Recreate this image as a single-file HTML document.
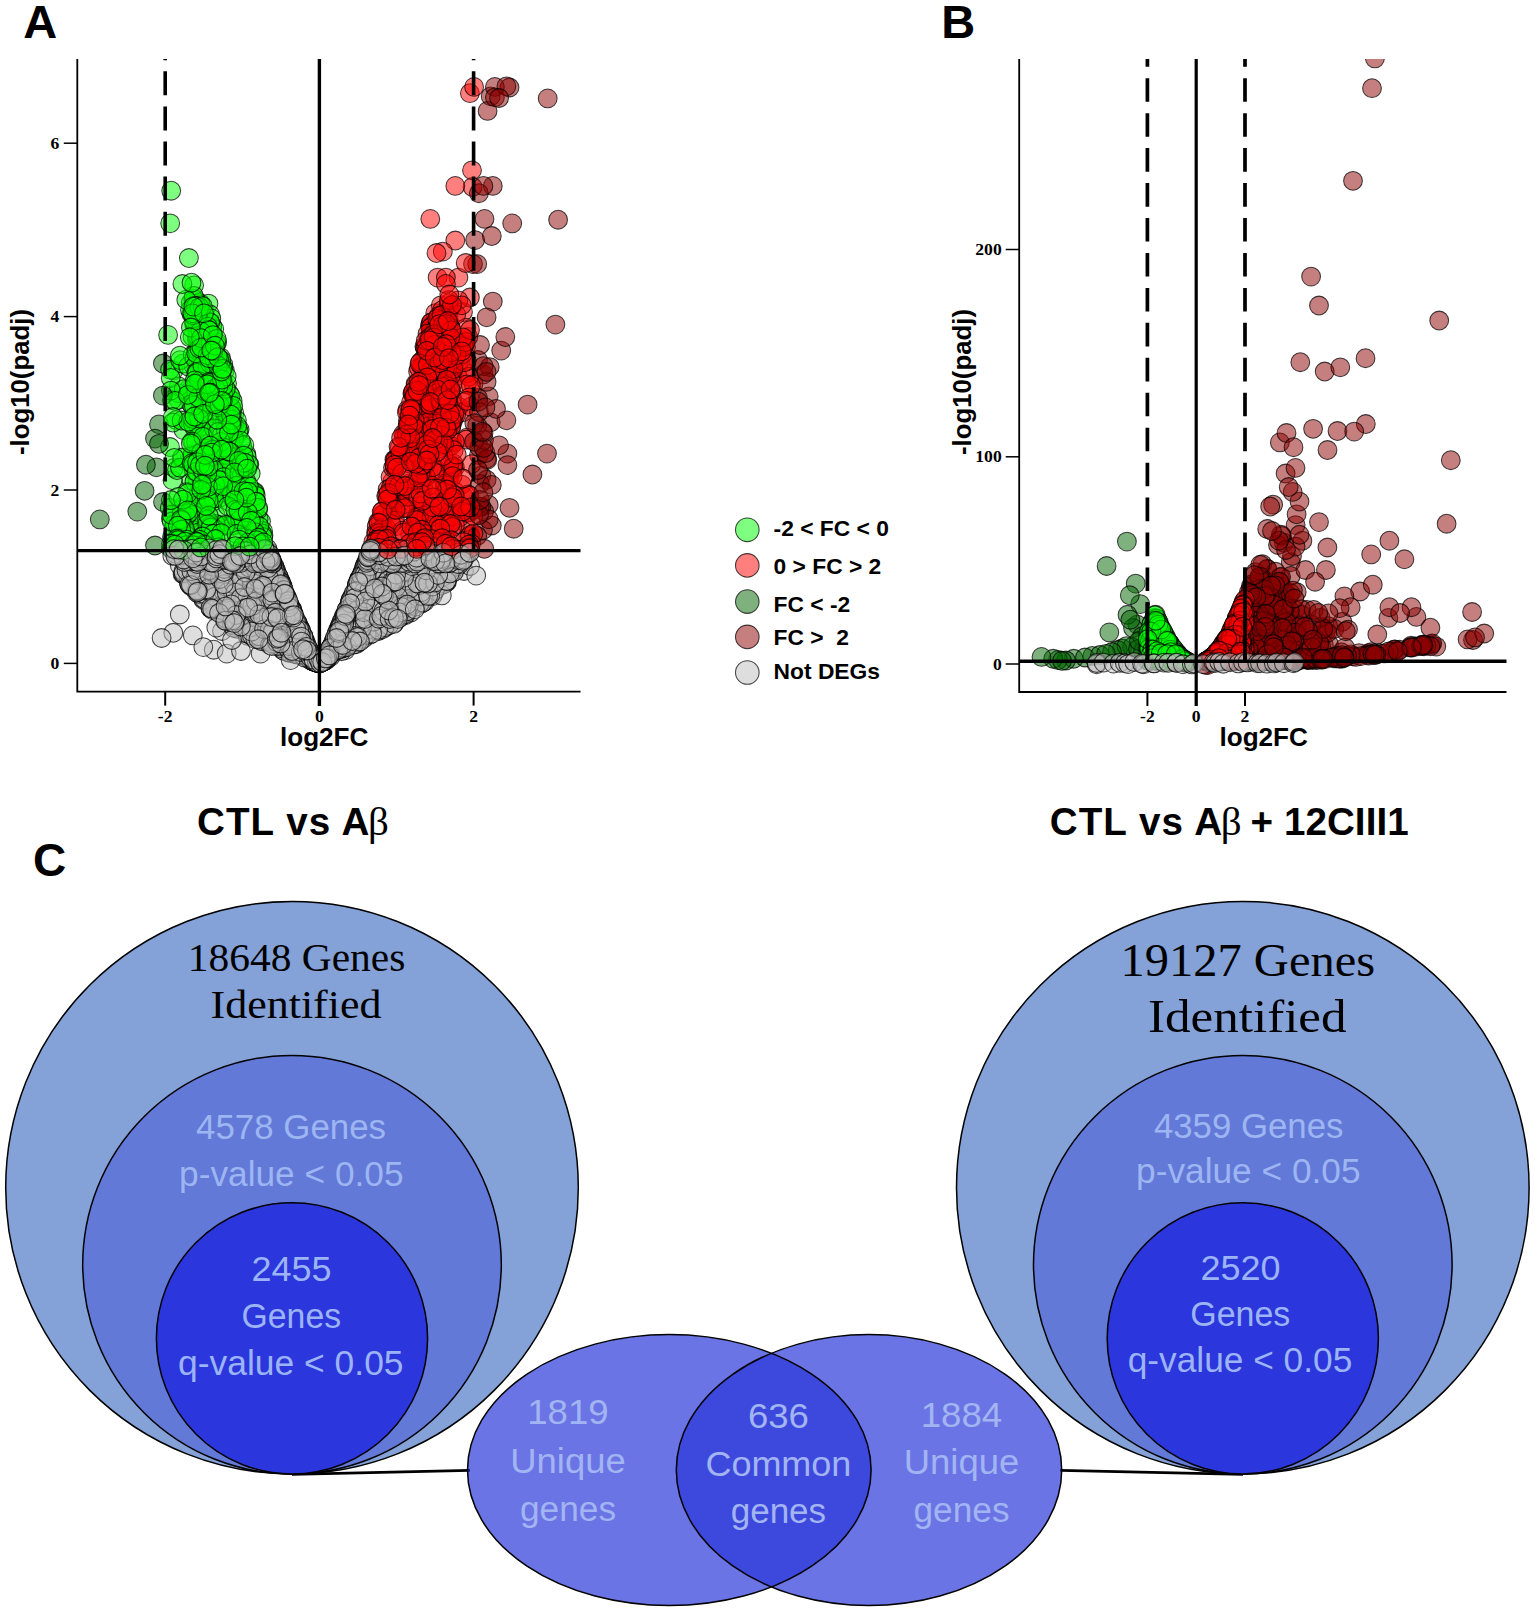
<!DOCTYPE html>
<html lang="en"><head><meta charset="utf-8">
<title>Volcano plots and Venn diagrams of differentially expressed genes</title>
<style>
html,body{margin:0;padding:0;background:#fff;}
body{width:1535px;height:1613px;overflow:hidden;}
svg{display:block;}
text{font-family:"Liberation Sans", Arial, Helvetica, sans-serif;}
.b{font-weight:700;fill:#000;}
.tk{font-family:"Liberation Serif", "Times New Roman", Times, serif;font-weight:700;font-size:17.6px;fill:#000;}
.pal{font-family:"Liberation Serif", "Times New Roman", Times, serif;fill:#000;}
.cal{fill:#9db6f2;font-size:34.4px;}
.cal2{fill:#9cb4f6;font-size:34.4px;}
.cal3{fill:#a3b4f3;font-size:34.4px;}
circle{stroke:#000;stroke-opacity:.72;stroke-width:1.05px;}
.g{fill:rgba(0,255,0,.5);}
.r{fill:rgba(255,0,0,.5);}
.G{fill:rgba(0,100,0,.5);}
.R{fill:rgba(139,0,0,.5);}
.n{fill:rgba(190,190,190,.5);}
.ax{stroke:#000;fill:none;}
</style></head><body>
<svg width="1535" height="1613" viewBox="0 0 1535 1613">
<rect x="0" y="0" width="1535" height="1613" fill="#fff"/>
<text class="b" x="23.3" y="38.0" font-size="47">A</text>
<text class="b" x="941.3" y="38.4" font-size="47">B</text>
<text class="b" x="33" y="876" font-size="46">C</text>
<clipPath id="ca"><rect x="77.3" y="59.0" width="515.2" height="632.6"/></clipPath>
<g clip-path="url(#ca)">
<circle class="n" cx="434.5" cy="565.6" r="9.4"/>
<circle class="n" cx="344.4" cy="646.1" r="9.4"/>
<circle class="n" cx="310.5" cy="652.4" r="9.4"/>
<circle class="n" cx="266.5" cy="636.0" r="9.4"/>
<circle class="n" cx="269.4" cy="571.9" r="9.4"/>
<circle class="n" cx="361.9" cy="573.7" r="9.4"/>
<circle class="n" cx="295.1" cy="650.8" r="9.4"/>
<circle class="n" cx="386.2" cy="626.7" r="9.4"/>
<circle class="n" cx="258.0" cy="638.9" r="9.4"/>
<circle class="n" cx="393.4" cy="615.1" r="9.4"/>
<circle class="n" cx="352.1" cy="628.6" r="9.4"/>
<circle class="n" cx="375.8" cy="622.9" r="9.4"/>
<circle class="n" cx="404.0" cy="585.1" r="9.4"/>
<circle class="n" cx="280.8" cy="584.7" r="9.4"/>
<circle class="n" cx="320.9" cy="662.6" r="9.4"/>
<circle class="n" cx="195.7" cy="573.6" r="9.4"/>
<circle class="n" cx="351.5" cy="624.4" r="9.4"/>
<circle class="n" cx="450.4" cy="566.2" r="9.4"/>
<circle class="n" cx="286.4" cy="596.4" r="9.4"/>
<circle class="n" cx="311.3" cy="656.0" r="9.4"/>
<circle class="n" cx="226.8" cy="616.0" r="9.4"/>
<circle class="n" cx="391.0" cy="580.6" r="9.4"/>
<circle class="n" cx="382.5" cy="585.2" r="9.4"/>
<circle class="n" cx="294.2" cy="648.4" r="9.4"/>
<circle class="n" cx="237.1" cy="628.8" r="9.4"/>
<circle class="n" cx="317.3" cy="662.7" r="9.4"/>
<circle class="n" cx="224.6" cy="584.8" r="9.4"/>
<circle class="n" cx="216.7" cy="584.8" r="9.4"/>
<circle class="n" cx="409.8" cy="571.9" r="9.4"/>
<circle class="n" cx="275.6" cy="571.8" r="9.4"/>
<circle class="n" cx="253.4" cy="586.7" r="9.4"/>
<circle class="n" cx="173.3" cy="632.8" r="9.4"/>
<circle class="n" cx="429.8" cy="579.9" r="9.4"/>
<circle class="n" cx="296.1" cy="623.1" r="9.4"/>
<circle class="n" cx="242.4" cy="591.2" r="9.4"/>
<circle class="n" cx="195.3" cy="565.4" r="9.4"/>
<circle class="n" cx="312.7" cy="661.1" r="9.4"/>
<circle class="n" cx="285.3" cy="605.8" r="9.4"/>
<circle class="n" cx="364.6" cy="567.0" r="9.4"/>
<circle class="n" cx="291.7" cy="608.6" r="9.4"/>
<circle class="n" cx="353.1" cy="619.9" r="9.4"/>
<circle class="n" cx="222.0" cy="631.0" r="9.4"/>
<circle class="n" cx="274.6" cy="567.2" r="9.4"/>
<circle class="n" cx="252.2" cy="615.3" r="9.4"/>
<circle class="n" cx="291.0" cy="610.1" r="9.4"/>
<circle class="n" cx="284.2" cy="617.9" r="9.4"/>
<circle class="n" cx="309.1" cy="652.3" r="9.4"/>
<circle class="n" cx="415.0" cy="596.6" r="9.4"/>
<circle class="n" cx="260.8" cy="628.7" r="9.4"/>
<circle class="n" cx="303.1" cy="635.5" r="9.4"/>
<circle class="n" cx="464.0" cy="571.0" r="9.4"/>
<circle class="n" cx="333.8" cy="649.0" r="9.4"/>
<circle class="n" cx="260.4" cy="620.0" r="9.4"/>
<circle class="n" cx="305.2" cy="640.8" r="9.4"/>
<circle class="n" cx="248.0" cy="569.7" r="9.4"/>
<circle class="n" cx="367.0" cy="580.8" r="9.4"/>
<circle class="n" cx="342.7" cy="626.5" r="9.4"/>
<circle class="n" cx="245.0" cy="567.9" r="9.4"/>
<circle class="n" cx="306.5" cy="655.5" r="9.4"/>
<circle class="n" cx="340.4" cy="626.0" r="9.4"/>
<circle class="n" cx="354.5" cy="595.9" r="9.4"/>
<circle class="n" cx="361.9" cy="636.9" r="9.4"/>
<circle class="n" cx="290.0" cy="608.1" r="9.4"/>
<circle class="n" cx="364.3" cy="620.2" r="9.4"/>
<circle class="n" cx="184.2" cy="574.4" r="9.4"/>
<circle class="n" cx="385.7" cy="586.5" r="9.4"/>
<circle class="n" cx="313.0" cy="661.3" r="9.4"/>
<circle class="n" cx="274.1" cy="612.6" r="9.4"/>
<circle class="n" cx="209.1" cy="570.6" r="9.4"/>
<circle class="n" cx="278.1" cy="576.0" r="9.4"/>
<circle class="n" cx="359.1" cy="579.3" r="9.4"/>
<circle class="n" cx="297.8" cy="623.1" r="9.4"/>
<circle class="n" cx="356.9" cy="584.5" r="9.4"/>
<circle class="n" cx="397.9" cy="591.7" r="9.4"/>
<circle class="n" cx="356.3" cy="593.1" r="9.4"/>
<circle class="n" cx="350.0" cy="602.0" r="9.4"/>
<circle class="n" cx="324.2" cy="661.0" r="9.4"/>
<circle class="n" cx="257.2" cy="605.0" r="9.4"/>
<circle class="n" cx="260.3" cy="607.1" r="9.4"/>
<circle class="n" cx="310.1" cy="653.6" r="9.4"/>
<circle class="n" cx="360.6" cy="577.8" r="9.4"/>
<circle class="n" cx="251.4" cy="603.9" r="9.4"/>
<circle class="n" cx="316.6" cy="662.4" r="9.4"/>
<circle class="n" cx="234.9" cy="625.8" r="9.4"/>
<circle class="n" cx="355.3" cy="592.2" r="9.4"/>
<circle class="n" cx="283.5" cy="591.3" r="9.4"/>
<circle class="n" cx="347.3" cy="609.1" r="9.4"/>
<circle class="n" cx="290.8" cy="609.2" r="9.4"/>
<circle class="n" cx="291.6" cy="609.1" r="9.4"/>
<circle class="n" cx="354.9" cy="595.5" r="9.4"/>
<circle class="n" cx="294.5" cy="622.3" r="9.4"/>
<circle class="n" cx="371.8" cy="622.1" r="9.4"/>
<circle class="n" cx="272.2" cy="597.7" r="9.4"/>
<circle class="n" cx="282.7" cy="599.0" r="9.4"/>
<circle class="n" cx="346.3" cy="613.3" r="9.4"/>
<circle class="n" cx="293.4" cy="615.5" r="9.4"/>
<circle class="n" cx="335.1" cy="639.8" r="9.4"/>
<circle class="n" cx="179.8" cy="614.5" r="9.4"/>
<circle class="n" cx="338.2" cy="629.6" r="9.4"/>
<circle class="n" cx="379.2" cy="624.3" r="9.4"/>
<circle class="n" cx="413.6" cy="590.1" r="9.4"/>
<circle class="n" cx="349.2" cy="630.0" r="9.4"/>
<circle class="n" cx="260.7" cy="639.8" r="9.4"/>
<circle class="n" cx="273.5" cy="590.3" r="9.4"/>
<circle class="n" cx="365.7" cy="626.0" r="9.4"/>
<circle class="n" cx="238.3" cy="564.5" r="9.4"/>
<circle class="n" cx="400.7" cy="570.4" r="9.4"/>
<circle class="n" cx="299.4" cy="630.3" r="9.4"/>
<circle class="n" cx="398.5" cy="611.7" r="9.4"/>
<circle class="n" cx="294.8" cy="617.6" r="9.4"/>
<circle class="n" cx="410.8" cy="612.4" r="9.4"/>
<circle class="n" cx="278.3" cy="579.5" r="9.4"/>
<circle class="n" cx="321.3" cy="662.4" r="9.4"/>
<circle class="n" cx="275.3" cy="619.1" r="9.4"/>
<circle class="n" cx="352.2" cy="598.0" r="9.4"/>
<circle class="n" cx="287.7" cy="615.7" r="9.4"/>
<circle class="n" cx="305.3" cy="642.2" r="9.4"/>
<circle class="n" cx="381.1" cy="606.5" r="9.4"/>
<circle class="n" cx="451.3" cy="573.6" r="9.4"/>
<circle class="n" cx="379.9" cy="573.4" r="9.4"/>
<circle class="n" cx="362.3" cy="605.1" r="9.4"/>
<circle class="n" cx="319.3" cy="663.4" r="9.4"/>
<circle class="n" cx="425.9" cy="578.5" r="9.4"/>
<circle class="n" cx="308.3" cy="653.1" r="9.4"/>
<circle class="n" cx="253.8" cy="575.2" r="9.4"/>
<circle class="n" cx="300.8" cy="654.2" r="9.4"/>
<circle class="n" cx="324.2" cy="661.0" r="9.4"/>
<circle class="n" cx="281.5" cy="626.2" r="9.4"/>
<circle class="n" cx="336.5" cy="637.2" r="9.4"/>
<circle class="n" cx="356.6" cy="587.2" r="9.4"/>
<circle class="n" cx="203.0" cy="584.0" r="9.4"/>
<circle class="n" cx="288.2" cy="652.5" r="9.4"/>
<circle class="n" cx="356.0" cy="594.1" r="9.4"/>
<circle class="n" cx="289.8" cy="643.3" r="9.4"/>
<circle class="n" cx="310.9" cy="654.2" r="9.4"/>
<circle class="n" cx="290.9" cy="610.9" r="9.4"/>
<circle class="n" cx="308.9" cy="656.9" r="9.4"/>
<circle class="n" cx="347.4" cy="640.6" r="9.4"/>
<circle class="n" cx="285.7" cy="597.9" r="9.4"/>
<circle class="n" cx="404.4" cy="576.9" r="9.4"/>
<circle class="n" cx="333.5" cy="641.2" r="9.4"/>
<circle class="n" cx="227.4" cy="621.3" r="9.4"/>
<circle class="n" cx="287.1" cy="601.8" r="9.4"/>
<circle class="n" cx="293.2" cy="613.4" r="9.4"/>
<circle class="n" cx="292.9" cy="612.0" r="9.4"/>
<circle class="n" cx="298.3" cy="627.4" r="9.4"/>
<circle class="n" cx="271.9" cy="567.2" r="9.4"/>
<circle class="n" cx="413.3" cy="587.3" r="9.4"/>
<circle class="n" cx="301.5" cy="645.1" r="9.4"/>
<circle class="n" cx="280.6" cy="643.6" r="9.4"/>
<circle class="n" cx="434.2" cy="586.7" r="9.4"/>
<circle class="n" cx="376.0" cy="582.5" r="9.4"/>
<circle class="n" cx="359.3" cy="578.6" r="9.4"/>
<circle class="n" cx="369.3" cy="593.0" r="9.4"/>
<circle class="n" cx="440.3" cy="572.8" r="9.4"/>
<circle class="n" cx="358.4" cy="587.7" r="9.4"/>
<circle class="n" cx="375.9" cy="605.1" r="9.4"/>
<circle class="n" cx="300.9" cy="638.7" r="9.4"/>
<circle class="n" cx="316.1" cy="662.3" r="9.4"/>
<circle class="n" cx="198.4" cy="568.9" r="9.4"/>
<circle class="n" cx="297.7" cy="653.6" r="9.4"/>
<circle class="n" cx="369.1" cy="592.5" r="9.4"/>
<circle class="n" cx="359.2" cy="582.6" r="9.4"/>
<circle class="n" cx="298.9" cy="629.6" r="9.4"/>
<circle class="n" cx="191.9" cy="570.6" r="9.4"/>
<circle class="n" cx="358.0" cy="586.3" r="9.4"/>
<circle class="n" cx="366.1" cy="568.7" r="9.4"/>
<circle class="n" cx="243.3" cy="629.6" r="9.4"/>
<circle class="n" cx="303.3" cy="643.1" r="9.4"/>
<circle class="n" cx="372.2" cy="568.2" r="9.4"/>
<circle class="n" cx="435.2" cy="575.5" r="9.4"/>
<circle class="n" cx="300.8" cy="636.3" r="9.4"/>
<circle class="n" cx="290.6" cy="631.7" r="9.4"/>
<circle class="n" cx="213.7" cy="568.7" r="9.4"/>
<circle class="n" cx="280.4" cy="617.6" r="9.4"/>
<circle class="n" cx="324.6" cy="660.8" r="9.4"/>
<circle class="n" cx="293.6" cy="618.5" r="9.4"/>
<circle class="n" cx="331.6" cy="652.2" r="9.4"/>
<circle class="n" cx="298.3" cy="626.0" r="9.4"/>
<circle class="n" cx="393.0" cy="606.5" r="9.4"/>
<circle class="n" cx="287.4" cy="600.3" r="9.4"/>
<circle class="n" cx="161.6" cy="638.0" r="9.4"/>
<circle class="n" cx="435.8" cy="570.5" r="9.4"/>
<circle class="n" cx="261.3" cy="637.7" r="9.4"/>
<circle class="n" cx="240.4" cy="575.5" r="9.4"/>
<circle class="n" cx="235.9" cy="573.9" r="9.4"/>
<circle class="n" cx="309.7" cy="651.3" r="9.4"/>
<circle class="n" cx="391.9" cy="579.1" r="9.4"/>
<circle class="n" cx="358.8" cy="639.4" r="9.4"/>
<circle class="n" cx="363.2" cy="575.0" r="9.4"/>
<circle class="n" cx="368.5" cy="617.6" r="9.4"/>
<circle class="n" cx="325.8" cy="658.7" r="9.4"/>
<circle class="n" cx="371.3" cy="569.6" r="9.4"/>
<circle class="n" cx="422.6" cy="599.6" r="9.4"/>
<circle class="n" cx="262.8" cy="637.4" r="9.4"/>
<circle class="n" cx="380.1" cy="604.8" r="9.4"/>
<circle class="n" cx="452.5" cy="563.7" r="9.4"/>
<circle class="n" cx="264.8" cy="590.6" r="9.4"/>
<circle class="n" cx="340.2" cy="627.4" r="9.4"/>
<circle class="n" cx="350.1" cy="604.4" r="9.4"/>
<circle class="n" cx="248.1" cy="588.3" r="9.4"/>
<circle class="n" cx="439.6" cy="564.4" r="9.4"/>
<circle class="n" cx="424.9" cy="601.4" r="9.4"/>
<circle class="n" cx="282.8" cy="649.9" r="9.4"/>
<circle class="n" cx="332.8" cy="643.7" r="9.4"/>
<circle class="n" cx="364.9" cy="569.5" r="9.4"/>
<circle class="n" cx="264.9" cy="600.2" r="9.4"/>
<circle class="n" cx="357.5" cy="586.8" r="9.4"/>
<circle class="n" cx="348.7" cy="619.5" r="9.4"/>
<circle class="n" cx="356.0" cy="623.4" r="9.4"/>
<circle class="n" cx="289.2" cy="604.6" r="9.4"/>
<circle class="n" cx="405.4" cy="615.2" r="9.4"/>
<circle class="n" cx="199.6" cy="579.3" r="9.4"/>
<circle class="n" cx="353.2" cy="621.8" r="9.4"/>
<circle class="n" cx="226.1" cy="587.1" r="9.4"/>
<circle class="n" cx="299.2" cy="630.0" r="9.4"/>
<circle class="n" cx="331.4" cy="646.8" r="9.4"/>
<circle class="n" cx="263.4" cy="620.7" r="9.4"/>
<circle class="n" cx="301.5" cy="633.0" r="9.4"/>
<circle class="n" cx="397.5" cy="605.4" r="9.4"/>
<circle class="n" cx="434.3" cy="568.1" r="9.4"/>
<circle class="n" cx="214.9" cy="566.6" r="9.4"/>
<circle class="n" cx="258.6" cy="566.5" r="9.4"/>
<circle class="n" cx="382.9" cy="619.0" r="9.4"/>
<circle class="n" cx="300.8" cy="641.0" r="9.4"/>
<circle class="n" cx="375.8" cy="565.8" r="9.4"/>
<circle class="n" cx="282.6" cy="587.1" r="9.4"/>
<circle class="n" cx="386.9" cy="585.6" r="9.4"/>
<circle class="n" cx="311.5" cy="660.3" r="9.4"/>
<circle class="n" cx="352.3" cy="625.4" r="9.4"/>
<circle class="n" cx="312.8" cy="657.9" r="9.4"/>
<circle class="n" cx="346.2" cy="613.1" r="9.4"/>
<circle class="n" cx="280.1" cy="623.9" r="9.4"/>
<circle class="n" cx="236.2" cy="572.3" r="9.4"/>
<circle class="n" cx="356.6" cy="636.8" r="9.4"/>
<circle class="n" cx="224.3" cy="612.3" r="9.4"/>
<circle class="n" cx="182.6" cy="574.1" r="9.4"/>
<circle class="n" cx="331.7" cy="646.0" r="9.4"/>
<circle class="n" cx="428.7" cy="590.3" r="9.4"/>
<circle class="n" cx="256.3" cy="637.0" r="9.4"/>
<circle class="n" cx="236.1" cy="615.6" r="9.4"/>
<circle class="n" cx="371.9" cy="582.0" r="9.4"/>
<circle class="n" cx="314.2" cy="660.2" r="9.4"/>
<circle class="n" cx="391.2" cy="593.6" r="9.4"/>
<circle class="n" cx="337.1" cy="638.2" r="9.4"/>
<circle class="n" cx="209.2" cy="601.8" r="9.4"/>
<circle class="n" cx="399.8" cy="587.6" r="9.4"/>
<circle class="n" cx="406.2" cy="575.0" r="9.4"/>
<circle class="n" cx="361.9" cy="624.3" r="9.4"/>
<circle class="n" cx="353.7" cy="642.0" r="9.4"/>
<circle class="n" cx="343.1" cy="627.7" r="9.4"/>
<circle class="n" cx="276.2" cy="574.8" r="9.4"/>
<circle class="n" cx="388.3" cy="567.5" r="9.4"/>
<circle class="n" cx="288.4" cy="636.2" r="9.4"/>
<circle class="n" cx="378.1" cy="567.3" r="9.4"/>
<circle class="n" cx="387.0" cy="588.0" r="9.4"/>
<circle class="n" cx="404.8" cy="575.7" r="9.4"/>
<circle class="n" cx="228.2" cy="586.7" r="9.4"/>
<circle class="n" cx="335.5" cy="637.1" r="9.4"/>
<circle class="n" cx="340.3" cy="624.7" r="9.4"/>
<circle class="n" cx="284.9" cy="596.0" r="9.4"/>
<circle class="n" cx="327.6" cy="658.0" r="9.4"/>
<circle class="n" cx="227.3" cy="583.1" r="9.4"/>
<circle class="n" cx="278.2" cy="577.7" r="9.4"/>
<circle class="n" cx="363.8" cy="633.2" r="9.4"/>
<circle class="n" cx="255.9" cy="597.5" r="9.4"/>
<circle class="n" cx="234.9" cy="576.8" r="9.4"/>
<circle class="n" cx="355.2" cy="612.3" r="9.4"/>
<circle class="n" cx="339.0" cy="634.5" r="9.4"/>
<circle class="n" cx="360.4" cy="600.7" r="9.4"/>
<circle class="n" cx="448.8" cy="571.0" r="9.4"/>
<circle class="n" cx="277.1" cy="638.4" r="9.4"/>
<circle class="n" cx="357.7" cy="586.8" r="9.4"/>
<circle class="n" cx="273.5" cy="567.0" r="9.4"/>
<circle class="n" cx="179.8" cy="565.5" r="9.4"/>
<circle class="n" cx="403.9" cy="614.4" r="9.4"/>
<circle class="n" cx="300.1" cy="628.5" r="9.4"/>
<circle class="n" cx="255.7" cy="569.6" r="9.4"/>
<circle class="n" cx="225.6" cy="610.9" r="9.4"/>
<circle class="n" cx="413.9" cy="586.7" r="9.4"/>
<circle class="n" cx="359.0" cy="612.3" r="9.4"/>
<circle class="n" cx="364.1" cy="570.5" r="9.4"/>
<circle class="n" cx="259.4" cy="573.1" r="9.4"/>
<circle class="n" cx="309.8" cy="650.8" r="9.4"/>
<circle class="n" cx="276.9" cy="582.1" r="9.4"/>
<circle class="n" cx="251.3" cy="631.9" r="9.4"/>
<circle class="n" cx="401.0" cy="575.0" r="9.4"/>
<circle class="n" cx="355.3" cy="600.4" r="9.4"/>
<circle class="n" cx="243.2" cy="591.0" r="9.4"/>
<circle class="n" cx="214.2" cy="608.1" r="9.4"/>
<circle class="n" cx="309.9" cy="655.6" r="9.4"/>
<circle class="n" cx="221.2" cy="572.1" r="9.4"/>
<circle class="n" cx="242.6" cy="609.7" r="9.4"/>
<circle class="n" cx="212.1" cy="601.5" r="9.4"/>
<circle class="n" cx="261.0" cy="617.4" r="9.4"/>
<circle class="n" cx="206.9" cy="566.4" r="9.4"/>
<circle class="n" cx="419.4" cy="570.7" r="9.4"/>
<circle class="n" cx="393.5" cy="590.3" r="9.4"/>
<circle class="n" cx="229.8" cy="593.6" r="9.4"/>
<circle class="n" cx="361.7" cy="637.9" r="9.4"/>
<circle class="n" cx="339.4" cy="644.6" r="9.4"/>
<circle class="n" cx="233.1" cy="578.1" r="9.4"/>
<circle class="n" cx="383.1" cy="607.7" r="9.4"/>
<circle class="n" cx="231.3" cy="588.3" r="9.4"/>
<circle class="n" cx="215.3" cy="591.9" r="9.4"/>
<circle class="n" cx="264.3" cy="611.0" r="9.4"/>
<circle class="n" cx="282.0" cy="634.6" r="9.4"/>
<circle class="n" cx="328.0" cy="652.9" r="9.4"/>
<circle class="n" cx="346.4" cy="646.2" r="9.4"/>
<circle class="n" cx="377.4" cy="605.3" r="9.4"/>
<circle class="n" cx="300.0" cy="638.1" r="9.4"/>
<circle class="n" cx="347.9" cy="608.0" r="9.4"/>
<circle class="n" cx="391.9" cy="600.9" r="9.4"/>
<circle class="n" cx="203.1" cy="598.4" r="9.4"/>
<circle class="n" cx="183.2" cy="573.9" r="9.4"/>
<circle class="n" cx="243.7" cy="592.4" r="9.4"/>
<circle class="n" cx="356.4" cy="594.0" r="9.4"/>
<circle class="n" cx="353.3" cy="628.1" r="9.4"/>
<circle class="n" cx="278.2" cy="619.9" r="9.4"/>
<circle class="n" cx="421.6" cy="603.6" r="9.4"/>
<circle class="n" cx="296.2" cy="649.1" r="9.4"/>
<circle class="n" cx="335.6" cy="639.3" r="9.4"/>
<circle class="n" cx="249.3" cy="609.8" r="9.4"/>
<circle class="n" cx="281.1" cy="596.0" r="9.4"/>
<circle class="n" cx="351.3" cy="618.8" r="9.4"/>
<circle class="n" cx="361.2" cy="583.8" r="9.4"/>
<circle class="n" cx="420.1" cy="602.7" r="9.4"/>
<circle class="n" cx="280.9" cy="582.1" r="9.4"/>
<circle class="n" cx="298.2" cy="626.6" r="9.4"/>
<circle class="n" cx="329.8" cy="654.4" r="9.4"/>
<circle class="n" cx="314.8" cy="661.8" r="9.4"/>
<circle class="n" cx="369.3" cy="635.0" r="9.4"/>
<circle class="n" cx="359.0" cy="580.4" r="9.4"/>
<circle class="n" cx="262.5" cy="641.3" r="9.4"/>
<circle class="n" cx="354.6" cy="592.8" r="9.4"/>
<circle class="n" cx="424.7" cy="596.2" r="9.4"/>
<circle class="n" cx="373.1" cy="578.0" r="9.4"/>
<circle class="n" cx="267.3" cy="583.4" r="9.4"/>
<circle class="n" cx="441.6" cy="573.4" r="9.4"/>
<circle class="n" cx="346.1" cy="615.3" r="9.4"/>
<circle class="n" cx="210.4" cy="608.3" r="9.4"/>
<circle class="n" cx="340.5" cy="645.2" r="9.4"/>
<circle class="n" cx="342.4" cy="622.8" r="9.4"/>
<circle class="n" cx="243.6" cy="622.5" r="9.4"/>
<circle class="n" cx="408.0" cy="610.9" r="9.4"/>
<circle class="n" cx="292.9" cy="640.0" r="9.4"/>
<circle class="n" cx="330.3" cy="654.8" r="9.4"/>
<circle class="n" cx="247.4" cy="585.9" r="9.4"/>
<circle class="n" cx="437.1" cy="586.3" r="9.4"/>
<circle class="n" cx="278.1" cy="577.9" r="9.4"/>
<circle class="n" cx="218.4" cy="584.9" r="9.4"/>
<circle class="n" cx="278.9" cy="577.2" r="9.4"/>
<circle class="n" cx="334.8" cy="642.7" r="9.4"/>
<circle class="n" cx="288.2" cy="602.5" r="9.4"/>
<circle class="n" cx="375.3" cy="582.0" r="9.4"/>
<circle class="n" cx="311.6" cy="658.5" r="9.4"/>
<circle class="n" cx="370.4" cy="579.1" r="9.4"/>
<circle class="n" cx="222.3" cy="614.6" r="9.4"/>
<circle class="n" cx="367.9" cy="604.0" r="9.4"/>
<circle class="n" cx="366.4" cy="564.0" r="9.4"/>
<circle class="n" cx="409.7" cy="591.6" r="9.4"/>
<circle class="n" cx="362.8" cy="572.6" r="9.4"/>
<circle class="n" cx="262.1" cy="577.8" r="9.4"/>
<circle class="n" cx="257.8" cy="633.8" r="9.4"/>
<circle class="n" cx="423.1" cy="578.5" r="9.4"/>
<circle class="n" cx="273.7" cy="571.3" r="9.4"/>
<circle class="n" cx="255.0" cy="591.5" r="9.4"/>
<circle class="n" cx="314.2" cy="661.6" r="9.4"/>
<circle class="n" cx="403.7" cy="607.9" r="9.4"/>
<circle class="n" cx="335.9" cy="649.3" r="9.4"/>
<circle class="n" cx="349.9" cy="612.9" r="9.4"/>
<circle class="n" cx="201.8" cy="582.4" r="9.4"/>
<circle class="n" cx="241.9" cy="627.2" r="9.4"/>
<circle class="n" cx="396.8" cy="601.3" r="9.4"/>
<circle class="n" cx="351.1" cy="602.1" r="9.4"/>
<circle class="n" cx="347.9" cy="608.3" r="9.4"/>
<circle class="n" cx="377.9" cy="631.0" r="9.4"/>
<circle class="n" cx="315.8" cy="661.2" r="9.4"/>
<circle class="n" cx="341.8" cy="623.7" r="9.4"/>
<circle class="n" cx="230.5" cy="577.1" r="9.4"/>
<circle class="n" cx="249.0" cy="600.4" r="9.4"/>
<circle class="n" cx="232.0" cy="624.7" r="9.4"/>
<circle class="n" cx="411.1" cy="567.7" r="9.4"/>
<circle class="n" cx="351.3" cy="616.4" r="9.4"/>
<circle class="n" cx="352.7" cy="595.8" r="9.4"/>
<circle class="n" cx="303.8" cy="640.5" r="9.4"/>
<circle class="n" cx="424.6" cy="578.6" r="9.4"/>
<circle class="n" cx="342.5" cy="621.3" r="9.4"/>
<circle class="n" cx="363.9" cy="592.3" r="9.4"/>
<circle class="n" cx="345.3" cy="650.2" r="9.4"/>
<circle class="n" cx="398.5" cy="597.3" r="9.4"/>
<circle class="n" cx="275.2" cy="573.3" r="9.4"/>
<circle class="n" cx="437.1" cy="579.3" r="9.4"/>
<circle class="n" cx="299.0" cy="626.7" r="9.4"/>
<circle class="n" cx="242.4" cy="584.9" r="9.4"/>
<circle class="n" cx="288.6" cy="610.0" r="9.4"/>
<circle class="n" cx="349.5" cy="606.6" r="9.4"/>
<circle class="n" cx="416.5" cy="578.8" r="9.4"/>
<circle class="n" cx="203.4" cy="599.8" r="9.4"/>
<circle class="n" cx="384.7" cy="603.3" r="9.4"/>
<circle class="n" cx="342.3" cy="627.6" r="9.4"/>
<circle class="n" cx="382.2" cy="626.7" r="9.4"/>
<circle class="n" cx="358.9" cy="581.5" r="9.4"/>
<circle class="n" cx="295.7" cy="623.2" r="9.4"/>
<circle class="n" cx="378.1" cy="576.2" r="9.4"/>
<circle class="n" cx="381.1" cy="587.2" r="9.4"/>
<circle class="n" cx="222.1" cy="613.2" r="9.4"/>
<circle class="n" cx="346.0" cy="617.0" r="9.4"/>
<circle class="n" cx="284.2" cy="651.1" r="9.4"/>
<circle class="n" cx="222.1" cy="576.2" r="9.4"/>
<circle class="n" cx="434.6" cy="591.0" r="9.4"/>
<circle class="n" cx="337.9" cy="645.5" r="9.4"/>
<circle class="n" cx="407.6" cy="571.0" r="9.4"/>
<circle class="n" cx="389.4" cy="600.5" r="9.4"/>
<circle class="n" cx="312.5" cy="661.1" r="9.4"/>
<circle class="n" cx="423.0" cy="577.5" r="9.4"/>
<circle class="n" cx="325.2" cy="659.0" r="9.4"/>
<circle class="n" cx="253.7" cy="581.0" r="9.4"/>
<circle class="n" cx="272.6" cy="580.5" r="9.4"/>
<circle class="n" cx="290.0" cy="629.6" r="9.4"/>
<circle class="n" cx="368.2" cy="622.7" r="9.4"/>
<circle class="n" cx="251.2" cy="627.2" r="9.4"/>
<circle class="n" cx="359.5" cy="578.9" r="9.4"/>
<circle class="n" cx="312.5" cy="656.6" r="9.4"/>
<circle class="n" cx="440.3" cy="582.7" r="9.4"/>
<circle class="n" cx="254.3" cy="607.3" r="9.4"/>
<circle class="n" cx="324.1" cy="661.0" r="9.4"/>
<circle class="n" cx="300.9" cy="638.2" r="9.4"/>
<circle class="n" cx="302.7" cy="636.9" r="9.4"/>
<circle class="n" cx="318.7" cy="663.2" r="9.4"/>
<circle class="n" cx="365.9" cy="628.4" r="9.4"/>
<circle class="n" cx="241.5" cy="621.8" r="9.4"/>
<circle class="n" cx="286.3" cy="640.6" r="9.4"/>
<circle class="n" cx="324.3" cy="660.9" r="9.4"/>
<circle class="n" cx="283.5" cy="650.6" r="9.4"/>
<circle class="n" cx="402.8" cy="579.2" r="9.4"/>
<circle class="n" cx="210.4" cy="601.2" r="9.4"/>
<circle class="n" cx="355.6" cy="626.0" r="9.4"/>
<circle class="n" cx="396.3" cy="591.6" r="9.4"/>
<circle class="n" cx="327.8" cy="657.5" r="9.4"/>
<circle class="n" cx="214.7" cy="596.4" r="9.4"/>
<circle class="n" cx="322.6" cy="661.8" r="9.4"/>
<circle class="n" cx="261.1" cy="638.1" r="9.4"/>
<circle class="n" cx="396.3" cy="595.4" r="9.4"/>
<circle class="n" cx="238.1" cy="581.9" r="9.4"/>
<circle class="n" cx="213.1" cy="591.6" r="9.4"/>
<circle class="n" cx="232.2" cy="613.2" r="9.4"/>
<circle class="n" cx="206.2" cy="590.6" r="9.4"/>
<circle class="n" cx="275.2" cy="573.2" r="9.4"/>
<circle class="n" cx="280.7" cy="581.5" r="9.4"/>
<circle class="n" cx="280.7" cy="592.1" r="9.4"/>
<circle class="n" cx="374.9" cy="584.1" r="9.4"/>
<circle class="n" cx="400.0" cy="617.4" r="9.4"/>
<circle class="n" cx="426.1" cy="575.1" r="9.4"/>
<circle class="n" cx="317.1" cy="662.6" r="9.4"/>
<circle class="n" cx="386.5" cy="569.0" r="9.4"/>
<circle class="n" cx="361.3" cy="575.9" r="9.4"/>
<circle class="n" cx="284.3" cy="609.7" r="9.4"/>
<circle class="n" cx="260.6" cy="653.6" r="9.4"/>
<circle class="n" cx="248.4" cy="626.6" r="9.4"/>
<circle class="n" cx="345.7" cy="630.4" r="9.4"/>
<circle class="n" cx="361.4" cy="635.0" r="9.4"/>
<circle class="n" cx="290.4" cy="624.2" r="9.4"/>
<circle class="n" cx="395.6" cy="596.2" r="9.4"/>
<circle class="n" cx="401.2" cy="586.3" r="9.4"/>
<circle class="n" cx="349.7" cy="603.3" r="9.4"/>
<circle class="n" cx="299.5" cy="631.2" r="9.4"/>
<circle class="n" cx="345.5" cy="647.0" r="9.4"/>
<circle class="n" cx="276.1" cy="570.7" r="9.4"/>
<circle class="n" cx="306.0" cy="645.1" r="9.4"/>
<circle class="n" cx="263.6" cy="607.4" r="9.4"/>
<circle class="n" cx="296.4" cy="621.9" r="9.4"/>
<circle class="n" cx="281.0" cy="648.2" r="9.4"/>
<circle class="n" cx="374.4" cy="571.6" r="9.4"/>
<circle class="n" cx="260.0" cy="601.9" r="9.4"/>
<circle class="n" cx="282.7" cy="586.5" r="9.4"/>
<circle class="n" cx="339.7" cy="630.6" r="9.4"/>
<circle class="n" cx="292.3" cy="616.1" r="9.4"/>
<circle class="n" cx="302.4" cy="638.9" r="9.4"/>
<circle class="n" cx="389.3" cy="598.4" r="9.4"/>
<circle class="n" cx="351.1" cy="598.8" r="9.4"/>
<circle class="n" cx="316.5" cy="662.4" r="9.4"/>
<circle class="n" cx="422.8" cy="577.7" r="9.4"/>
<circle class="n" cx="281.9" cy="635.9" r="9.4"/>
<circle class="n" cx="346.2" cy="614.1" r="9.4"/>
<circle class="n" cx="331.1" cy="652.4" r="9.4"/>
<circle class="n" cx="256.2" cy="598.0" r="9.4"/>
<circle class="n" cx="307.5" cy="657.3" r="9.4"/>
<circle class="n" cx="373.7" cy="585.1" r="9.4"/>
<circle class="n" cx="389.2" cy="618.8" r="9.4"/>
<circle class="n" cx="365.1" cy="565.7" r="9.4"/>
<circle class="n" cx="284.8" cy="595.2" r="9.4"/>
<circle class="n" cx="375.8" cy="571.8" r="9.4"/>
<circle class="n" cx="244.0" cy="604.1" r="9.4"/>
<circle class="n" cx="366.7" cy="590.6" r="9.4"/>
<circle class="n" cx="265.8" cy="569.4" r="9.4"/>
<circle class="n" cx="289.8" cy="613.4" r="9.4"/>
<circle class="n" cx="344.8" cy="618.5" r="9.4"/>
<circle class="n" cx="373.8" cy="622.5" r="9.4"/>
<circle class="n" cx="215.1" cy="607.9" r="9.4"/>
<circle class="n" cx="224.7" cy="620.6" r="9.4"/>
<circle class="n" cx="326.8" cy="659.7" r="9.4"/>
<circle class="n" cx="440.1" cy="574.1" r="9.4"/>
<circle class="n" cx="378.8" cy="602.2" r="9.4"/>
<circle class="n" cx="187.9" cy="572.3" r="9.4"/>
<circle class="n" cx="296.6" cy="621.7" r="9.4"/>
<circle class="n" cx="314.9" cy="661.9" r="9.4"/>
<circle class="n" cx="379.3" cy="630.6" r="9.4"/>
<circle class="n" cx="411.4" cy="602.7" r="9.4"/>
<circle class="n" cx="188.4" cy="574.2" r="9.4"/>
<circle class="n" cx="386.3" cy="625.0" r="9.4"/>
<circle class="n" cx="441.5" cy="580.5" r="9.4"/>
<circle class="n" cx="332.3" cy="648.3" r="9.4"/>
<circle class="n" cx="357.0" cy="589.0" r="9.4"/>
<circle class="n" cx="276.6" cy="573.1" r="9.4"/>
<circle class="n" cx="304.2" cy="648.5" r="9.4"/>
<circle class="n" cx="275.7" cy="569.3" r="9.4"/>
<circle class="n" cx="382.8" cy="629.0" r="9.4"/>
<circle class="n" cx="277.2" cy="574.8" r="9.4"/>
<circle class="n" cx="304.0" cy="639.3" r="9.4"/>
<circle class="n" cx="293.3" cy="615.4" r="9.4"/>
<circle class="n" cx="211.4" cy="592.9" r="9.4"/>
<circle class="n" cx="445.9" cy="573.3" r="9.4"/>
<circle class="n" cx="433.7" cy="593.0" r="9.4"/>
<circle class="n" cx="329.1" cy="653.4" r="9.4"/>
<circle class="n" cx="363.0" cy="571.6" r="9.4"/>
<circle class="n" cx="363.8" cy="568.5" r="9.4"/>
<circle class="n" cx="356.5" cy="644.0" r="9.4"/>
<circle class="n" cx="286.4" cy="598.5" r="9.4"/>
<circle class="n" cx="227.9" cy="574.3" r="9.4"/>
<circle class="n" cx="376.9" cy="579.5" r="9.4"/>
<circle class="n" cx="280.7" cy="600.2" r="9.4"/>
<circle class="n" cx="365.3" cy="564.5" r="9.4"/>
<circle class="n" cx="222.9" cy="613.4" r="9.4"/>
<circle class="n" cx="410.1" cy="601.3" r="9.4"/>
<circle class="n" cx="213.7" cy="649.7" r="9.4"/>
<circle class="n" cx="196.9" cy="566.3" r="9.4"/>
<circle class="n" cx="267.9" cy="636.1" r="9.4"/>
<circle class="n" cx="388.0" cy="580.6" r="9.4"/>
<circle class="n" cx="245.1" cy="622.0" r="9.4"/>
<circle class="n" cx="266.2" cy="612.9" r="9.4"/>
<circle class="n" cx="354.5" cy="596.0" r="9.4"/>
<circle class="n" cx="426.0" cy="594.2" r="9.4"/>
<circle class="n" cx="408.3" cy="609.9" r="9.4"/>
<circle class="n" cx="355.5" cy="596.5" r="9.4"/>
<circle class="n" cx="276.1" cy="638.6" r="9.4"/>
<circle class="n" cx="204.5" cy="599.2" r="9.4"/>
<circle class="n" cx="221.0" cy="573.0" r="9.4"/>
<circle class="n" cx="276.6" cy="646.0" r="9.4"/>
<circle class="n" cx="370.7" cy="621.4" r="9.4"/>
<circle class="n" cx="271.4" cy="624.4" r="9.4"/>
<circle class="n" cx="311.2" cy="654.3" r="9.4"/>
<circle class="n" cx="301.0" cy="630.5" r="9.4"/>
<circle class="n" cx="264.1" cy="598.9" r="9.4"/>
<circle class="n" cx="432.3" cy="596.2" r="9.4"/>
<circle class="n" cx="401.9" cy="580.9" r="9.4"/>
<circle class="n" cx="429.6" cy="577.2" r="9.4"/>
<circle class="n" cx="280.1" cy="585.6" r="9.4"/>
<circle class="n" cx="371.8" cy="628.1" r="9.4"/>
<circle class="n" cx="249.0" cy="632.5" r="9.4"/>
<circle class="n" cx="310.0" cy="659.7" r="9.4"/>
<circle class="n" cx="405.4" cy="614.2" r="9.4"/>
<circle class="n" cx="282.2" cy="628.7" r="9.4"/>
<circle class="n" cx="377.8" cy="582.5" r="9.4"/>
<circle class="n" cx="239.5" cy="577.5" r="9.4"/>
<circle class="n" cx="470.0" cy="566.0" r="9.4"/>
<circle class="n" cx="341.9" cy="621.5" r="9.4"/>
<circle class="n" cx="428.5" cy="571.5" r="9.4"/>
<circle class="n" cx="358.4" cy="589.3" r="9.4"/>
<circle class="n" cx="394.3" cy="622.9" r="9.4"/>
<circle class="n" cx="229.3" cy="601.9" r="9.4"/>
<circle class="n" cx="280.3" cy="639.5" r="9.4"/>
<circle class="n" cx="341.6" cy="651.2" r="9.4"/>
<circle class="n" cx="330.2" cy="648.3" r="9.4"/>
<circle class="n" cx="338.6" cy="629.3" r="9.4"/>
<circle class="n" cx="349.8" cy="629.3" r="9.4"/>
<circle class="n" cx="362.0" cy="617.5" r="9.4"/>
<circle class="n" cx="280.0" cy="582.0" r="9.4"/>
<circle class="n" cx="191.2" cy="586.4" r="9.4"/>
<circle class="n" cx="377.0" cy="612.2" r="9.4"/>
<circle class="n" cx="356.7" cy="591.4" r="9.4"/>
<circle class="n" cx="283.2" cy="597.6" r="9.4"/>
<circle class="n" cx="346.4" cy="621.9" r="9.4"/>
<circle class="n" cx="258.9" cy="605.9" r="9.4"/>
<circle class="n" cx="291.5" cy="613.6" r="9.4"/>
<circle class="n" cx="201.7" cy="582.1" r="9.4"/>
<circle class="n" cx="330.5" cy="656.7" r="9.4"/>
<circle class="n" cx="265.2" cy="576.2" r="9.4"/>
<circle class="n" cx="292.6" cy="613.2" r="9.4"/>
<circle class="n" cx="367.4" cy="588.5" r="9.4"/>
<circle class="n" cx="415.8" cy="566.5" r="9.4"/>
<circle class="n" cx="441.5" cy="585.2" r="9.4"/>
<circle class="n" cx="343.6" cy="616.8" r="9.4"/>
<circle class="n" cx="337.4" cy="636.7" r="9.4"/>
<circle class="n" cx="240.9" cy="586.1" r="9.4"/>
<circle class="n" cx="259.1" cy="620.5" r="9.4"/>
<circle class="n" cx="446.1" cy="564.5" r="9.4"/>
<circle class="n" cx="355.0" cy="595.1" r="9.4"/>
<circle class="n" cx="268.5" cy="564.6" r="9.4"/>
<circle class="n" cx="400.9" cy="605.0" r="9.4"/>
<circle class="n" cx="291.2" cy="612.2" r="9.4"/>
<circle class="n" cx="214.6" cy="579.6" r="9.4"/>
<circle class="n" cx="303.3" cy="643.0" r="9.4"/>
<circle class="n" cx="353.3" cy="641.9" r="9.4"/>
<circle class="n" cx="306.6" cy="644.2" r="9.4"/>
<circle class="n" cx="279.3" cy="618.5" r="9.4"/>
<circle class="n" cx="345.0" cy="615.8" r="9.4"/>
<circle class="n" cx="322.3" cy="662.0" r="9.4"/>
<circle class="n" cx="401.4" cy="568.1" r="9.4"/>
<circle class="n" cx="437.0" cy="567.6" r="9.4"/>
<circle class="n" cx="358.8" cy="605.9" r="9.4"/>
<circle class="n" cx="322.8" cy="661.7" r="9.4"/>
<circle class="n" cx="341.8" cy="621.1" r="9.4"/>
<circle class="n" cx="295.7" cy="624.6" r="9.4"/>
<circle class="n" cx="419.6" cy="603.3" r="9.4"/>
<circle class="n" cx="242.2" cy="604.3" r="9.4"/>
<circle class="n" cx="287.3" cy="598.0" r="9.4"/>
<circle class="n" cx="335.9" cy="644.0" r="9.4"/>
<circle class="n" cx="379.9" cy="610.8" r="9.4"/>
<circle class="n" cx="437.1" cy="574.9" r="9.4"/>
<circle class="n" cx="239.3" cy="574.5" r="9.4"/>
<circle class="n" cx="279.0" cy="611.9" r="9.4"/>
<circle class="n" cx="273.7" cy="639.9" r="9.4"/>
<circle class="n" cx="357.0" cy="587.3" r="9.4"/>
<circle class="n" cx="271.1" cy="643.3" r="9.4"/>
<circle class="n" cx="380.0" cy="605.7" r="9.4"/>
<circle class="n" cx="318.0" cy="661.8" r="9.4"/>
<circle class="n" cx="319.9" cy="663.2" r="9.4"/>
<circle class="n" cx="381.4" cy="571.7" r="9.4"/>
<circle class="n" cx="294.0" cy="614.7" r="9.4"/>
<circle class="n" cx="335.4" cy="640.3" r="9.4"/>
<circle class="n" cx="278.8" cy="576.9" r="9.4"/>
<circle class="n" cx="247.5" cy="635.7" r="9.4"/>
<circle class="n" cx="261.4" cy="573.7" r="9.4"/>
<circle class="n" cx="183.4" cy="571.2" r="9.4"/>
<circle class="n" cx="341.1" cy="644.8" r="9.4"/>
<circle class="n" cx="279.0" cy="580.1" r="9.4"/>
<circle class="n" cx="446.9" cy="582.0" r="9.4"/>
<circle class="n" cx="418.6" cy="597.0" r="9.4"/>
<circle class="n" cx="280.2" cy="581.8" r="9.4"/>
<circle class="n" cx="299.6" cy="630.1" r="9.4"/>
<circle class="n" cx="199.5" cy="578.2" r="9.4"/>
<circle class="n" cx="392.1" cy="587.3" r="9.4"/>
<circle class="n" cx="369.2" cy="610.4" r="9.4"/>
<circle class="n" cx="367.2" cy="630.0" r="9.4"/>
<circle class="n" cx="378.1" cy="582.8" r="9.4"/>
<circle class="n" cx="372.5" cy="572.0" r="9.4"/>
<circle class="n" cx="353.2" cy="599.5" r="9.4"/>
<circle class="n" cx="354.5" cy="597.8" r="9.4"/>
<circle class="n" cx="447.7" cy="569.9" r="9.4"/>
<circle class="n" cx="330.6" cy="651.0" r="9.4"/>
<circle class="n" cx="245.2" cy="607.8" r="9.4"/>
<circle class="n" cx="198.7" cy="579.4" r="9.4"/>
<circle class="n" cx="288.1" cy="636.3" r="9.4"/>
<circle class="n" cx="372.1" cy="608.9" r="9.4"/>
<circle class="n" cx="273.7" cy="567.4" r="9.4"/>
<circle class="n" cx="243.8" cy="603.7" r="9.4"/>
<circle class="n" cx="279.5" cy="590.9" r="9.4"/>
<circle class="n" cx="274.6" cy="579.3" r="9.4"/>
<circle class="n" cx="345.8" cy="615.0" r="9.4"/>
<circle class="n" cx="266.3" cy="591.3" r="9.4"/>
<circle class="n" cx="328.9" cy="652.5" r="9.4"/>
<circle class="n" cx="363.4" cy="638.7" r="9.4"/>
<circle class="n" cx="262.7" cy="627.3" r="9.4"/>
<circle class="n" cx="378.8" cy="581.9" r="9.4"/>
<circle class="n" cx="344.7" cy="647.4" r="9.4"/>
<circle class="n" cx="429.0" cy="571.7" r="9.4"/>
<circle class="n" cx="243.6" cy="567.8" r="9.4"/>
<circle class="n" cx="232.7" cy="605.2" r="9.4"/>
<circle class="n" cx="302.9" cy="648.4" r="9.4"/>
<circle class="n" cx="415.0" cy="570.7" r="9.4"/>
<circle class="n" cx="224.9" cy="582.9" r="9.4"/>
<circle class="n" cx="314.2" cy="661.6" r="9.4"/>
<circle class="n" cx="375.1" cy="611.8" r="9.4"/>
<circle class="n" cx="268.4" cy="635.2" r="9.4"/>
<circle class="n" cx="248.9" cy="600.5" r="9.4"/>
<circle class="n" cx="288.0" cy="648.3" r="9.4"/>
<circle class="n" cx="411.7" cy="605.5" r="9.4"/>
<circle class="n" cx="341.9" cy="648.4" r="9.4"/>
<circle class="n" cx="359.6" cy="623.4" r="9.4"/>
<circle class="n" cx="401.0" cy="566.2" r="9.4"/>
<circle class="n" cx="324.8" cy="660.0" r="9.4"/>
<circle class="n" cx="332.1" cy="651.8" r="9.4"/>
<circle class="n" cx="307.5" cy="647.0" r="9.4"/>
<circle class="n" cx="284.1" cy="638.2" r="9.4"/>
<circle class="n" cx="257.6" cy="570.6" r="9.4"/>
<circle class="n" cx="401.1" cy="600.2" r="9.4"/>
<circle class="n" cx="283.4" cy="636.8" r="9.4"/>
<circle class="n" cx="415.5" cy="606.6" r="9.4"/>
<circle class="n" cx="303.4" cy="636.5" r="9.4"/>
<circle class="n" cx="277.4" cy="642.9" r="9.4"/>
<circle class="n" cx="289.5" cy="604.7" r="9.4"/>
<circle class="n" cx="324.7" cy="660.7" r="9.4"/>
<circle class="n" cx="282.2" cy="587.3" r="9.4"/>
<circle class="n" cx="370.5" cy="609.6" r="9.4"/>
<circle class="n" cx="201.2" cy="582.8" r="9.4"/>
<circle class="n" cx="226.7" cy="653.6" r="9.4"/>
<circle class="n" cx="263.2" cy="628.0" r="9.4"/>
<circle class="n" cx="200.0" cy="584.1" r="9.4"/>
<circle class="n" cx="446.7" cy="572.8" r="9.4"/>
<circle class="n" cx="212.5" cy="610.1" r="9.4"/>
<circle class="n" cx="299.3" cy="627.1" r="9.4"/>
<circle class="n" cx="372.6" cy="566.8" r="9.4"/>
<circle class="n" cx="198.9" cy="593.9" r="9.4"/>
<circle class="n" cx="284.2" cy="610.9" r="9.4"/>
<circle class="n" cx="241.0" cy="651.0" r="9.4"/>
<circle class="n" cx="304.5" cy="642.1" r="9.4"/>
<circle class="n" cx="302.5" cy="635.5" r="9.4"/>
<circle class="n" cx="260.4" cy="576.5" r="9.4"/>
<circle class="n" cx="340.6" cy="633.9" r="9.4"/>
<circle class="n" cx="227.3" cy="607.2" r="9.4"/>
<circle class="n" cx="384.7" cy="603.9" r="9.4"/>
<circle class="n" cx="443.1" cy="565.2" r="9.4"/>
<circle class="n" cx="272.9" cy="625.1" r="9.4"/>
<circle class="n" cx="293.9" cy="621.2" r="9.4"/>
<circle class="n" cx="282.4" cy="586.1" r="9.4"/>
<circle class="n" cx="189.4" cy="584.4" r="9.4"/>
<circle class="n" cx="338.4" cy="634.9" r="9.4"/>
<circle class="n" cx="350.3" cy="601.4" r="9.4"/>
<circle class="n" cx="399.8" cy="613.6" r="9.4"/>
<circle class="n" cx="389.1" cy="625.2" r="9.4"/>
<circle class="n" cx="362.6" cy="573.4" r="9.4"/>
<circle class="n" cx="392.7" cy="586.6" r="9.4"/>
<circle class="n" cx="444.6" cy="583.8" r="9.4"/>
<circle class="n" cx="264.8" cy="569.9" r="9.4"/>
<circle class="n" cx="304.4" cy="656.0" r="9.4"/>
<circle class="n" cx="301.2" cy="654.6" r="9.4"/>
<circle class="n" cx="241.9" cy="593.8" r="9.4"/>
<circle class="n" cx="322.5" cy="661.9" r="9.4"/>
<circle class="n" cx="265.7" cy="617.9" r="9.4"/>
<circle class="n" cx="342.1" cy="648.6" r="9.4"/>
<circle class="n" cx="267.2" cy="568.2" r="9.4"/>
<circle class="n" cx="386.7" cy="580.1" r="9.4"/>
<circle class="n" cx="419.4" cy="571.4" r="9.4"/>
<circle class="n" cx="360.2" cy="579.1" r="9.4"/>
<circle class="n" cx="334.3" cy="640.7" r="9.4"/>
<circle class="n" cx="342.4" cy="621.6" r="9.4"/>
<circle class="n" cx="359.5" cy="582.1" r="9.4"/>
<circle class="n" cx="434.9" cy="590.1" r="9.4"/>
<circle class="n" cx="289.7" cy="652.6" r="9.4"/>
<circle class="n" cx="289.3" cy="610.6" r="9.4"/>
<circle class="n" cx="304.5" cy="641.5" r="9.4"/>
<circle class="n" cx="300.3" cy="649.7" r="9.4"/>
<circle class="n" cx="388.1" cy="601.3" r="9.4"/>
<circle class="n" cx="365.6" cy="626.6" r="9.4"/>
<circle class="n" cx="297.5" cy="623.5" r="9.4"/>
<circle class="n" cx="191.2" cy="571.3" r="9.4"/>
<circle class="n" cx="320.5" cy="662.9" r="9.4"/>
<circle class="n" cx="284.0" cy="592.9" r="9.4"/>
<circle class="n" cx="238.8" cy="624.0" r="9.4"/>
<circle class="n" cx="258.6" cy="626.2" r="9.4"/>
<circle class="n" cx="263.9" cy="600.0" r="9.4"/>
<circle class="n" cx="214.6" cy="573.6" r="9.4"/>
<circle class="n" cx="342.9" cy="625.7" r="9.4"/>
<circle class="n" cx="357.3" cy="642.4" r="9.4"/>
<circle class="n" cx="339.2" cy="634.7" r="9.4"/>
<circle class="n" cx="283.3" cy="627.6" r="9.4"/>
<circle class="n" cx="256.5" cy="577.1" r="9.4"/>
<circle class="n" cx="204.1" cy="593.9" r="9.4"/>
<circle class="n" cx="210.5" cy="590.8" r="9.4"/>
<circle class="n" cx="255.6" cy="568.8" r="9.4"/>
<circle class="n" cx="280.9" cy="625.6" r="9.4"/>
<circle class="n" cx="360.1" cy="580.0" r="9.4"/>
<circle class="n" cx="359.5" cy="620.6" r="9.4"/>
<circle class="n" cx="350.2" cy="601.3" r="9.4"/>
<circle class="n" cx="441.8" cy="595.4" r="9.4"/>
<circle class="n" cx="223.6" cy="591.6" r="9.4"/>
<circle class="n" cx="317.3" cy="662.7" r="9.4"/>
<circle class="n" cx="332.0" cy="645.8" r="9.4"/>
<circle class="n" cx="263.6" cy="596.6" r="9.4"/>
<circle class="n" cx="299.6" cy="640.5" r="9.4"/>
<circle class="n" cx="413.3" cy="573.7" r="9.4"/>
<circle class="n" cx="311.1" cy="660.6" r="9.4"/>
<circle class="n" cx="294.1" cy="653.7" r="9.4"/>
<circle class="n" cx="420.6" cy="596.2" r="9.4"/>
<circle class="n" cx="384.6" cy="572.9" r="9.4"/>
<circle class="n" cx="247.6" cy="633.5" r="9.4"/>
<circle class="n" cx="292.5" cy="613.4" r="9.4"/>
<circle class="n" cx="314.7" cy="661.8" r="9.4"/>
<circle class="n" cx="409.7" cy="581.5" r="9.4"/>
<circle class="n" cx="239.6" cy="579.0" r="9.4"/>
<circle class="n" cx="386.3" cy="591.2" r="9.4"/>
<circle class="n" cx="298.1" cy="643.3" r="9.4"/>
<circle class="n" cx="422.9" cy="602.5" r="9.4"/>
<circle class="n" cx="430.2" cy="595.4" r="9.4"/>
<circle class="n" cx="206.2" cy="590.4" r="9.4"/>
<circle class="n" cx="288.9" cy="609.8" r="9.4"/>
<circle class="n" cx="313.7" cy="661.5" r="9.4"/>
<circle class="n" cx="271.1" cy="582.6" r="9.4"/>
<circle class="n" cx="360.6" cy="583.7" r="9.4"/>
<circle class="n" cx="346.6" cy="610.7" r="9.4"/>
<circle class="n" cx="229.5" cy="620.2" r="9.4"/>
<circle class="n" cx="214.9" cy="596.6" r="9.4"/>
<circle class="n" cx="256.2" cy="584.2" r="9.4"/>
<circle class="n" cx="224.7" cy="617.7" r="9.4"/>
<circle class="n" cx="350.0" cy="612.5" r="9.4"/>
<circle class="n" cx="387.7" cy="600.3" r="9.4"/>
<circle class="n" cx="346.7" cy="636.1" r="9.4"/>
<circle class="n" cx="340.9" cy="635.3" r="9.4"/>
<circle class="n" cx="225.2" cy="586.3" r="9.4"/>
<circle class="n" cx="197.9" cy="590.6" r="9.4"/>
<circle class="n" cx="325.7" cy="660.2" r="9.4"/>
<circle class="n" cx="355.1" cy="616.2" r="9.4"/>
<circle class="n" cx="297.0" cy="621.7" r="9.4"/>
<circle class="n" cx="226.7" cy="592.7" r="9.4"/>
<circle class="n" cx="226.0" cy="618.8" r="9.4"/>
<circle class="n" cx="365.6" cy="583.1" r="9.4"/>
<circle class="n" cx="304.2" cy="639.1" r="9.4"/>
<circle class="n" cx="204.6" cy="574.4" r="9.4"/>
<circle class="n" cx="348.3" cy="617.7" r="9.4"/>
<circle class="n" cx="196.6" cy="564.2" r="9.4"/>
<circle class="n" cx="329.6" cy="649.4" r="9.4"/>
<circle class="n" cx="269.8" cy="641.0" r="9.4"/>
<circle class="n" cx="421.6" cy="579.8" r="9.4"/>
<circle class="n" cx="278.7" cy="645.8" r="9.4"/>
<circle class="n" cx="317.1" cy="662.6" r="9.4"/>
<circle class="n" cx="293.0" cy="651.7" r="9.4"/>
<circle class="n" cx="338.4" cy="630.7" r="9.4"/>
<circle class="n" cx="233.6" cy="583.9" r="9.4"/>
<circle class="n" cx="251.8" cy="635.6" r="9.4"/>
<circle class="n" cx="337.0" cy="650.5" r="9.4"/>
<circle class="n" cx="378.5" cy="589.7" r="9.4"/>
<circle class="n" cx="394.8" cy="597.9" r="9.4"/>
<circle class="n" cx="323.2" cy="659.8" r="9.4"/>
<circle class="n" cx="333.4" cy="651.8" r="9.4"/>
<circle class="n" cx="405.1" cy="606.6" r="9.4"/>
<circle class="n" cx="192.8" cy="635.4" r="9.4"/>
<circle class="n" cx="360.3" cy="579.0" r="9.4"/>
<circle class="n" cx="197.9" cy="589.6" r="9.4"/>
<circle class="n" cx="323.1" cy="661.5" r="9.4"/>
<circle class="n" cx="212.1" cy="565.4" r="9.4"/>
<circle class="n" cx="300.6" cy="634.0" r="9.4"/>
<circle class="n" cx="261.1" cy="641.0" r="9.4"/>
<circle class="n" cx="292.3" cy="609.8" r="9.4"/>
<circle class="n" cx="224.0" cy="573.9" r="9.4"/>
<circle class="n" cx="408.8" cy="605.6" r="9.4"/>
<circle class="n" cx="248.8" cy="567.3" r="9.4"/>
<circle class="n" cx="346.9" cy="611.0" r="9.4"/>
<circle class="n" cx="278.2" cy="643.1" r="9.4"/>
<circle class="n" cx="277.3" cy="625.7" r="9.4"/>
<circle class="n" cx="210.5" cy="607.9" r="9.4"/>
<circle class="n" cx="297.3" cy="654.5" r="9.4"/>
<circle class="n" cx="233.9" cy="628.0" r="9.4"/>
<circle class="n" cx="220.5" cy="573.3" r="9.4"/>
<circle class="n" cx="371.4" cy="629.1" r="9.4"/>
<circle class="n" cx="313.6" cy="661.4" r="9.4"/>
<circle class="n" cx="308.7" cy="657.4" r="9.4"/>
<circle class="n" cx="341.7" cy="647.5" r="9.4"/>
<circle class="n" cx="274.0" cy="610.4" r="9.4"/>
<circle class="n" cx="255.3" cy="639.1" r="9.4"/>
<circle class="n" cx="366.7" cy="634.8" r="9.4"/>
<circle class="n" cx="274.2" cy="565.5" r="9.4"/>
<circle class="n" cx="212.0" cy="608.7" r="9.4"/>
<circle class="n" cx="383.8" cy="610.4" r="9.4"/>
<circle class="n" cx="359.9" cy="630.3" r="9.4"/>
<circle class="n" cx="384.4" cy="627.2" r="9.4"/>
<circle class="n" cx="344.6" cy="614.7" r="9.4"/>
<circle class="n" cx="259.5" cy="609.4" r="9.4"/>
<circle class="n" cx="196.7" cy="592.5" r="9.4"/>
<circle class="n" cx="368.5" cy="600.7" r="9.4"/>
<circle class="n" cx="296.0" cy="635.3" r="9.4"/>
<circle class="n" cx="286.6" cy="619.9" r="9.4"/>
<circle class="n" cx="259.0" cy="636.1" r="9.4"/>
<circle class="n" cx="379.1" cy="609.9" r="9.4"/>
<circle class="n" cx="355.9" cy="608.8" r="9.4"/>
<circle class="n" cx="310.3" cy="654.8" r="9.4"/>
<circle class="n" cx="188.7" cy="581.9" r="9.4"/>
<circle class="n" cx="402.4" cy="585.2" r="9.4"/>
<circle class="n" cx="251.4" cy="627.1" r="9.4"/>
<circle class="n" cx="265.2" cy="616.5" r="9.4"/>
<circle class="n" cx="303.3" cy="636.0" r="9.4"/>
<circle class="n" cx="405.9" cy="572.6" r="9.4"/>
<circle class="n" cx="282.2" cy="638.4" r="9.4"/>
<circle class="n" cx="420.8" cy="595.8" r="9.4"/>
<circle class="n" cx="251.6" cy="631.6" r="9.4"/>
<circle class="n" cx="392.5" cy="573.7" r="9.4"/>
<circle class="n" cx="290.0" cy="607.2" r="9.4"/>
<circle class="n" cx="271.8" cy="634.8" r="9.4"/>
<circle class="n" cx="286.7" cy="623.6" r="9.4"/>
<circle class="n" cx="327.2" cy="656.5" r="9.4"/>
<circle class="n" cx="390.5" cy="580.2" r="9.4"/>
<circle class="n" cx="443.1" cy="573.7" r="9.4"/>
<circle class="n" cx="273.0" cy="570.1" r="9.4"/>
<circle class="n" cx="281.7" cy="584.5" r="9.4"/>
<circle class="n" cx="320.1" cy="663.1" r="9.4"/>
<circle class="n" cx="350.6" cy="599.8" r="9.4"/>
<circle class="n" cx="339.0" cy="639.0" r="9.4"/>
<circle class="n" cx="393.7" cy="623.9" r="9.4"/>
<circle class="n" cx="300.2" cy="637.6" r="9.4"/>
<circle class="n" cx="183.5" cy="573.0" r="9.4"/>
<circle class="n" cx="421.4" cy="592.1" r="9.4"/>
<circle class="n" cx="275.6" cy="571.9" r="9.4"/>
<circle class="n" cx="341.2" cy="627.2" r="9.4"/>
<circle class="n" cx="353.6" cy="629.7" r="9.4"/>
<circle class="n" cx="313.8" cy="661.5" r="9.4"/>
<circle class="n" cx="272.5" cy="643.4" r="9.4"/>
<circle class="n" cx="267.0" cy="628.7" r="9.4"/>
<circle class="n" cx="270.1" cy="645.1" r="9.4"/>
<circle class="n" cx="232.0" cy="640.0" r="9.4"/>
<circle class="n" cx="404.6" cy="564.6" r="9.4"/>
<circle class="n" cx="361.7" cy="629.0" r="9.4"/>
<circle class="n" cx="339.8" cy="626.5" r="9.4"/>
<circle class="n" cx="346.4" cy="610.1" r="9.4"/>
<circle class="n" cx="275.4" cy="574.3" r="9.4"/>
<circle class="n" cx="397.2" cy="617.0" r="9.4"/>
<circle class="n" cx="377.9" cy="604.8" r="9.4"/>
<circle class="n" cx="196.4" cy="579.2" r="9.4"/>
<circle class="n" cx="241.2" cy="615.8" r="9.4"/>
<circle class="n" cx="266.7" cy="602.1" r="9.4"/>
<circle class="n" cx="362.7" cy="576.5" r="9.4"/>
<circle class="n" cx="410.0" cy="598.7" r="9.4"/>
<circle class="n" cx="346.2" cy="640.1" r="9.4"/>
<circle class="n" cx="376.1" cy="601.4" r="9.4"/>
<circle class="n" cx="219.4" cy="567.2" r="9.4"/>
<circle class="n" cx="374.0" cy="616.9" r="9.4"/>
<circle class="n" cx="241.7" cy="612.1" r="9.4"/>
<circle class="n" cx="382.5" cy="600.1" r="9.4"/>
<circle class="n" cx="432.5" cy="586.5" r="9.4"/>
<circle class="n" cx="352.1" cy="633.4" r="9.4"/>
<circle class="n" cx="376.0" cy="605.4" r="9.4"/>
<circle class="n" cx="336.9" cy="635.3" r="9.4"/>
<circle class="n" cx="285.5" cy="594.3" r="9.4"/>
<circle class="n" cx="457.1" cy="566.6" r="9.4"/>
<circle class="n" cx="274.0" cy="617.3" r="9.4"/>
<circle class="n" cx="433.6" cy="565.2" r="9.4"/>
<circle class="n" cx="289.6" cy="604.9" r="9.4"/>
<circle class="n" cx="186.5" cy="570.6" r="9.4"/>
<circle class="n" cx="304.4" cy="657.5" r="9.4"/>
<circle class="n" cx="297.5" cy="633.8" r="9.4"/>
<circle class="n" cx="379.9" cy="571.3" r="9.4"/>
<circle class="n" cx="352.2" cy="598.1" r="9.4"/>
<circle class="n" cx="378.6" cy="570.6" r="9.4"/>
<circle class="n" cx="288.0" cy="648.4" r="9.4"/>
<circle class="n" cx="442.5" cy="576.9" r="9.4"/>
<circle class="n" cx="290.6" cy="660.1" r="9.4"/>
<circle class="n" cx="313.7" cy="660.7" r="9.4"/>
<circle class="n" cx="231.5" cy="622.3" r="9.4"/>
<circle class="n" cx="329.9" cy="654.4" r="9.4"/>
<circle class="n" cx="291.0" cy="644.7" r="9.4"/>
<circle class="n" cx="298.8" cy="628.6" r="9.4"/>
<circle class="n" cx="235.4" cy="592.6" r="9.4"/>
<circle class="n" cx="292.6" cy="614.7" r="9.4"/>
<circle class="n" cx="289.2" cy="646.1" r="9.4"/>
<circle class="n" cx="341.8" cy="627.7" r="9.4"/>
<circle class="n" cx="390.3" cy="591.3" r="9.4"/>
<circle class="n" cx="331.8" cy="645.9" r="9.4"/>
<circle class="n" cx="254.8" cy="608.7" r="9.4"/>
<circle class="n" cx="300.9" cy="630.6" r="9.4"/>
<circle class="n" cx="337.0" cy="633.1" r="9.4"/>
<circle class="n" cx="258.6" cy="579.1" r="9.4"/>
<circle class="n" cx="362.3" cy="623.4" r="9.4"/>
<circle class="n" cx="373.4" cy="601.8" r="9.4"/>
<circle class="n" cx="270.4" cy="605.7" r="9.4"/>
<circle class="n" cx="419.6" cy="584.9" r="9.4"/>
<circle class="n" cx="378.2" cy="629.6" r="9.4"/>
<circle class="n" cx="295.2" cy="622.5" r="9.4"/>
<circle class="n" cx="336.8" cy="633.6" r="9.4"/>
<circle class="n" cx="357.5" cy="582.9" r="9.4"/>
<circle class="n" cx="206.6" cy="589.1" r="9.4"/>
<circle class="n" cx="274.4" cy="597.6" r="9.4"/>
<circle class="n" cx="272.8" cy="563.9" r="9.4"/>
<circle class="n" cx="296.3" cy="623.0" r="9.4"/>
<circle class="n" cx="476.2" cy="575.6" r="9.4"/>
<circle class="n" cx="387.6" cy="588.6" r="9.4"/>
<circle class="n" cx="299.2" cy="629.7" r="9.4"/>
<circle class="n" cx="319.6" cy="663.3" r="9.4"/>
<circle class="n" cx="355.3" cy="598.1" r="9.4"/>
<circle class="n" cx="200.9" cy="567.4" r="9.4"/>
<circle class="n" cx="373.7" cy="621.6" r="9.4"/>
<circle class="n" cx="350.2" cy="613.1" r="9.4"/>
<circle class="n" cx="291.9" cy="610.8" r="9.4"/>
<circle class="n" cx="227.9" cy="608.5" r="9.4"/>
<circle class="n" cx="406.5" cy="611.4" r="9.4"/>
<circle class="n" cx="446.8" cy="581.1" r="9.4"/>
<circle class="n" cx="340.5" cy="626.7" r="9.4"/>
<circle class="n" cx="192.8" cy="564.3" r="9.4"/>
<circle class="n" cx="341.0" cy="644.0" r="9.4"/>
<circle class="n" cx="300.8" cy="652.0" r="9.4"/>
<circle class="n" cx="196.2" cy="564.4" r="9.4"/>
<circle class="n" cx="281.9" cy="617.2" r="9.4"/>
<circle class="n" cx="250.6" cy="601.8" r="9.4"/>
<circle class="n" cx="297.2" cy="637.4" r="9.4"/>
<circle class="n" cx="245.5" cy="572.4" r="9.4"/>
<circle class="n" cx="269.5" cy="595.3" r="9.4"/>
<circle class="n" cx="274.2" cy="574.0" r="9.4"/>
<circle class="n" cx="196.8" cy="590.5" r="9.4"/>
<circle class="n" cx="352.4" cy="605.1" r="9.4"/>
<circle class="n" cx="355.9" cy="590.8" r="9.4"/>
<circle class="n" cx="431.8" cy="578.0" r="9.4"/>
<circle class="n" cx="364.3" cy="602.6" r="9.4"/>
<circle class="n" cx="390.7" cy="567.3" r="9.4"/>
<circle class="n" cx="358.2" cy="636.3" r="9.4"/>
<circle class="n" cx="395.2" cy="606.5" r="9.4"/>
<circle class="n" cx="261.4" cy="587.7" r="9.4"/>
<circle class="n" cx="316.9" cy="662.6" r="9.4"/>
<circle class="n" cx="330.5" cy="649.1" r="9.4"/>
<circle class="n" cx="310.0" cy="656.7" r="9.4"/>
<circle class="n" cx="434.3" cy="571.8" r="9.4"/>
<circle class="n" cx="338.3" cy="640.1" r="9.4"/>
<circle class="n" cx="240.9" cy="626.5" r="9.4"/>
<circle class="n" cx="317.1" cy="662.6" r="9.4"/>
<circle class="n" cx="420.5" cy="575.1" r="9.4"/>
<circle class="n" cx="353.9" cy="644.5" r="9.4"/>
<circle class="n" cx="358.2" cy="609.2" r="9.4"/>
<circle class="n" cx="428.2" cy="596.1" r="9.4"/>
<circle class="n" cx="247.7" cy="597.2" r="9.4"/>
<circle class="n" cx="240.6" cy="598.0" r="9.4"/>
<circle class="n" cx="409.9" cy="588.6" r="9.4"/>
<circle class="n" cx="365.6" cy="598.2" r="9.4"/>
<circle class="n" cx="367.1" cy="575.3" r="9.4"/>
<circle class="n" cx="284.3" cy="612.6" r="9.4"/>
<circle class="n" cx="214.5" cy="565.1" r="9.4"/>
<circle class="n" cx="454.0" cy="572.0" r="9.4"/>
<circle class="n" cx="361.9" cy="628.0" r="9.4"/>
<circle class="n" cx="255.7" cy="613.3" r="9.4"/>
<circle class="n" cx="189.6" cy="584.4" r="9.4"/>
<circle class="n" cx="328.2" cy="657.4" r="9.4"/>
<circle class="n" cx="372.1" cy="633.6" r="9.4"/>
<circle class="n" cx="268.6" cy="617.4" r="9.4"/>
<circle class="n" cx="203.3" cy="647.1" r="9.4"/>
<circle class="n" cx="418.2" cy="568.7" r="9.4"/>
<circle class="n" cx="375.9" cy="605.2" r="9.4"/>
<circle class="n" cx="401.6" cy="565.5" r="9.4"/>
<circle class="n" cx="272.5" cy="631.2" r="9.4"/>
<circle class="n" cx="344.7" cy="616.2" r="9.4"/>
<circle class="n" cx="281.5" cy="586.8" r="9.4"/>
<circle class="n" cx="263.0" cy="617.6" r="9.4"/>
<circle class="n" cx="304.1" cy="650.7" r="9.4"/>
<circle class="n" cx="364.7" cy="566.4" r="9.4"/>
<circle class="n" cx="363.8" cy="575.9" r="9.4"/>
<circle class="n" cx="329.0" cy="652.5" r="9.4"/>
<circle class="n" cx="252.4" cy="606.0" r="9.4"/>
<circle class="n" cx="269.7" cy="629.8" r="9.4"/>
<circle class="n" cx="269.0" cy="578.0" r="9.4"/>
<circle class="n" cx="396.2" cy="587.1" r="9.4"/>
<circle class="n" cx="272.5" cy="563.7" r="9.4"/>
<circle class="n" cx="346.4" cy="614.9" r="9.4"/>
<circle class="n" cx="292.3" cy="651.0" r="9.4"/>
<circle class="n" cx="354.0" cy="592.4" r="9.4"/>
<circle class="n" cx="296.3" cy="629.6" r="9.4"/>
<circle class="n" cx="285.8" cy="617.8" r="9.4"/>
<circle class="n" cx="356.8" cy="585.9" r="9.4"/>
<circle class="n" cx="313.6" cy="659.6" r="9.4"/>
<circle class="n" cx="286.0" cy="598.8" r="9.4"/>
<circle class="n" cx="219.9" cy="579.0" r="9.4"/>
<circle class="n" cx="293.3" cy="617.6" r="9.4"/>
<circle class="n" cx="267.9" cy="568.2" r="9.4"/>
<circle class="n" cx="327.5" cy="655.1" r="9.4"/>
<circle class="n" cx="446.5" cy="580.9" r="9.4"/>
<circle class="n" cx="387.5" cy="580.8" r="9.4"/>
<circle class="n" cx="213.7" cy="566.8" r="9.4"/>
<circle class="n" cx="405.9" cy="571.9" r="9.4"/>
<circle class="n" cx="346.4" cy="625.2" r="9.4"/>
<circle class="n" cx="377.2" cy="588.4" r="9.4"/>
<circle class="n" cx="283.1" cy="592.0" r="9.4"/>
<circle class="n" cx="372.1" cy="570.8" r="9.4"/>
<circle class="n" cx="337.0" cy="633.0" r="9.4"/>
<circle class="n" cx="195.7" cy="575.3" r="9.4"/>
<circle class="n" cx="336.4" cy="640.6" r="9.4"/>
<circle class="n" cx="365.6" cy="564.1" r="9.4"/>
<circle class="n" cx="280.4" cy="584.9" r="9.4"/>
<circle class="n" cx="334.7" cy="637.9" r="9.4"/>
<circle class="n" cx="459.5" cy="564.2" r="9.4"/>
<circle class="n" cx="276.7" cy="642.0" r="9.4"/>
<circle class="n" cx="245.5" cy="608.1" r="9.4"/>
<circle class="n" cx="301.0" cy="636.6" r="9.4"/>
<circle class="n" cx="424.7" cy="583.0" r="9.4"/>
<circle class="n" cx="255.9" cy="601.4" r="9.4"/>
<circle class="n" cx="271.8" cy="646.1" r="9.4"/>
<circle class="n" cx="280.6" cy="643.5" r="9.4"/>
<circle class="n" cx="369.4" cy="567.1" r="9.4"/>
<circle class="n" cx="360.7" cy="583.5" r="9.4"/>
<circle class="n" cx="235.6" cy="620.6" r="9.4"/>
<circle class="n" cx="318.3" cy="659.0" r="9.4"/>
<circle class="n" cx="209.3" cy="570.2" r="9.4"/>
<circle class="n" cx="283.8" cy="590.0" r="9.4"/>
<circle class="n" cx="320.2" cy="663.0" r="9.4"/>
<circle class="n" cx="354.9" cy="636.0" r="9.4"/>
<circle class="n" cx="271.5" cy="616.2" r="9.4"/>
<circle class="n" cx="383.4" cy="611.1" r="9.4"/>
<circle class="n" cx="288.9" cy="604.2" r="9.4"/>
<circle class="n" cx="231.4" cy="604.4" r="9.4"/>
<circle class="n" cx="289.2" cy="607.3" r="9.4"/>
<circle class="n" cx="398.1" cy="596.9" r="9.4"/>
<circle class="n" cx="272.9" cy="631.8" r="9.4"/>
<circle class="n" cx="375.7" cy="591.0" r="9.4"/>
<circle class="n" cx="338.5" cy="634.5" r="9.4"/>
<circle class="n" cx="236.1" cy="615.0" r="9.4"/>
<circle class="n" cx="391.7" cy="581.7" r="9.4"/>
<circle class="n" cx="262.8" cy="585.8" r="9.4"/>
<circle class="n" cx="417.3" cy="583.4" r="9.4"/>
<circle class="n" cx="363.9" cy="612.1" r="9.4"/>
<circle class="n" cx="330.3" cy="648.1" r="9.4"/>
<circle class="n" cx="344.8" cy="632.4" r="9.4"/>
<circle class="n" cx="301.4" cy="641.6" r="9.4"/>
<circle class="n" cx="346.9" cy="647.1" r="9.4"/>
<circle class="n" cx="264.1" cy="629.3" r="9.4"/>
<circle class="n" cx="280.7" cy="584.2" r="9.4"/>
<circle class="n" cx="191.4" cy="571.2" r="9.4"/>
<circle class="n" cx="306.3" cy="646.9" r="9.4"/>
<circle class="n" cx="338.4" cy="649.3" r="9.4"/>
<circle class="n" cx="223.7" cy="584.2" r="9.4"/>
<circle class="n" cx="402.0" cy="607.1" r="9.4"/>
<circle class="n" cx="277.0" cy="638.8" r="9.4"/>
<circle class="n" cx="404.0" cy="577.6" r="9.4"/>
<circle class="n" cx="364.9" cy="618.9" r="9.4"/>
<circle class="n" cx="449.7" cy="573.4" r="9.4"/>
<circle class="n" cx="361.4" cy="576.0" r="9.4"/>
<circle class="n" cx="272.4" cy="600.0" r="9.4"/>
<circle class="n" cx="232.6" cy="620.3" r="9.4"/>
<circle class="n" cx="396.1" cy="574.5" r="9.4"/>
<circle class="n" cx="364.2" cy="591.2" r="9.4"/>
<circle class="n" cx="357.6" cy="637.2" r="9.4"/>
<circle class="n" cx="216.3" cy="627.6" r="9.4"/>
<circle class="n" cx="327.2" cy="658.1" r="9.4"/>
<circle class="n" cx="275.3" cy="612.8" r="9.4"/>
<circle class="n" cx="378.8" cy="618.7" r="9.4"/>
<circle class="n" cx="190.9" cy="585.1" r="9.4"/>
<circle class="n" cx="288.7" cy="601.2" r="9.4"/>
<circle class="n" cx="356.0" cy="591.3" r="9.4"/>
<circle class="n" cx="457.3" cy="563.9" r="9.4"/>
<circle class="n" cx="322.2" cy="662.0" r="9.4"/>
<circle class="n" cx="219.1" cy="613.0" r="9.4"/>
<circle class="n" cx="354.5" cy="598.1" r="9.4"/>
<circle class="n" cx="369.4" cy="590.4" r="9.4"/>
<circle class="n" cx="381.3" cy="616.0" r="9.4"/>
<circle class="n" cx="392.9" cy="582.5" r="9.4"/>
<circle class="n" cx="364.8" cy="574.4" r="9.4"/>
<circle class="n" cx="399.6" cy="612.4" r="9.4"/>
<circle class="n" cx="369.8" cy="566.2" r="9.4"/>
<circle class="n" cx="345.8" cy="617.0" r="9.4"/>
<circle class="n" cx="384.0" cy="595.4" r="9.4"/>
<circle class="n" cx="291.5" cy="615.7" r="9.4"/>
<circle class="n" cx="225.4" cy="620.7" r="9.4"/>
<circle class="n" cx="234.2" cy="623.1" r="9.4"/>
<circle class="n" cx="434.9" cy="582.5" r="9.4"/>
<circle class="n" cx="389.7" cy="619.0" r="9.4"/>
<circle class="n" cx="365.4" cy="601.4" r="9.4"/>
<circle class="n" cx="271.4" cy="617.0" r="9.4"/>
<circle class="n" cx="428.0" cy="583.5" r="9.4"/>
<circle class="n" cx="325.8" cy="658.4" r="9.4"/>
<circle class="n" cx="196.3" cy="570.1" r="9.4"/>
<circle class="n" cx="278.7" cy="638.0" r="9.4"/>
<circle class="n" cx="388.1" cy="599.7" r="9.4"/>
<circle class="n" cx="258.4" cy="639.3" r="9.4"/>
<circle class="n" cx="381.9" cy="586.5" r="9.4"/>
<circle class="n" cx="412.1" cy="566.1" r="9.4"/>
<circle class="n" cx="244.5" cy="587.0" r="9.4"/>
<circle class="n" cx="329.3" cy="655.4" r="9.4"/>
<circle class="n" cx="342.6" cy="645.0" r="9.4"/>
<circle class="n" cx="359.9" cy="641.5" r="9.4"/>
<circle class="n" cx="366.1" cy="576.5" r="9.4"/>
<circle class="n" cx="307.0" cy="650.5" r="9.4"/>
<circle class="n" cx="341.2" cy="626.0" r="9.4"/>
<circle class="n" cx="338.7" cy="632.9" r="9.4"/>
<circle class="n" cx="224.1" cy="569.0" r="9.4"/>
<circle class="n" cx="197.7" cy="591.8" r="9.4"/>
<circle class="n" cx="352.3" cy="641.0" r="9.4"/>
<circle class="n" cx="197.4" cy="564.0" r="9.4"/>
<circle class="n" cx="407.1" cy="604.5" r="9.4"/>
<circle class="n" cx="350.2" cy="603.3" r="9.4"/>
<circle class="n" cx="414.8" cy="609.3" r="9.4"/>
<circle class="n" cx="224.0" cy="571.8" r="9.4"/>
<circle class="n" cx="395.6" cy="581.4" r="9.4"/>
<circle class="n" cx="303.0" cy="649.3" r="9.4"/>
<circle class="n" cx="358.3" cy="581.8" r="9.4"/>
<circle class="n" cx="255.4" cy="588.9" r="9.4"/>
<circle class="n" cx="394.0" cy="617.9" r="9.4"/>
<circle class="n" cx="344.2" cy="623.5" r="9.4"/>
<circle class="n" cx="259.3" cy="614.4" r="9.4"/>
<circle class="n" cx="388.7" cy="610.5" r="9.4"/>
<circle class="n" cx="277.5" cy="618.0" r="9.4"/>
<circle class="n" cx="397.8" cy="618.9" r="9.4"/>
<circle class="n" cx="272.3" cy="592.6" r="9.4"/>
<circle class="n" cx="344.9" cy="616.0" r="9.4"/>
<circle class="n" cx="293.9" cy="615.2" r="9.4"/>
<circle class="n" cx="209.1" cy="574.7" r="9.4"/>
<circle class="n" cx="426.1" cy="570.3" r="9.4"/>
<circle class="n" cx="339.3" cy="631.1" r="9.4"/>
<circle class="n" cx="281.5" cy="632.7" r="9.4"/>
<circle class="n" cx="230.4" cy="564.7" r="9.4"/>
<circle class="n" cx="225.6" cy="606.4" r="9.4"/>
<circle class="n" cx="382.6" cy="593.8" r="9.4"/>
<circle class="n" cx="284.7" cy="594.2" r="9.4"/>
<circle class="n" cx="438.2" cy="575.0" r="9.4"/>
<circle class="n" cx="284.6" cy="593.6" r="9.4"/>
<circle class="n" cx="248.0" cy="607.6" r="9.4"/>
<circle class="n" cx="374.9" cy="588.4" r="9.4"/>
<circle class="n" cx="345.8" cy="614.0" r="9.4"/>
<circle class="n" cx="336.6" cy="638.0" r="9.4"/>
<circle class="n" cx="424.4" cy="582.7" r="9.4"/>
<circle class="r" cx="449.7" cy="477.0" r="9.4"/>
<circle class="R" cx="481.4" cy="475.5" r="9.4"/>
<circle class="g" cx="223.0" cy="380.7" r="9.4"/>
<circle class="g" cx="219.8" cy="365.7" r="9.4"/>
<circle class="g" cx="225.1" cy="486.7" r="9.4"/>
<circle class="r" cx="452.8" cy="421.2" r="9.4"/>
<circle class="R" cx="491.8" cy="525.5" r="9.4"/>
<circle class="g" cx="225.5" cy="526.0" r="9.4"/>
<circle class="r" cx="394.4" cy="459.6" r="9.4"/>
<circle class="r" cx="469.9" cy="93.2" r="9.4"/>
<circle class="r" cx="449.2" cy="324.6" r="9.4"/>
<circle class="R" cx="558.1" cy="219.7" r="9.4"/>
<circle class="g" cx="212.0" cy="325.7" r="9.4"/>
<circle class="g" cx="234.4" cy="413.2" r="9.4"/>
<circle class="R" cx="473.0" cy="264.1" r="9.4"/>
<circle class="r" cx="435.3" cy="313.1" r="9.4"/>
<circle class="g" cx="201.1" cy="358.1" r="9.4"/>
<circle class="r" cx="454.8" cy="491.3" r="9.4"/>
<circle class="g" cx="231.4" cy="444.1" r="9.4"/>
<circle class="r" cx="396.9" cy="510.2" r="9.4"/>
<circle class="g" cx="221.6" cy="382.6" r="9.4"/>
<circle class="g" cx="206.2" cy="375.7" r="9.4"/>
<circle class="g" cx="170.2" cy="223.3" r="9.4"/>
<circle class="r" cx="444.7" cy="374.5" r="9.4"/>
<circle class="g" cx="200.4" cy="303.3" r="9.4"/>
<circle class="r" cx="443.8" cy="398.4" r="9.4"/>
<circle class="g" cx="199.3" cy="492.1" r="9.4"/>
<circle class="r" cx="440.8" cy="305.3" r="9.4"/>
<circle class="g" cx="214.5" cy="446.4" r="9.4"/>
<circle class="g" cx="198.4" cy="516.1" r="9.4"/>
<circle class="r" cx="468.3" cy="336.9" r="9.4"/>
<circle class="g" cx="174.3" cy="523.7" r="9.4"/>
<circle class="r" cx="444.0" cy="385.6" r="9.4"/>
<circle class="r" cx="404.2" cy="435.3" r="9.4"/>
<circle class="g" cx="226.8" cy="490.2" r="9.4"/>
<circle class="r" cx="385.9" cy="527.5" r="9.4"/>
<circle class="R" cx="478.0" cy="360.0" r="9.4"/>
<circle class="g" cx="204.5" cy="433.0" r="9.4"/>
<circle class="r" cx="463.0" cy="412.2" r="9.4"/>
<circle class="g" cx="206.6" cy="353.4" r="9.4"/>
<circle class="r" cx="443.7" cy="367.2" r="9.4"/>
<circle class="r" cx="415.3" cy="394.1" r="9.4"/>
<circle class="r" cx="449.0" cy="446.2" r="9.4"/>
<circle class="g" cx="224.0" cy="470.0" r="9.4"/>
<circle class="r" cx="464.9" cy="341.2" r="9.4"/>
<circle class="g" cx="249.3" cy="464.5" r="9.4"/>
<circle class="g" cx="198.6" cy="365.7" r="9.4"/>
<circle class="g" cx="204.8" cy="311.4" r="9.4"/>
<circle class="g" cx="172.5" cy="480.2" r="9.4"/>
<circle class="g" cx="234.8" cy="492.4" r="9.4"/>
<circle class="g" cx="174.0" cy="467.8" r="9.4"/>
<circle class="g" cx="213.2" cy="403.0" r="9.4"/>
<circle class="r" cx="441.8" cy="434.8" r="9.4"/>
<circle class="r" cx="446.6" cy="532.1" r="9.4"/>
<circle class="g" cx="261.0" cy="521.5" r="9.4"/>
<circle class="g" cx="232.1" cy="525.2" r="9.4"/>
<circle class="r" cx="446.1" cy="373.7" r="9.4"/>
<circle class="g" cx="194.6" cy="499.5" r="9.4"/>
<circle class="g" cx="190.8" cy="302.6" r="9.4"/>
<circle class="r" cx="449.1" cy="421.9" r="9.4"/>
<circle class="g" cx="216.2" cy="343.6" r="9.4"/>
<circle class="g" cx="193.5" cy="442.0" r="9.4"/>
<circle class="g" cx="191.4" cy="313.8" r="9.4"/>
<circle class="g" cx="203.5" cy="426.1" r="9.4"/>
<circle class="g" cx="206.8" cy="404.1" r="9.4"/>
<circle class="g" cx="208.5" cy="303.6" r="9.4"/>
<circle class="r" cx="415.0" cy="417.4" r="9.4"/>
<circle class="g" cx="214.2" cy="461.8" r="9.4"/>
<circle class="r" cx="441.8" cy="355.0" r="9.4"/>
<circle class="g" cx="213.3" cy="413.2" r="9.4"/>
<circle class="r" cx="441.4" cy="445.9" r="9.4"/>
<circle class="r" cx="424.4" cy="346.2" r="9.4"/>
<circle class="g" cx="230.2" cy="467.6" r="9.4"/>
<circle class="G" cx="162.9" cy="363.5" r="9.4"/>
<circle class="r" cx="443.0" cy="336.9" r="9.4"/>
<circle class="r" cx="455.3" cy="240.5" r="9.4"/>
<circle class="g" cx="229.5" cy="393.9" r="9.4"/>
<circle class="r" cx="439.7" cy="472.8" r="9.4"/>
<circle class="r" cx="428.2" cy="435.7" r="9.4"/>
<circle class="r" cx="414.1" cy="396.3" r="9.4"/>
<circle class="g" cx="188.4" cy="461.7" r="9.4"/>
<circle class="g" cx="214.1" cy="530.4" r="9.4"/>
<circle class="r" cx="423.1" cy="449.8" r="9.4"/>
<circle class="r" cx="424.7" cy="432.5" r="9.4"/>
<circle class="r" cx="416.9" cy="410.5" r="9.4"/>
<circle class="g" cx="240.1" cy="509.8" r="9.4"/>
<circle class="g" cx="224.8" cy="370.4" r="9.4"/>
<circle class="g" cx="227.0" cy="383.3" r="9.4"/>
<circle class="g" cx="201.2" cy="326.3" r="9.4"/>
<circle class="r" cx="412.4" cy="393.8" r="9.4"/>
<circle class="r" cx="426.9" cy="447.8" r="9.4"/>
<circle class="r" cx="448.3" cy="425.1" r="9.4"/>
<circle class="r" cx="408.9" cy="423.7" r="9.4"/>
<circle class="R" cx="486.6" cy="479.7" r="9.4"/>
<circle class="g" cx="226.1" cy="486.7" r="9.4"/>
<circle class="g" cx="195.8" cy="515.7" r="9.4"/>
<circle class="r" cx="425.3" cy="348.4" r="9.4"/>
<circle class="R" cx="490.7" cy="96.3" r="9.4"/>
<circle class="r" cx="435.0" cy="331.8" r="9.4"/>
<circle class="R" cx="477.2" cy="264.1" r="9.4"/>
<circle class="R" cx="488.7" cy="504.7" r="9.4"/>
<circle class="R" cx="487.6" cy="110.9" r="9.4"/>
<circle class="r" cx="392.4" cy="481.4" r="9.4"/>
<circle class="g" cx="193.5" cy="466.1" r="9.4"/>
<circle class="g" cx="208.2" cy="346.0" r="9.4"/>
<circle class="g" cx="238.4" cy="433.2" r="9.4"/>
<circle class="r" cx="406.3" cy="507.0" r="9.4"/>
<circle class="r" cx="470.2" cy="534.8" r="9.4"/>
<circle class="r" cx="429.2" cy="391.0" r="9.4"/>
<circle class="r" cx="397.7" cy="457.5" r="9.4"/>
<circle class="g" cx="197.4" cy="480.7" r="9.4"/>
<circle class="r" cx="438.0" cy="390.1" r="9.4"/>
<circle class="r" cx="439.3" cy="366.4" r="9.4"/>
<circle class="r" cx="415.6" cy="520.1" r="9.4"/>
<circle class="r" cx="454.8" cy="362.5" r="9.4"/>
<circle class="r" cx="429.8" cy="325.9" r="9.4"/>
<circle class="r" cx="450.9" cy="371.7" r="9.4"/>
<circle class="r" cx="416.7" cy="452.1" r="9.4"/>
<circle class="r" cx="466.9" cy="437.7" r="9.4"/>
<circle class="r" cx="419.2" cy="484.6" r="9.4"/>
<circle class="r" cx="445.8" cy="331.3" r="9.4"/>
<circle class="r" cx="441.8" cy="423.7" r="9.4"/>
<circle class="r" cx="413.9" cy="439.0" r="9.4"/>
<circle class="r" cx="457.4" cy="375.6" r="9.4"/>
<circle class="g" cx="220.3" cy="454.7" r="9.4"/>
<circle class="r" cx="454.9" cy="467.6" r="9.4"/>
<circle class="r" cx="422.4" cy="360.3" r="9.4"/>
<circle class="g" cx="236.0" cy="451.5" r="9.4"/>
<circle class="g" cx="215.7" cy="515.2" r="9.4"/>
<circle class="r" cx="451.9" cy="441.3" r="9.4"/>
<circle class="r" cx="418.8" cy="506.2" r="9.4"/>
<circle class="r" cx="441.1" cy="419.9" r="9.4"/>
<circle class="g" cx="213.5" cy="492.3" r="9.4"/>
<circle class="G" cx="156.4" cy="467.3" r="9.4"/>
<circle class="r" cx="392.7" cy="495.1" r="9.4"/>
<circle class="g" cx="218.0" cy="372.9" r="9.4"/>
<circle class="g" cx="258.6" cy="519.0" r="9.4"/>
<circle class="r" cx="421.3" cy="473.1" r="9.4"/>
<circle class="r" cx="460.1" cy="342.9" r="9.4"/>
<circle class="g" cx="195.4" cy="299.4" r="9.4"/>
<circle class="r" cx="404.1" cy="437.0" r="9.4"/>
<circle class="g" cx="220.4" cy="497.4" r="9.4"/>
<circle class="g" cx="193.3" cy="298.8" r="9.4"/>
<circle class="G" cx="163.0" cy="502.0" r="9.4"/>
<circle class="g" cx="213.7" cy="411.3" r="9.4"/>
<circle class="r" cx="420.1" cy="446.9" r="9.4"/>
<circle class="r" cx="466.0" cy="347.0" r="9.4"/>
<circle class="G" cx="144.6" cy="490.8" r="9.4"/>
<circle class="g" cx="224.8" cy="421.8" r="9.4"/>
<circle class="r" cx="430.9" cy="322.5" r="9.4"/>
<circle class="R" cx="483.4" cy="374.4" r="9.4"/>
<circle class="R" cx="479.0" cy="455.0" r="9.4"/>
<circle class="r" cx="442.7" cy="358.4" r="9.4"/>
<circle class="g" cx="177.0" cy="470.0" r="9.4"/>
<circle class="g" cx="176.0" cy="420.0" r="9.4"/>
<circle class="g" cx="223.4" cy="445.4" r="9.4"/>
<circle class="R" cx="483.0" cy="530.0" r="9.4"/>
<circle class="g" cx="244.1" cy="464.8" r="9.4"/>
<circle class="g" cx="224.3" cy="410.0" r="9.4"/>
<circle class="r" cx="444.6" cy="412.8" r="9.4"/>
<circle class="g" cx="197.3" cy="336.1" r="9.4"/>
<circle class="R" cx="484.1" cy="511.3" r="9.4"/>
<circle class="r" cx="464.4" cy="344.6" r="9.4"/>
<circle class="r" cx="436.8" cy="346.7" r="9.4"/>
<circle class="g" cx="211.1" cy="377.2" r="9.4"/>
<circle class="r" cx="383.7" cy="530.0" r="9.4"/>
<circle class="r" cx="452.3" cy="374.6" r="9.4"/>
<circle class="r" cx="435.4" cy="328.3" r="9.4"/>
<circle class="r" cx="438.3" cy="404.6" r="9.4"/>
<circle class="r" cx="436.0" cy="403.9" r="9.4"/>
<circle class="g" cx="199.5" cy="491.0" r="9.4"/>
<circle class="g" cx="238.6" cy="500.4" r="9.4"/>
<circle class="r" cx="424.8" cy="360.8" r="9.4"/>
<circle class="R" cx="480.0" cy="345.0" r="9.4"/>
<circle class="g" cx="192.9" cy="454.7" r="9.4"/>
<circle class="r" cx="445.1" cy="326.9" r="9.4"/>
<circle class="R" cx="527.6" cy="404.6" r="9.4"/>
<circle class="r" cx="451.1" cy="517.6" r="9.4"/>
<circle class="g" cx="204.0" cy="420.6" r="9.4"/>
<circle class="g" cx="194.1" cy="323.9" r="9.4"/>
<circle class="r" cx="444.2" cy="489.8" r="9.4"/>
<circle class="r" cx="430.7" cy="507.1" r="9.4"/>
<circle class="g" cx="173.6" cy="370.4" r="9.4"/>
<circle class="r" cx="473.5" cy="384.0" r="9.4"/>
<circle class="r" cx="433.2" cy="412.2" r="9.4"/>
<circle class="g" cx="254.7" cy="493.6" r="9.4"/>
<circle class="r" cx="391.0" cy="507.1" r="9.4"/>
<circle class="g" cx="170.1" cy="369.6" r="9.4"/>
<circle class="r" cx="442.8" cy="251.6" r="9.4"/>
<circle class="R" cx="480.0" cy="483.9" r="9.4"/>
<circle class="r" cx="430.5" cy="458.0" r="9.4"/>
<circle class="g" cx="188.7" cy="389.3" r="9.4"/>
<circle class="g" cx="191.6" cy="481.0" r="9.4"/>
<circle class="r" cx="389.8" cy="497.6" r="9.4"/>
<circle class="g" cx="217.0" cy="376.3" r="9.4"/>
<circle class="r" cx="446.4" cy="357.8" r="9.4"/>
<circle class="g" cx="213.2" cy="478.5" r="9.4"/>
<circle class="r" cx="436.8" cy="344.0" r="9.4"/>
<circle class="r" cx="467.1" cy="373.3" r="9.4"/>
<circle class="g" cx="199.1" cy="372.3" r="9.4"/>
<circle class="R" cx="555.4" cy="324.6" r="9.4"/>
<circle class="g" cx="227.8" cy="419.6" r="9.4"/>
<circle class="r" cx="404.8" cy="507.5" r="9.4"/>
<circle class="r" cx="426.9" cy="370.2" r="9.4"/>
<circle class="r" cx="395.6" cy="463.2" r="9.4"/>
<circle class="g" cx="208.4" cy="473.2" r="9.4"/>
<circle class="g" cx="218.5" cy="357.5" r="9.4"/>
<circle class="r" cx="469.8" cy="536.1" r="9.4"/>
<circle class="r" cx="415.6" cy="458.0" r="9.4"/>
<circle class="g" cx="209.1" cy="333.6" r="9.4"/>
<circle class="r" cx="470.0" cy="511.9" r="9.4"/>
<circle class="r" cx="427.9" cy="387.9" r="9.4"/>
<circle class="r" cx="474.1" cy="86.9" r="9.4"/>
<circle class="r" cx="448.3" cy="382.2" r="9.4"/>
<circle class="r" cx="449.9" cy="361.6" r="9.4"/>
<circle class="g" cx="199.8" cy="521.1" r="9.4"/>
<circle class="r" cx="416.7" cy="395.8" r="9.4"/>
<circle class="g" cx="206.6" cy="520.7" r="9.4"/>
<circle class="r" cx="409.7" cy="435.3" r="9.4"/>
<circle class="R" cx="489.7" cy="367.1" r="9.4"/>
<circle class="g" cx="201.9" cy="484.2" r="9.4"/>
<circle class="r" cx="390.5" cy="476.9" r="9.4"/>
<circle class="r" cx="465.0" cy="522.2" r="9.4"/>
<circle class="g" cx="168.1" cy="334.9" r="9.4"/>
<circle class="r" cx="415.6" cy="383.8" r="9.4"/>
<circle class="r" cx="417.9" cy="385.9" r="9.4"/>
<circle class="g" cx="202.6" cy="507.8" r="9.4"/>
<circle class="g" cx="206.3" cy="455.7" r="9.4"/>
<circle class="g" cx="220.6" cy="364.6" r="9.4"/>
<circle class="r" cx="449.3" cy="324.2" r="9.4"/>
<circle class="g" cx="178.7" cy="399.8" r="9.4"/>
<circle class="r" cx="449.8" cy="390.8" r="9.4"/>
<circle class="g" cx="226.8" cy="399.6" r="9.4"/>
<circle class="r" cx="420.7" cy="400.4" r="9.4"/>
<circle class="r" cx="440.7" cy="348.4" r="9.4"/>
<circle class="g" cx="196.7" cy="455.1" r="9.4"/>
<circle class="r" cx="448.4" cy="494.9" r="9.4"/>
<circle class="r" cx="395.3" cy="500.7" r="9.4"/>
<circle class="g" cx="250.7" cy="473.6" r="9.4"/>
<circle class="R" cx="488.7" cy="396.3" r="9.4"/>
<circle class="g" cx="200.8" cy="348.6" r="9.4"/>
<circle class="r" cx="452.2" cy="467.5" r="9.4"/>
<circle class="r" cx="433.5" cy="380.3" r="9.4"/>
<circle class="r" cx="444.5" cy="325.9" r="9.4"/>
<circle class="g" cx="232.0" cy="414.5" r="9.4"/>
<circle class="r" cx="431.1" cy="322.9" r="9.4"/>
<circle class="g" cx="246.2" cy="453.9" r="9.4"/>
<circle class="r" cx="425.9" cy="429.7" r="9.4"/>
<circle class="g" cx="214.5" cy="454.7" r="9.4"/>
<circle class="r" cx="383.5" cy="532.8" r="9.4"/>
<circle class="g" cx="182.7" cy="363.7" r="9.4"/>
<circle class="g" cx="230.9" cy="409.8" r="9.4"/>
<circle class="g" cx="199.5" cy="390.6" r="9.4"/>
<circle class="r" cx="449.5" cy="464.7" r="9.4"/>
<circle class="r" cx="402.5" cy="452.5" r="9.4"/>
<circle class="g" cx="255.2" cy="507.3" r="9.4"/>
<circle class="R" cx="509.5" cy="87.5" r="9.4"/>
<circle class="R" cx="494.9" cy="86.9" r="9.4"/>
<circle class="g" cx="202.9" cy="370.0" r="9.4"/>
<circle class="r" cx="442.1" cy="352.6" r="9.4"/>
<circle class="g" cx="203.9" cy="363.6" r="9.4"/>
<circle class="r" cx="458.9" cy="406.8" r="9.4"/>
<circle class="g" cx="183.5" cy="430.1" r="9.4"/>
<circle class="g" cx="196.9" cy="363.5" r="9.4"/>
<circle class="r" cx="414.8" cy="431.6" r="9.4"/>
<circle class="g" cx="170.9" cy="518.4" r="9.4"/>
<circle class="g" cx="194.1" cy="285.3" r="9.4"/>
<circle class="g" cx="214.0" cy="385.4" r="9.4"/>
<circle class="r" cx="431.4" cy="335.0" r="9.4"/>
<circle class="r" cx="420.2" cy="413.7" r="9.4"/>
<circle class="r" cx="450.9" cy="424.4" r="9.4"/>
<circle class="r" cx="426.5" cy="383.2" r="9.4"/>
<circle class="g" cx="203.1" cy="495.2" r="9.4"/>
<circle class="r" cx="420.0" cy="412.5" r="9.4"/>
<circle class="g" cx="190.0" cy="310.0" r="9.4"/>
<circle class="R" cx="477.2" cy="536.0" r="9.4"/>
<circle class="g" cx="234.4" cy="424.9" r="9.4"/>
<circle class="r" cx="445.6" cy="377.6" r="9.4"/>
<circle class="r" cx="448.2" cy="312.0" r="9.4"/>
<circle class="r" cx="417.9" cy="440.2" r="9.4"/>
<circle class="r" cx="448.6" cy="316.3" r="9.4"/>
<circle class="r" cx="453.5" cy="364.3" r="9.4"/>
<circle class="g" cx="177.6" cy="533.1" r="9.4"/>
<circle class="r" cx="434.0" cy="413.0" r="9.4"/>
<circle class="r" cx="411.0" cy="451.4" r="9.4"/>
<circle class="r" cx="459.3" cy="517.5" r="9.4"/>
<circle class="g" cx="244.6" cy="468.4" r="9.4"/>
<circle class="r" cx="448.2" cy="394.6" r="9.4"/>
<circle class="r" cx="421.4" cy="505.3" r="9.4"/>
<circle class="r" cx="396.1" cy="498.5" r="9.4"/>
<circle class="g" cx="196.1" cy="441.9" r="9.4"/>
<circle class="r" cx="419.5" cy="457.4" r="9.4"/>
<circle class="g" cx="249.1" cy="529.8" r="9.4"/>
<circle class="r" cx="436.6" cy="413.0" r="9.4"/>
<circle class="g" cx="196.9" cy="349.0" r="9.4"/>
<circle class="g" cx="181.6" cy="458.2" r="9.4"/>
<circle class="r" cx="451.0" cy="349.6" r="9.4"/>
<circle class="g" cx="210.1" cy="461.0" r="9.4"/>
<circle class="r" cx="432.9" cy="429.7" r="9.4"/>
<circle class="r" cx="440.7" cy="337.3" r="9.4"/>
<circle class="r" cx="420.8" cy="445.9" r="9.4"/>
<circle class="r" cx="458.6" cy="363.6" r="9.4"/>
<circle class="R" cx="486.6" cy="381.7" r="9.4"/>
<circle class="r" cx="431.0" cy="327.5" r="9.4"/>
<circle class="g" cx="212.5" cy="361.6" r="9.4"/>
<circle class="r" cx="451.2" cy="445.8" r="9.4"/>
<circle class="r" cx="427.6" cy="428.8" r="9.4"/>
<circle class="g" cx="224.7" cy="404.9" r="9.4"/>
<circle class="g" cx="263.5" cy="535.3" r="9.4"/>
<circle class="g" cx="236.9" cy="420.3" r="9.4"/>
<circle class="g" cx="233.5" cy="423.9" r="9.4"/>
<circle class="r" cx="410.2" cy="424.3" r="9.4"/>
<circle class="r" cx="439.1" cy="341.9" r="9.4"/>
<circle class="r" cx="386.3" cy="528.7" r="9.4"/>
<circle class="g" cx="212.3" cy="327.0" r="9.4"/>
<circle class="g" cx="242.3" cy="445.7" r="9.4"/>
<circle class="g" cx="201.5" cy="480.0" r="9.4"/>
<circle class="r" cx="453.1" cy="359.6" r="9.4"/>
<circle class="r" cx="452.3" cy="398.5" r="9.4"/>
<circle class="r" cx="453.7" cy="463.7" r="9.4"/>
<circle class="g" cx="216.2" cy="344.0" r="9.4"/>
<circle class="g" cx="239.9" cy="474.7" r="9.4"/>
<circle class="g" cx="229.1" cy="501.5" r="9.4"/>
<circle class="g" cx="188.9" cy="258.0" r="9.4"/>
<circle class="g" cx="194.4" cy="323.0" r="9.4"/>
<circle class="g" cx="228.2" cy="397.8" r="9.4"/>
<circle class="r" cx="392.4" cy="507.4" r="9.4"/>
<circle class="r" cx="417.7" cy="407.9" r="9.4"/>
<circle class="g" cx="207.2" cy="372.0" r="9.4"/>
<circle class="R" cx="481.4" cy="506.8" r="9.4"/>
<circle class="r" cx="463.0" cy="312.0" r="9.4"/>
<circle class="r" cx="407.9" cy="420.7" r="9.4"/>
<circle class="g" cx="220.6" cy="525.2" r="9.4"/>
<circle class="g" cx="200.9" cy="305.1" r="9.4"/>
<circle class="r" cx="418.1" cy="371.4" r="9.4"/>
<circle class="r" cx="413.3" cy="394.5" r="9.4"/>
<circle class="g" cx="198.1" cy="344.0" r="9.4"/>
<circle class="g" cx="237.3" cy="456.8" r="9.4"/>
<circle class="r" cx="412.9" cy="452.5" r="9.4"/>
<circle class="r" cx="445.6" cy="413.2" r="9.4"/>
<circle class="g" cx="204.4" cy="472.7" r="9.4"/>
<circle class="g" cx="198.7" cy="350.9" r="9.4"/>
<circle class="g" cx="233.1" cy="525.7" r="9.4"/>
<circle class="g" cx="220.4" cy="378.5" r="9.4"/>
<circle class="g" cx="203.6" cy="351.3" r="9.4"/>
<circle class="r" cx="421.7" cy="366.7" r="9.4"/>
<circle class="r" cx="408.9" cy="483.6" r="9.4"/>
<circle class="r" cx="437.7" cy="470.4" r="9.4"/>
<circle class="R" cx="479.2" cy="447.2" r="9.4"/>
<circle class="g" cx="193.8" cy="295.8" r="9.4"/>
<circle class="g" cx="194.5" cy="427.8" r="9.4"/>
<circle class="r" cx="452.9" cy="382.8" r="9.4"/>
<circle class="g" cx="198.4" cy="453.5" r="9.4"/>
<circle class="r" cx="448.5" cy="476.1" r="9.4"/>
<circle class="g" cx="235.0" cy="455.0" r="9.4"/>
<circle class="r" cx="429.3" cy="353.8" r="9.4"/>
<circle class="r" cx="413.2" cy="428.4" r="9.4"/>
<circle class="g" cx="169.8" cy="508.0" r="9.4"/>
<circle class="r" cx="447.5" cy="367.7" r="9.4"/>
<circle class="r" cx="414.8" cy="432.9" r="9.4"/>
<circle class="r" cx="378.0" cy="522.0" r="9.4"/>
<circle class="r" cx="426.7" cy="456.4" r="9.4"/>
<circle class="r" cx="387.6" cy="489.5" r="9.4"/>
<circle class="r" cx="434.5" cy="399.3" r="9.4"/>
<circle class="g" cx="197.9" cy="330.2" r="9.4"/>
<circle class="r" cx="380.5" cy="520.8" r="9.4"/>
<circle class="r" cx="420.4" cy="521.6" r="9.4"/>
<circle class="g" cx="223.7" cy="482.2" r="9.4"/>
<circle class="r" cx="420.9" cy="402.9" r="9.4"/>
<circle class="g" cx="193.8" cy="470.8" r="9.4"/>
<circle class="r" cx="449.4" cy="463.9" r="9.4"/>
<circle class="r" cx="429.2" cy="386.1" r="9.4"/>
<circle class="r" cx="424.6" cy="522.7" r="9.4"/>
<circle class="r" cx="421.3" cy="465.5" r="9.4"/>
<circle class="G" cx="159.0" cy="424.3" r="9.4"/>
<circle class="g" cx="183.5" cy="506.1" r="9.4"/>
<circle class="r" cx="430.7" cy="330.9" r="9.4"/>
<circle class="g" cx="194.5" cy="305.6" r="9.4"/>
<circle class="g" cx="227.6" cy="472.7" r="9.4"/>
<circle class="r" cx="428.8" cy="411.8" r="9.4"/>
<circle class="R" cx="494.9" cy="97.3" r="9.4"/>
<circle class="r" cx="453.9" cy="499.7" r="9.4"/>
<circle class="r" cx="463.7" cy="496.4" r="9.4"/>
<circle class="g" cx="246.8" cy="485.2" r="9.4"/>
<circle class="r" cx="400.5" cy="452.8" r="9.4"/>
<circle class="g" cx="223.3" cy="364.6" r="9.4"/>
<circle class="g" cx="174.9" cy="524.1" r="9.4"/>
<circle class="r" cx="422.0" cy="474.2" r="9.4"/>
<circle class="r" cx="429.7" cy="484.4" r="9.4"/>
<circle class="g" cx="234.5" cy="493.5" r="9.4"/>
<circle class="r" cx="445.2" cy="483.3" r="9.4"/>
<circle class="r" cx="445.0" cy="485.2" r="9.4"/>
<circle class="r" cx="425.3" cy="519.8" r="9.4"/>
<circle class="g" cx="197.4" cy="497.0" r="9.4"/>
<circle class="r" cx="421.6" cy="481.9" r="9.4"/>
<circle class="g" cx="198.6" cy="427.6" r="9.4"/>
<circle class="r" cx="469.8" cy="508.6" r="9.4"/>
<circle class="g" cx="187.2" cy="491.8" r="9.4"/>
<circle class="g" cx="198.4" cy="342.1" r="9.4"/>
<circle class="r" cx="383.4" cy="514.8" r="9.4"/>
<circle class="g" cx="200.7" cy="312.7" r="9.4"/>
<circle class="R" cx="506.4" cy="86.3" r="9.4"/>
<circle class="r" cx="422.6" cy="366.9" r="9.4"/>
<circle class="r" cx="402.1" cy="488.8" r="9.4"/>
<circle class="r" cx="451.4" cy="426.2" r="9.4"/>
<circle class="g" cx="219.6" cy="374.9" r="9.4"/>
<circle class="R" cx="512.2" cy="223.4" r="9.4"/>
<circle class="r" cx="413.7" cy="407.2" r="9.4"/>
<circle class="g" cx="192.9" cy="407.2" r="9.4"/>
<circle class="g" cx="198.3" cy="386.4" r="9.4"/>
<circle class="g" cx="191.9" cy="456.3" r="9.4"/>
<circle class="g" cx="198.8" cy="314.4" r="9.4"/>
<circle class="g" cx="198.9" cy="310.4" r="9.4"/>
<circle class="R" cx="547.7" cy="98.4" r="9.4"/>
<circle class="g" cx="231.1" cy="476.2" r="9.4"/>
<circle class="g" cx="233.7" cy="500.1" r="9.4"/>
<circle class="r" cx="409.6" cy="479.1" r="9.4"/>
<circle class="g" cx="203.6" cy="327.3" r="9.4"/>
<circle class="r" cx="466.4" cy="439.5" r="9.4"/>
<circle class="R" cx="507.4" cy="453.6" r="9.4"/>
<circle class="g" cx="202.2" cy="368.2" r="9.4"/>
<circle class="r" cx="444.3" cy="528.7" r="9.4"/>
<circle class="r" cx="435.3" cy="472.9" r="9.4"/>
<circle class="R" cx="501.2" cy="350.6" r="9.4"/>
<circle class="g" cx="220.8" cy="357.4" r="9.4"/>
<circle class="r" cx="415.1" cy="523.9" r="9.4"/>
<circle class="r" cx="405.6" cy="503.9" r="9.4"/>
<circle class="g" cx="231.8" cy="410.6" r="9.4"/>
<circle class="R" cx="499.1" cy="98.0" r="9.4"/>
<circle class="r" cx="422.5" cy="511.6" r="9.4"/>
<circle class="g" cx="194.5" cy="311.9" r="9.4"/>
<circle class="g" cx="193.6" cy="387.9" r="9.4"/>
<circle class="g" cx="182.5" cy="457.4" r="9.4"/>
<circle class="g" cx="207.7" cy="395.8" r="9.4"/>
<circle class="r" cx="403.2" cy="434.1" r="9.4"/>
<circle class="R" cx="492.8" cy="185.9" r="9.4"/>
<circle class="g" cx="214.4" cy="487.3" r="9.4"/>
<circle class="g" cx="234.6" cy="497.8" r="9.4"/>
<circle class="r" cx="410.8" cy="421.1" r="9.4"/>
<circle class="g" cx="187.8" cy="522.1" r="9.4"/>
<circle class="r" cx="416.0" cy="417.9" r="9.4"/>
<circle class="g" cx="195.7" cy="352.9" r="9.4"/>
<circle class="r" cx="435.0" cy="379.8" r="9.4"/>
<circle class="g" cx="255.8" cy="537.2" r="9.4"/>
<circle class="r" cx="445.5" cy="388.8" r="9.4"/>
<circle class="g" cx="196.9" cy="339.4" r="9.4"/>
<circle class="r" cx="376.7" cy="526.5" r="9.4"/>
<circle class="g" cx="186.3" cy="299.7" r="9.4"/>
<circle class="r" cx="453.3" cy="419.6" r="9.4"/>
<circle class="r" cx="435.1" cy="517.3" r="9.4"/>
<circle class="g" cx="218.0" cy="473.5" r="9.4"/>
<circle class="g" cx="239.6" cy="429.5" r="9.4"/>
<circle class="g" cx="185.3" cy="532.0" r="9.4"/>
<circle class="g" cx="230.4" cy="441.9" r="9.4"/>
<circle class="r" cx="466.8" cy="360.8" r="9.4"/>
<circle class="r" cx="409.2" cy="421.2" r="9.4"/>
<circle class="g" cx="197.4" cy="323.8" r="9.4"/>
<circle class="R" cx="492.8" cy="301.6" r="9.4"/>
<circle class="R" cx="484.5" cy="218.9" r="9.4"/>
<circle class="g" cx="212.6" cy="501.9" r="9.4"/>
<circle class="r" cx="445.9" cy="505.6" r="9.4"/>
<circle class="g" cx="172.9" cy="422.5" r="9.4"/>
<circle class="g" cx="228.3" cy="489.8" r="9.4"/>
<circle class="g" cx="193.4" cy="365.5" r="9.4"/>
<circle class="r" cx="450.8" cy="496.9" r="9.4"/>
<circle class="g" cx="200.7" cy="453.4" r="9.4"/>
<circle class="g" cx="210.1" cy="489.0" r="9.4"/>
<circle class="r" cx="416.8" cy="517.0" r="9.4"/>
<circle class="r" cx="423.1" cy="486.9" r="9.4"/>
<circle class="g" cx="206.4" cy="498.8" r="9.4"/>
<circle class="r" cx="418.6" cy="416.1" r="9.4"/>
<circle class="r" cx="407.5" cy="409.7" r="9.4"/>
<circle class="r" cx="382.5" cy="514.1" r="9.4"/>
<circle class="r" cx="430.8" cy="388.8" r="9.4"/>
<circle class="g" cx="238.6" cy="430.8" r="9.4"/>
<circle class="r" cx="430.3" cy="529.9" r="9.4"/>
<circle class="r" cx="425.3" cy="465.4" r="9.4"/>
<circle class="r" cx="414.3" cy="531.1" r="9.4"/>
<circle class="r" cx="433.3" cy="338.2" r="9.4"/>
<circle class="r" cx="471.5" cy="464.1" r="9.4"/>
<circle class="g" cx="237.0" cy="519.6" r="9.4"/>
<circle class="r" cx="431.4" cy="334.2" r="9.4"/>
<circle class="g" cx="191.8" cy="389.1" r="9.4"/>
<circle class="g" cx="263.0" cy="531.0" r="9.4"/>
<circle class="g" cx="196.0" cy="306.0" r="9.4"/>
<circle class="g" cx="206.1" cy="499.7" r="9.4"/>
<circle class="g" cx="232.6" cy="400.8" r="9.4"/>
<circle class="R" cx="486.6" cy="458.8" r="9.4"/>
<circle class="g" cx="198.3" cy="342.7" r="9.4"/>
<circle class="r" cx="454.9" cy="441.9" r="9.4"/>
<circle class="r" cx="452.5" cy="506.3" r="9.4"/>
<circle class="g" cx="228.1" cy="438.1" r="9.4"/>
<circle class="r" cx="473.4" cy="533.6" r="9.4"/>
<circle class="g" cx="195.3" cy="502.9" r="9.4"/>
<circle class="r" cx="395.7" cy="459.1" r="9.4"/>
<circle class="R" cx="490.7" cy="422.3" r="9.4"/>
<circle class="g" cx="221.3" cy="407.3" r="9.4"/>
<circle class="g" cx="172.0" cy="537.1" r="9.4"/>
<circle class="g" cx="216.7" cy="363.3" r="9.4"/>
<circle class="r" cx="376.2" cy="532.5" r="9.4"/>
<circle class="g" cx="238.9" cy="503.0" r="9.4"/>
<circle class="r" cx="431.7" cy="512.0" r="9.4"/>
<circle class="r" cx="447.0" cy="335.4" r="9.4"/>
<circle class="r" cx="441.6" cy="341.8" r="9.4"/>
<circle class="g" cx="210.0" cy="314.5" r="9.4"/>
<circle class="g" cx="223.3" cy="368.1" r="9.4"/>
<circle class="g" cx="181.6" cy="420.5" r="9.4"/>
<circle class="G" cx="99.8" cy="519.4" r="9.4"/>
<circle class="R" cx="505.3" cy="337.0" r="9.4"/>
<circle class="g" cx="243.3" cy="501.5" r="9.4"/>
<circle class="g" cx="180.0" cy="467.7" r="9.4"/>
<circle class="r" cx="432.8" cy="422.1" r="9.4"/>
<circle class="r" cx="435.7" cy="437.6" r="9.4"/>
<circle class="r" cx="416.6" cy="462.7" r="9.4"/>
<circle class="r" cx="400.1" cy="497.4" r="9.4"/>
<circle class="r" cx="430.7" cy="408.4" r="9.4"/>
<circle class="g" cx="209.7" cy="330.5" r="9.4"/>
<circle class="g" cx="195.6" cy="374.6" r="9.4"/>
<circle class="r" cx="444.1" cy="322.9" r="9.4"/>
<circle class="g" cx="213.4" cy="489.5" r="9.4"/>
<circle class="r" cx="410.1" cy="534.3" r="9.4"/>
<circle class="g" cx="215.7" cy="524.0" r="9.4"/>
<circle class="r" cx="472.6" cy="187.0" r="9.4"/>
<circle class="g" cx="197.0" cy="462.7" r="9.4"/>
<circle class="g" cx="203.8" cy="348.5" r="9.4"/>
<circle class="R" cx="483.6" cy="366.1" r="9.4"/>
<circle class="r" cx="422.0" cy="441.0" r="9.4"/>
<circle class="g" cx="205.8" cy="348.3" r="9.4"/>
<circle class="r" cx="391.8" cy="495.0" r="9.4"/>
<circle class="R" cx="478.0" cy="398.0" r="9.4"/>
<circle class="r" cx="427.5" cy="368.6" r="9.4"/>
<circle class="g" cx="206.6" cy="448.6" r="9.4"/>
<circle class="r" cx="406.9" cy="412.6" r="9.4"/>
<circle class="r" cx="426.4" cy="515.3" r="9.4"/>
<circle class="g" cx="258.1" cy="509.8" r="9.4"/>
<circle class="g" cx="234.2" cy="438.5" r="9.4"/>
<circle class="g" cx="224.6" cy="411.9" r="9.4"/>
<circle class="R" cx="491.8" cy="236.0" r="9.4"/>
<circle class="g" cx="209.9" cy="322.4" r="9.4"/>
<circle class="r" cx="390.7" cy="493.0" r="9.4"/>
<circle class="r" cx="441.1" cy="425.6" r="9.4"/>
<circle class="r" cx="415.3" cy="529.8" r="9.4"/>
<circle class="r" cx="469.9" cy="297.5" r="9.4"/>
<circle class="r" cx="412.4" cy="484.5" r="9.4"/>
<circle class="r" cx="437.0" cy="375.4" r="9.4"/>
<circle class="r" cx="447.0" cy="331.8" r="9.4"/>
<circle class="g" cx="193.7" cy="395.1" r="9.4"/>
<circle class="g" cx="191.8" cy="530.1" r="9.4"/>
<circle class="r" cx="470.6" cy="406.6" r="9.4"/>
<circle class="g" cx="249.9" cy="521.7" r="9.4"/>
<circle class="G" cx="155.0" cy="438.6" r="9.4"/>
<circle class="g" cx="174.0" cy="528.0" r="9.4"/>
<circle class="r" cx="469.0" cy="376.7" r="9.4"/>
<circle class="g" cx="180.2" cy="360.1" r="9.4"/>
<circle class="R" cx="547.0" cy="453.6" r="9.4"/>
<circle class="r" cx="413.4" cy="433.2" r="9.4"/>
<circle class="R" cx="477.2" cy="425.5" r="9.4"/>
<circle class="g" cx="222.9" cy="449.7" r="9.4"/>
<circle class="r" cx="451.2" cy="408.5" r="9.4"/>
<circle class="g" cx="197.4" cy="466.4" r="9.4"/>
<circle class="r" cx="436.5" cy="253.0" r="9.4"/>
<circle class="r" cx="438.4" cy="344.9" r="9.4"/>
<circle class="g" cx="192.7" cy="355.1" r="9.4"/>
<circle class="g" cx="206.6" cy="354.1" r="9.4"/>
<circle class="g" cx="253.8" cy="520.4" r="9.4"/>
<circle class="g" cx="191.3" cy="510.7" r="9.4"/>
<circle class="R" cx="487.3" cy="459.7" r="9.4"/>
<circle class="r" cx="392.6" cy="510.5" r="9.4"/>
<circle class="g" cx="171.2" cy="190.7" r="9.4"/>
<circle class="r" cx="438.2" cy="327.4" r="9.4"/>
<circle class="g" cx="181.8" cy="513.2" r="9.4"/>
<circle class="g" cx="171.7" cy="521.5" r="9.4"/>
<circle class="g" cx="204.0" cy="453.8" r="9.4"/>
<circle class="r" cx="376.4" cy="534.5" r="9.4"/>
<circle class="r" cx="466.8" cy="384.4" r="9.4"/>
<circle class="r" cx="452.5" cy="514.0" r="9.4"/>
<circle class="g" cx="201.3" cy="430.0" r="9.4"/>
<circle class="r" cx="453.7" cy="450.2" r="9.4"/>
<circle class="r" cx="443.9" cy="320.4" r="9.4"/>
<circle class="R" cx="507.4" cy="465.1" r="9.4"/>
<circle class="r" cx="444.8" cy="369.0" r="9.4"/>
<circle class="r" cx="446.4" cy="429.3" r="9.4"/>
<circle class="R" cx="488.7" cy="519.3" r="9.4"/>
<circle class="g" cx="256.1" cy="534.6" r="9.4"/>
<circle class="g" cx="246.1" cy="481.0" r="9.4"/>
<circle class="r" cx="425.8" cy="440.0" r="9.4"/>
<circle class="r" cx="434.8" cy="503.0" r="9.4"/>
<circle class="g" cx="232.2" cy="424.6" r="9.4"/>
<circle class="g" cx="211.9" cy="404.9" r="9.4"/>
<circle class="r" cx="408.1" cy="496.7" r="9.4"/>
<circle class="R" cx="485.5" cy="453.0" r="9.4"/>
<circle class="g" cx="228.4" cy="455.8" r="9.4"/>
<circle class="g" cx="215.1" cy="352.7" r="9.4"/>
<circle class="r" cx="461.7" cy="484.6" r="9.4"/>
<circle class="r" cx="453.3" cy="466.9" r="9.4"/>
<circle class="r" cx="442.1" cy="310.2" r="9.4"/>
<circle class="g" cx="217.5" cy="407.2" r="9.4"/>
<circle class="r" cx="472.1" cy="508.2" r="9.4"/>
<circle class="g" cx="262.0" cy="533.3" r="9.4"/>
<circle class="g" cx="203.9" cy="476.0" r="9.4"/>
<circle class="g" cx="202.0" cy="524.0" r="9.4"/>
<circle class="r" cx="390.9" cy="487.6" r="9.4"/>
<circle class="r" cx="408.3" cy="488.7" r="9.4"/>
<circle class="r" cx="413.6" cy="391.2" r="9.4"/>
<circle class="g" cx="170.0" cy="447.0" r="9.4"/>
<circle class="r" cx="444.8" cy="536.6" r="9.4"/>
<circle class="r" cx="446.2" cy="502.8" r="9.4"/>
<circle class="R" cx="479.7" cy="506.6" r="9.4"/>
<circle class="g" cx="202.2" cy="403.0" r="9.4"/>
<circle class="R" cx="479.0" cy="412.0" r="9.4"/>
<circle class="g" cx="177.8" cy="393.1" r="9.4"/>
<circle class="r" cx="425.0" cy="347.7" r="9.4"/>
<circle class="r" cx="429.7" cy="349.4" r="9.4"/>
<circle class="r" cx="407.6" cy="463.1" r="9.4"/>
<circle class="r" cx="451.0" cy="390.9" r="9.4"/>
<circle class="g" cx="202.7" cy="535.8" r="9.4"/>
<circle class="r" cx="426.0" cy="476.8" r="9.4"/>
<circle class="g" cx="254.9" cy="491.9" r="9.4"/>
<circle class="r" cx="418.1" cy="498.0" r="9.4"/>
<circle class="g" cx="185.2" cy="534.3" r="9.4"/>
<circle class="g" cx="174.4" cy="457.8" r="9.4"/>
<circle class="r" cx="383.2" cy="527.5" r="9.4"/>
<circle class="g" cx="194.5" cy="481.6" r="9.4"/>
<circle class="r" cx="418.9" cy="368.0" r="9.4"/>
<circle class="g" cx="237.2" cy="425.9" r="9.4"/>
<circle class="r" cx="388.8" cy="500.5" r="9.4"/>
<circle class="r" cx="430.9" cy="327.0" r="9.4"/>
<circle class="g" cx="200.0" cy="321.7" r="9.4"/>
<circle class="g" cx="235.4" cy="516.1" r="9.4"/>
<circle class="g" cx="232.1" cy="495.1" r="9.4"/>
<circle class="g" cx="201.2" cy="365.7" r="9.4"/>
<circle class="g" cx="191.7" cy="463.4" r="9.4"/>
<circle class="g" cx="200.7" cy="363.5" r="9.4"/>
<circle class="r" cx="432.5" cy="467.2" r="9.4"/>
<circle class="r" cx="398.9" cy="485.9" r="9.4"/>
<circle class="g" cx="232.7" cy="477.6" r="9.4"/>
<circle class="g" cx="199.9" cy="512.6" r="9.4"/>
<circle class="r" cx="444.4" cy="383.3" r="9.4"/>
<circle class="r" cx="433.8" cy="437.1" r="9.4"/>
<circle class="r" cx="382.6" cy="510.8" r="9.4"/>
<circle class="g" cx="231.5" cy="408.1" r="9.4"/>
<circle class="r" cx="441.6" cy="411.9" r="9.4"/>
<circle class="r" cx="420.5" cy="473.4" r="9.4"/>
<circle class="g" cx="198.0" cy="505.1" r="9.4"/>
<circle class="g" cx="188.2" cy="366.4" r="9.4"/>
<circle class="g" cx="181.5" cy="509.5" r="9.4"/>
<circle class="g" cx="172.0" cy="400.0" r="9.4"/>
<circle class="g" cx="231.8" cy="419.7" r="9.4"/>
<circle class="g" cx="210.9" cy="524.5" r="9.4"/>
<circle class="R" cx="484.0" cy="440.0" r="9.4"/>
<circle class="r" cx="472.0" cy="170.3" r="9.4"/>
<circle class="r" cx="415.8" cy="384.9" r="9.4"/>
<circle class="g" cx="193.1" cy="424.6" r="9.4"/>
<circle class="r" cx="421.4" cy="465.6" r="9.4"/>
<circle class="R" cx="483.5" cy="433.0" r="9.4"/>
<circle class="r" cx="438.6" cy="316.1" r="9.4"/>
<circle class="r" cx="462.5" cy="354.3" r="9.4"/>
<circle class="r" cx="435.3" cy="329.8" r="9.4"/>
<circle class="r" cx="429.3" cy="453.9" r="9.4"/>
<circle class="r" cx="428.9" cy="338.8" r="9.4"/>
<circle class="g" cx="171.6" cy="514.7" r="9.4"/>
<circle class="g" cx="182.4" cy="284.0" r="9.4"/>
<circle class="r" cx="466.3" cy="327.7" r="9.4"/>
<circle class="r" cx="464.9" cy="362.3" r="9.4"/>
<circle class="g" cx="234.5" cy="498.8" r="9.4"/>
<circle class="g" cx="214.2" cy="329.1" r="9.4"/>
<circle class="r" cx="438.6" cy="320.8" r="9.4"/>
<circle class="r" cx="427.5" cy="333.7" r="9.4"/>
<circle class="g" cx="213.8" cy="428.4" r="9.4"/>
<circle class="r" cx="456.2" cy="414.6" r="9.4"/>
<circle class="g" cx="209.6" cy="478.2" r="9.4"/>
<circle class="r" cx="420.7" cy="423.8" r="9.4"/>
<circle class="g" cx="228.2" cy="459.4" r="9.4"/>
<circle class="g" cx="199.4" cy="343.8" r="9.4"/>
<circle class="g" cx="194.5" cy="358.0" r="9.4"/>
<circle class="r" cx="442.0" cy="386.2" r="9.4"/>
<circle class="g" cx="220.9" cy="534.3" r="9.4"/>
<circle class="r" cx="451.3" cy="307.0" r="9.4"/>
<circle class="r" cx="420.4" cy="361.9" r="9.4"/>
<circle class="r" cx="423.0" cy="408.9" r="9.4"/>
<circle class="r" cx="451.2" cy="426.5" r="9.4"/>
<circle class="r" cx="407.4" cy="426.7" r="9.4"/>
<circle class="g" cx="193.1" cy="464.3" r="9.4"/>
<circle class="r" cx="458.4" cy="300.3" r="9.4"/>
<circle class="g" cx="216.7" cy="385.6" r="9.4"/>
<circle class="r" cx="448.8" cy="303.2" r="9.4"/>
<circle class="r" cx="441.8" cy="441.9" r="9.4"/>
<circle class="r" cx="411.1" cy="402.1" r="9.4"/>
<circle class="r" cx="419.1" cy="517.1" r="9.4"/>
<circle class="g" cx="224.8" cy="468.6" r="9.4"/>
<circle class="g" cx="178.8" cy="386.4" r="9.4"/>
<circle class="r" cx="432.3" cy="371.0" r="9.4"/>
<circle class="r" cx="472.7" cy="509.7" r="9.4"/>
<circle class="g" cx="213.5" cy="469.4" r="9.4"/>
<circle class="r" cx="442.4" cy="442.3" r="9.4"/>
<circle class="r" cx="420.3" cy="493.4" r="9.4"/>
<circle class="r" cx="456.5" cy="341.8" r="9.4"/>
<circle class="r" cx="437.1" cy="423.5" r="9.4"/>
<circle class="r" cx="428.5" cy="422.1" r="9.4"/>
<circle class="g" cx="213.4" cy="498.4" r="9.4"/>
<circle class="g" cx="211.3" cy="318.4" r="9.4"/>
<circle class="g" cx="200.6" cy="408.8" r="9.4"/>
<circle class="g" cx="196.4" cy="372.2" r="9.4"/>
<circle class="g" cx="196.7" cy="471.7" r="9.4"/>
<circle class="R" cx="513.7" cy="528.7" r="9.4"/>
<circle class="g" cx="221.4" cy="492.8" r="9.4"/>
<circle class="g" cx="220.5" cy="363.4" r="9.4"/>
<circle class="g" cx="215.0" cy="529.3" r="9.4"/>
<circle class="g" cx="210.2" cy="322.5" r="9.4"/>
<circle class="r" cx="449.0" cy="523.8" r="9.4"/>
<circle class="r" cx="412.9" cy="391.9" r="9.4"/>
<circle class="R" cx="486.6" cy="317.3" r="9.4"/>
<circle class="r" cx="452.6" cy="476.1" r="9.4"/>
<circle class="r" cx="454.4" cy="414.0" r="9.4"/>
<circle class="g" cx="220.9" cy="436.3" r="9.4"/>
<circle class="r" cx="431.6" cy="516.4" r="9.4"/>
<circle class="R" cx="532.4" cy="474.5" r="9.4"/>
<circle class="r" cx="429.4" cy="351.6" r="9.4"/>
<circle class="g" cx="193.6" cy="514.8" r="9.4"/>
<circle class="r" cx="456.2" cy="314.6" r="9.4"/>
<circle class="r" cx="445.5" cy="402.2" r="9.4"/>
<circle class="r" cx="437.2" cy="318.8" r="9.4"/>
<circle class="R" cx="474.1" cy="441.6" r="9.4"/>
<circle class="r" cx="437.2" cy="488.6" r="9.4"/>
<circle class="r" cx="463.8" cy="346.7" r="9.4"/>
<circle class="r" cx="426.2" cy="347.1" r="9.4"/>
<circle class="g" cx="182.9" cy="519.5" r="9.4"/>
<circle class="g" cx="179.8" cy="355.7" r="9.4"/>
<circle class="g" cx="193.0" cy="418.9" r="9.4"/>
<circle class="r" cx="399.8" cy="447.5" r="9.4"/>
<circle class="g" cx="198.4" cy="314.1" r="9.4"/>
<circle class="g" cx="254.1" cy="492.3" r="9.4"/>
<circle class="g" cx="230.7" cy="396.1" r="9.4"/>
<circle class="g" cx="186.2" cy="516.3" r="9.4"/>
<circle class="g" cx="170.7" cy="377.9" r="9.4"/>
<circle class="r" cx="413.1" cy="432.1" r="9.4"/>
<circle class="r" cx="441.6" cy="315.0" r="9.4"/>
<circle class="g" cx="220.8" cy="480.1" r="9.4"/>
<circle class="r" cx="444.7" cy="523.7" r="9.4"/>
<circle class="r" cx="379.0" cy="533.1" r="9.4"/>
<circle class="r" cx="447.4" cy="334.9" r="9.4"/>
<circle class="r" cx="438.2" cy="441.8" r="9.4"/>
<circle class="r" cx="423.3" cy="465.0" r="9.4"/>
<circle class="r" cx="393.0" cy="467.7" r="9.4"/>
<circle class="r" cx="466.7" cy="512.8" r="9.4"/>
<circle class="r" cx="440.0" cy="345.9" r="9.4"/>
<circle class="r" cx="414.9" cy="395.1" r="9.4"/>
<circle class="r" cx="428.4" cy="403.9" r="9.4"/>
<circle class="r" cx="414.5" cy="396.8" r="9.4"/>
<circle class="r" cx="434.7" cy="344.1" r="9.4"/>
<circle class="g" cx="211.7" cy="382.4" r="9.4"/>
<circle class="g" cx="246.7" cy="456.8" r="9.4"/>
<circle class="g" cx="194.2" cy="321.0" r="9.4"/>
<circle class="g" cx="214.0" cy="498.5" r="9.4"/>
<circle class="g" cx="208.2" cy="346.9" r="9.4"/>
<circle class="g" cx="192.1" cy="441.5" r="9.4"/>
<circle class="g" cx="255.7" cy="495.5" r="9.4"/>
<circle class="G" cx="145.9" cy="464.7" r="9.4"/>
<circle class="r" cx="417.8" cy="429.3" r="9.4"/>
<circle class="g" cx="211.7" cy="488.7" r="9.4"/>
<circle class="g" cx="236.1" cy="491.3" r="9.4"/>
<circle class="r" cx="453.4" cy="369.0" r="9.4"/>
<circle class="r" cx="451.0" cy="516.4" r="9.4"/>
<circle class="r" cx="386.2" cy="496.0" r="9.4"/>
<circle class="g" cx="183.8" cy="389.1" r="9.4"/>
<circle class="g" cx="201.6" cy="452.0" r="9.4"/>
<circle class="r" cx="438.0" cy="448.9" r="9.4"/>
<circle class="g" cx="203.1" cy="436.8" r="9.4"/>
<circle class="g" cx="212.4" cy="393.1" r="9.4"/>
<circle class="r" cx="456.7" cy="355.1" r="9.4"/>
<circle class="r" cx="414.7" cy="420.6" r="9.4"/>
<circle class="r" cx="447.5" cy="344.6" r="9.4"/>
<circle class="g" cx="244.3" cy="445.0" r="9.4"/>
<circle class="r" cx="422.9" cy="464.4" r="9.4"/>
<circle class="r" cx="429.9" cy="404.8" r="9.4"/>
<circle class="r" cx="465.6" cy="342.0" r="9.4"/>
<circle class="r" cx="394.8" cy="466.9" r="9.4"/>
<circle class="r" cx="425.8" cy="340.5" r="9.4"/>
<circle class="r" cx="395.0" cy="460.6" r="9.4"/>
<circle class="g" cx="241.0" cy="440.9" r="9.4"/>
<circle class="g" cx="225.6" cy="430.1" r="9.4"/>
<circle class="g" cx="197.1" cy="315.1" r="9.4"/>
<circle class="g" cx="191.3" cy="404.1" r="9.4"/>
<circle class="r" cx="396.5" cy="526.1" r="9.4"/>
<circle class="g" cx="230.6" cy="452.2" r="9.4"/>
<circle class="g" cx="188.5" cy="513.2" r="9.4"/>
<circle class="g" cx="223.4" cy="395.5" r="9.4"/>
<circle class="g" cx="214.8" cy="402.7" r="9.4"/>
<circle class="g" cx="256.2" cy="534.8" r="9.4"/>
<circle class="r" cx="442.2" cy="506.1" r="9.4"/>
<circle class="r" cx="445.5" cy="336.3" r="9.4"/>
<circle class="r" cx="421.2" cy="380.3" r="9.4"/>
<circle class="g" cx="240.7" cy="517.9" r="9.4"/>
<circle class="R" cx="474.3" cy="423.1" r="9.4"/>
<circle class="R" cx="491.8" cy="484.9" r="9.4"/>
<circle class="g" cx="207.5" cy="366.3" r="9.4"/>
<circle class="g" cx="197.2" cy="372.8" r="9.4"/>
<circle class="r" cx="395.0" cy="520.5" r="9.4"/>
<circle class="r" cx="441.1" cy="403.9" r="9.4"/>
<circle class="r" cx="447.8" cy="346.8" r="9.4"/>
<circle class="r" cx="448.9" cy="300.0" r="9.4"/>
<circle class="g" cx="212.7" cy="390.7" r="9.4"/>
<circle class="g" cx="181.7" cy="520.6" r="9.4"/>
<circle class="R" cx="499.1" cy="445.3" r="9.4"/>
<circle class="r" cx="470.8" cy="385.4" r="9.4"/>
<circle class="g" cx="223.6" cy="477.1" r="9.4"/>
<circle class="r" cx="468.0" cy="494.4" r="9.4"/>
<circle class="g" cx="248.5" cy="463.9" r="9.4"/>
<circle class="r" cx="380.3" cy="536.0" r="9.4"/>
<circle class="g" cx="206.7" cy="497.2" r="9.4"/>
<circle class="r" cx="387.1" cy="495.3" r="9.4"/>
<circle class="r" cx="447.5" cy="430.2" r="9.4"/>
<circle class="g" cx="207.3" cy="383.4" r="9.4"/>
<circle class="r" cx="450.7" cy="327.8" r="9.4"/>
<circle class="r" cx="400.3" cy="453.4" r="9.4"/>
<circle class="r" cx="447.6" cy="344.0" r="9.4"/>
<circle class="g" cx="207.1" cy="519.5" r="9.4"/>
<circle class="g" cx="215.3" cy="484.9" r="9.4"/>
<circle class="g" cx="193.1" cy="315.2" r="9.4"/>
<circle class="r" cx="418.0" cy="477.6" r="9.4"/>
<circle class="r" cx="438.0" cy="525.2" r="9.4"/>
<circle class="g" cx="217.2" cy="342.3" r="9.4"/>
<circle class="g" cx="199.0" cy="418.3" r="9.4"/>
<circle class="R" cx="483.6" cy="447.9" r="9.4"/>
<circle class="g" cx="210.1" cy="363.4" r="9.4"/>
<circle class="g" cx="239.3" cy="473.5" r="9.4"/>
<circle class="r" cx="470.0" cy="330.0" r="9.4"/>
<circle class="g" cx="220.8" cy="441.8" r="9.4"/>
<circle class="g" cx="190.8" cy="443.5" r="9.4"/>
<circle class="r" cx="402.6" cy="530.6" r="9.4"/>
<circle class="r" cx="391.3" cy="523.9" r="9.4"/>
<circle class="g" cx="210.1" cy="526.2" r="9.4"/>
<circle class="r" cx="416.7" cy="520.0" r="9.4"/>
<circle class="g" cx="199.0" cy="381.2" r="9.4"/>
<circle class="g" cx="199.5" cy="307.3" r="9.4"/>
<circle class="g" cx="223.5" cy="447.4" r="9.4"/>
<circle class="g" cx="256.3" cy="501.6" r="9.4"/>
<circle class="g" cx="202.7" cy="306.1" r="9.4"/>
<circle class="g" cx="185.0" cy="528.9" r="9.4"/>
<circle class="r" cx="388.5" cy="493.1" r="9.4"/>
<circle class="r" cx="438.2" cy="369.5" r="9.4"/>
<circle class="g" cx="233.2" cy="405.9" r="9.4"/>
<circle class="g" cx="191.5" cy="282.7" r="9.4"/>
<circle class="r" cx="430.7" cy="370.9" r="9.4"/>
<circle class="r" cx="461.8" cy="305.3" r="9.4"/>
<circle class="r" cx="403.6" cy="532.6" r="9.4"/>
<circle class="g" cx="240.0" cy="519.4" r="9.4"/>
<circle class="r" cx="410.2" cy="410.1" r="9.4"/>
<circle class="g" cx="187.8" cy="493.1" r="9.4"/>
<circle class="r" cx="425.6" cy="534.3" r="9.4"/>
<circle class="r" cx="451.6" cy="352.2" r="9.4"/>
<circle class="r" cx="387.7" cy="499.4" r="9.4"/>
<circle class="g" cx="180.9" cy="519.3" r="9.4"/>
<circle class="g" cx="202.8" cy="470.8" r="9.4"/>
<circle class="r" cx="451.8" cy="420.4" r="9.4"/>
<circle class="r" cx="469.4" cy="495.6" r="9.4"/>
<circle class="r" cx="443.4" cy="456.0" r="9.4"/>
<circle class="g" cx="208.6" cy="500.4" r="9.4"/>
<circle class="g" cx="170.9" cy="390.6" r="9.4"/>
<circle class="g" cx="219.6" cy="405.4" r="9.4"/>
<circle class="r" cx="462.8" cy="478.5" r="9.4"/>
<circle class="r" cx="443.1" cy="325.1" r="9.4"/>
<circle class="r" cx="455.0" cy="525.0" r="9.4"/>
<circle class="g" cx="263.1" cy="537.0" r="9.4"/>
<circle class="g" cx="207.8" cy="326.6" r="9.4"/>
<circle class="r" cx="454.7" cy="495.7" r="9.4"/>
<circle class="R" cx="506.4" cy="420.3" r="9.4"/>
<circle class="r" cx="381.7" cy="511.9" r="9.4"/>
<circle class="g" cx="202.3" cy="335.6" r="9.4"/>
<circle class="r" cx="386.4" cy="535.4" r="9.4"/>
<circle class="G" cx="162.9" cy="395.6" r="9.4"/>
<circle class="g" cx="213.1" cy="449.6" r="9.4"/>
<circle class="r" cx="432.5" cy="429.0" r="9.4"/>
<circle class="g" cx="219.3" cy="480.2" r="9.4"/>
<circle class="G" cx="159.0" cy="443.8" r="9.4"/>
<circle class="r" cx="452.6" cy="497.5" r="9.4"/>
<circle class="g" cx="178.3" cy="496.8" r="9.4"/>
<circle class="g" cx="207.9" cy="486.9" r="9.4"/>
<circle class="r" cx="414.9" cy="438.9" r="9.4"/>
<circle class="g" cx="218.1" cy="432.0" r="9.4"/>
<circle class="g" cx="202.4" cy="365.6" r="9.4"/>
<circle class="g" cx="183.0" cy="499.6" r="9.4"/>
<circle class="r" cx="404.9" cy="508.2" r="9.4"/>
<circle class="g" cx="259.2" cy="526.3" r="9.4"/>
<circle class="g" cx="208.6" cy="329.9" r="9.4"/>
<circle class="r" cx="419.6" cy="363.4" r="9.4"/>
<circle class="r" cx="413.4" cy="426.0" r="9.4"/>
<circle class="r" cx="443.7" cy="396.6" r="9.4"/>
<circle class="r" cx="427.8" cy="364.8" r="9.4"/>
<circle class="g" cx="214.7" cy="360.2" r="9.4"/>
<circle class="r" cx="430.3" cy="218.9" r="9.4"/>
<circle class="r" cx="469.2" cy="397.4" r="9.4"/>
<circle class="r" cx="406.9" cy="434.6" r="9.4"/>
<circle class="g" cx="197.1" cy="462.2" r="9.4"/>
<circle class="g" cx="208.9" cy="381.9" r="9.4"/>
<circle class="r" cx="432.3" cy="336.0" r="9.4"/>
<circle class="g" cx="225.8" cy="388.7" r="9.4"/>
<circle class="g" cx="228.7" cy="451.4" r="9.4"/>
<circle class="r" cx="421.8" cy="529.8" r="9.4"/>
<circle class="r" cx="446.1" cy="324.1" r="9.4"/>
<circle class="g" cx="236.8" cy="485.6" r="9.4"/>
<circle class="g" cx="181.1" cy="529.6" r="9.4"/>
<circle class="r" cx="432.3" cy="507.1" r="9.4"/>
<circle class="g" cx="193.8" cy="405.7" r="9.4"/>
<circle class="r" cx="435.0" cy="440.1" r="9.4"/>
<circle class="g" cx="222.8" cy="400.9" r="9.4"/>
<circle class="r" cx="452.3" cy="526.9" r="9.4"/>
<circle class="r" cx="473.4" cy="515.9" r="9.4"/>
<circle class="r" cx="452.0" cy="305.0" r="9.4"/>
<circle class="g" cx="197.3" cy="336.0" r="9.4"/>
<circle class="g" cx="207.3" cy="473.9" r="9.4"/>
<circle class="r" cx="444.2" cy="444.3" r="9.4"/>
<circle class="g" cx="248.8" cy="485.8" r="9.4"/>
<circle class="r" cx="414.9" cy="451.9" r="9.4"/>
<circle class="g" cx="241.2" cy="511.2" r="9.4"/>
<circle class="g" cx="207.2" cy="524.3" r="9.4"/>
<circle class="r" cx="419.5" cy="457.6" r="9.4"/>
<circle class="g" cx="192.5" cy="336.7" r="9.4"/>
<circle class="r" cx="439.5" cy="363.1" r="9.4"/>
<circle class="r" cx="430.1" cy="337.3" r="9.4"/>
<circle class="r" cx="425.9" cy="444.8" r="9.4"/>
<circle class="r" cx="462.3" cy="511.4" r="9.4"/>
<circle class="r" cx="410.4" cy="438.0" r="9.4"/>
<circle class="r" cx="455.3" cy="185.9" r="9.4"/>
<circle class="g" cx="209.8" cy="382.9" r="9.4"/>
<circle class="g" cx="221.2" cy="360.1" r="9.4"/>
<circle class="r" cx="433.7" cy="334.2" r="9.4"/>
<circle class="r" cx="435.3" cy="344.6" r="9.4"/>
<circle class="r" cx="450.6" cy="524.0" r="9.4"/>
<circle class="g" cx="196.2" cy="353.3" r="9.4"/>
<circle class="g" cx="241.9" cy="463.1" r="9.4"/>
<circle class="r" cx="394.5" cy="464.8" r="9.4"/>
<circle class="r" cx="427.3" cy="377.4" r="9.4"/>
<circle class="r" cx="402.2" cy="473.4" r="9.4"/>
<circle class="g" cx="227.8" cy="506.1" r="9.4"/>
<circle class="r" cx="412.2" cy="409.9" r="9.4"/>
<circle class="r" cx="417.6" cy="391.0" r="9.4"/>
<circle class="R" cx="475.1" cy="240.1" r="9.4"/>
<circle class="g" cx="187.4" cy="510.4" r="9.4"/>
<circle class="g" cx="243.6" cy="466.9" r="9.4"/>
<circle class="r" cx="411.5" cy="526.5" r="9.4"/>
<circle class="r" cx="440.3" cy="400.0" r="9.4"/>
<circle class="R" cx="479.0" cy="515.0" r="9.4"/>
<circle class="r" cx="447.3" cy="399.9" r="9.4"/>
<circle class="r" cx="442.6" cy="395.5" r="9.4"/>
<circle class="g" cx="175.1" cy="400.9" r="9.4"/>
<circle class="r" cx="437.6" cy="277.6" r="9.4"/>
<circle class="g" cx="210.7" cy="527.6" r="9.4"/>
<circle class="r" cx="433.7" cy="337.6" r="9.4"/>
<circle class="g" cx="188.2" cy="421.7" r="9.4"/>
<circle class="g" cx="223.4" cy="386.1" r="9.4"/>
<circle class="r" cx="442.2" cy="417.2" r="9.4"/>
<circle class="r" cx="429.4" cy="340.4" r="9.4"/>
<circle class="g" cx="230.8" cy="414.7" r="9.4"/>
<circle class="g" cx="208.8" cy="515.7" r="9.4"/>
<circle class="r" cx="466.5" cy="400.9" r="9.4"/>
<circle class="R" cx="480.0" cy="500.0" r="9.4"/>
<circle class="g" cx="254.9" cy="532.2" r="9.4"/>
<circle class="g" cx="243.7" cy="491.1" r="9.4"/>
<circle class="r" cx="410.6" cy="408.9" r="9.4"/>
<circle class="r" cx="470.2" cy="507.4" r="9.4"/>
<circle class="r" cx="463.0" cy="337.3" r="9.4"/>
<circle class="r" cx="405.0" cy="486.0" r="9.4"/>
<circle class="g" cx="200.6" cy="331.3" r="9.4"/>
<circle class="r" cx="440.3" cy="528.6" r="9.4"/>
<circle class="R" cx="478.9" cy="193.2" r="9.4"/>
<circle class="g" cx="248.0" cy="491.6" r="9.4"/>
<circle class="g" cx="199.9" cy="465.2" r="9.4"/>
<circle class="r" cx="450.3" cy="337.3" r="9.4"/>
<circle class="g" cx="226.7" cy="376.4" r="9.4"/>
<circle class="r" cx="396.9" cy="467.6" r="9.4"/>
<circle class="G" cx="137.3" cy="511.6" r="9.4"/>
<circle class="r" cx="451.5" cy="330.3" r="9.4"/>
<circle class="g" cx="210.2" cy="445.7" r="9.4"/>
<circle class="r" cx="446.3" cy="344.2" r="9.4"/>
<circle class="r" cx="426.9" cy="350.8" r="9.4"/>
<circle class="g" cx="215.1" cy="388.1" r="9.4"/>
<circle class="g" cx="192.4" cy="313.3" r="9.4"/>
<circle class="g" cx="194.4" cy="416.5" r="9.4"/>
<circle class="g" cx="219.2" cy="359.0" r="9.4"/>
<circle class="r" cx="437.1" cy="451.9" r="9.4"/>
<circle class="r" cx="447.2" cy="489.5" r="9.4"/>
<circle class="g" cx="199.4" cy="348.5" r="9.4"/>
<circle class="g" cx="218.0" cy="365.5" r="9.4"/>
<circle class="g" cx="228.9" cy="432.7" r="9.4"/>
<circle class="r" cx="456.7" cy="454.6" r="9.4"/>
<circle class="g" cx="198.4" cy="397.4" r="9.4"/>
<circle class="g" cx="235.3" cy="509.9" r="9.4"/>
<circle class="g" cx="238.5" cy="510.8" r="9.4"/>
<circle class="g" cx="243.6" cy="455.6" r="9.4"/>
<circle class="g" cx="213.4" cy="533.8" r="9.4"/>
<circle class="r" cx="442.6" cy="360.0" r="9.4"/>
<circle class="g" cx="194.7" cy="380.4" r="9.4"/>
<circle class="g" cx="218.4" cy="386.2" r="9.4"/>
<circle class="g" cx="225.7" cy="524.9" r="9.4"/>
<circle class="g" cx="258.1" cy="507.8" r="9.4"/>
<circle class="g" cx="187.8" cy="394.8" r="9.4"/>
<circle class="g" cx="221.9" cy="379.5" r="9.4"/>
<circle class="r" cx="439.1" cy="324.2" r="9.4"/>
<circle class="g" cx="210.6" cy="342.9" r="9.4"/>
<circle class="r" cx="428.0" cy="449.4" r="9.4"/>
<circle class="r" cx="446.3" cy="427.6" r="9.4"/>
<circle class="r" cx="398.5" cy="446.7" r="9.4"/>
<circle class="r" cx="422.3" cy="500.9" r="9.4"/>
<circle class="g" cx="208.6" cy="330.1" r="9.4"/>
<circle class="g" cx="207.8" cy="355.2" r="9.4"/>
<circle class="r" cx="433.2" cy="497.4" r="9.4"/>
<circle class="g" cx="231.3" cy="424.6" r="9.4"/>
<circle class="r" cx="415.7" cy="463.8" r="9.4"/>
<circle class="g" cx="207.1" cy="384.4" r="9.4"/>
<circle class="r" cx="446.8" cy="379.8" r="9.4"/>
<circle class="r" cx="458.4" cy="277.6" r="9.4"/>
<circle class="R" cx="496.0" cy="408.8" r="9.4"/>
<circle class="r" cx="429.5" cy="453.9" r="9.4"/>
<circle class="r" cx="449.9" cy="413.6" r="9.4"/>
<circle class="r" cx="461.2" cy="506.4" r="9.4"/>
<circle class="g" cx="208.6" cy="466.5" r="9.4"/>
<circle class="r" cx="418.4" cy="381.8" r="9.4"/>
<circle class="r" cx="417.7" cy="532.7" r="9.4"/>
<circle class="g" cx="244.6" cy="462.7" r="9.4"/>
<circle class="g" cx="209.2" cy="358.2" r="9.4"/>
<circle class="r" cx="437.5" cy="389.6" r="9.4"/>
<circle class="g" cx="217.3" cy="419.7" r="9.4"/>
<circle class="g" cx="213.3" cy="351.3" r="9.4"/>
<circle class="g" cx="211.8" cy="452.6" r="9.4"/>
<circle class="g" cx="210.2" cy="392.5" r="9.4"/>
<circle class="g" cx="221.5" cy="400.9" r="9.4"/>
<circle class="r" cx="394.5" cy="484.7" r="9.4"/>
<circle class="r" cx="461.8" cy="351.3" r="9.4"/>
<circle class="g" cx="221.3" cy="371.5" r="9.4"/>
<circle class="g" cx="171.0" cy="500.0" r="9.4"/>
<circle class="g" cx="194.9" cy="383.7" r="9.4"/>
<circle class="g" cx="190.9" cy="327.5" r="9.4"/>
<circle class="R" cx="478.4" cy="401.7" r="9.4"/>
<circle class="g" cx="256.1" cy="501.8" r="9.4"/>
<circle class="r" cx="465.7" cy="263.0" r="9.4"/>
<circle class="r" cx="445.9" cy="277.6" r="9.4"/>
<circle class="r" cx="431.7" cy="488.7" r="9.4"/>
<circle class="g" cx="221.2" cy="533.1" r="9.4"/>
<circle class="g" cx="222.5" cy="368.9" r="9.4"/>
<circle class="g" cx="203.1" cy="413.8" r="9.4"/>
<circle class="g" cx="238.7" cy="460.9" r="9.4"/>
<circle class="g" cx="223.2" cy="486.1" r="9.4"/>
<circle class="g" cx="221.7" cy="449.7" r="9.4"/>
<circle class="R" cx="483.4" cy="492.2" r="9.4"/>
<circle class="g" cx="236.5" cy="533.9" r="9.4"/>
<circle class="g" cx="216.8" cy="338.9" r="9.4"/>
<circle class="r" cx="434.7" cy="357.5" r="9.4"/>
<circle class="r" cx="442.6" cy="346.9" r="9.4"/>
<circle class="g" cx="212.4" cy="350.6" r="9.4"/>
<circle class="r" cx="430.4" cy="402.0" r="9.4"/>
<circle class="g" cx="201.3" cy="489.8" r="9.4"/>
<circle class="R" cx="478.0" cy="470.0" r="9.4"/>
<circle class="g" cx="177.9" cy="525.7" r="9.4"/>
<circle class="g" cx="214.9" cy="404.2" r="9.4"/>
<circle class="g" cx="247.7" cy="512.6" r="9.4"/>
<circle class="g" cx="172.9" cy="417.0" r="9.4"/>
<circle class="r" cx="445.9" cy="283.9" r="9.4"/>
<circle class="r" cx="401.1" cy="437.8" r="9.4"/>
<circle class="R" cx="482.4" cy="431.7" r="9.4"/>
<circle class="g" cx="246.3" cy="497.7" r="9.4"/>
<circle class="r" cx="419.2" cy="385.1" r="9.4"/>
<circle class="g" cx="202.7" cy="536.5" r="9.4"/>
<circle class="g" cx="209.1" cy="393.0" r="9.4"/>
<circle class="r" cx="448.9" cy="358.2" r="9.4"/>
<circle class="r" cx="447.9" cy="321.0" r="9.4"/>
<circle class="g" cx="193.4" cy="306.6" r="9.4"/>
<circle class="R" cx="483.4" cy="185.9" r="9.4"/>
<circle class="r" cx="410.7" cy="461.6" r="9.4"/>
<circle class="g" cx="201.1" cy="338.2" r="9.4"/>
<circle class="g" cx="205.3" cy="454.9" r="9.4"/>
<circle class="r" cx="395.6" cy="509.7" r="9.4"/>
<circle class="g" cx="206.0" cy="505.9" r="9.4"/>
<circle class="r" cx="439.4" cy="506.5" r="9.4"/>
<circle class="r" cx="409.6" cy="415.7" r="9.4"/>
<circle class="r" cx="449.3" cy="294.5" r="9.4"/>
<circle class="r" cx="439.9" cy="427.1" r="9.4"/>
<circle class="r" cx="432.6" cy="438.0" r="9.4"/>
<circle class="g" cx="204.0" cy="313.3" r="9.4"/>
<circle class="g" cx="202.0" cy="484.7" r="9.4"/>
<circle class="g" cx="234.4" cy="500.1" r="9.4"/>
<circle class="g" cx="251.0" cy="520.8" r="9.4"/>
<circle class="R" cx="509.5" cy="507.8" r="9.4"/>
<circle class="g" cx="201.5" cy="347.4" r="9.4"/>
<circle class="r" cx="408.2" cy="424.4" r="9.4"/>
<circle class="r" cx="426.9" cy="460.5" r="9.4"/>
<circle class="g" cx="204.9" cy="465.7" r="9.4"/>
<circle class="g" cx="212.8" cy="335.1" r="9.4"/>
<circle class="g" cx="246.8" cy="527.9" r="9.4"/>
<circle class="r" cx="447.3" cy="400.1" r="9.4"/>
<circle class="g" cx="214.9" cy="345.7" r="9.4"/>
<circle class="r" cx="378.7" cy="522.8" r="9.4"/>
<circle class="g" cx="217.8" cy="357.1" r="9.4"/>
<circle class="r" cx="450.6" cy="389.4" r="9.4"/>
<circle class="g" cx="234.4" cy="472.3" r="9.4"/>
<circle class="g" cx="189.8" cy="337.3" r="9.4"/>
<circle class="R" cx="486.5" cy="371.8" r="9.4"/>
<circle class="g" cx="247.1" cy="468.7" r="9.4"/>
<circle class="g" cx="211.3" cy="350.5" r="9.4"/>
<circle class="R" cx="485.4" cy="407.4" r="9.4"/>
<circle class="n" cx="390.6" cy="557.6" r="9.4"/>
<circle class="n" cx="268.1" cy="551.5" r="9.4"/>
<circle class="g" cx="170.9" cy="548.7" r="9.4"/>
<circle class="n" cx="225.1" cy="554.3" r="9.4"/>
<circle class="n" cx="189.1" cy="561.4" r="9.4"/>
<circle class="n" cx="253.5" cy="562.1" r="9.4"/>
<circle class="n" cx="371.5" cy="555.2" r="9.4"/>
<circle class="n" cx="423.0" cy="556.4" r="9.4"/>
<circle class="n" cx="446.0" cy="549.2" r="9.4"/>
<circle class="n" cx="255.9" cy="558.7" r="9.4"/>
<circle class="g" cx="258.5" cy="537.8" r="9.4"/>
<circle class="n" cx="250.2" cy="556.2" r="9.4"/>
<circle class="r" cx="457.7" cy="550.3" r="9.4"/>
<circle class="n" cx="399.0" cy="562.8" r="9.4"/>
<circle class="n" cx="401.4" cy="554.6" r="9.4"/>
<circle class="n" cx="204.8" cy="550.7" r="9.4"/>
<circle class="n" cx="469.9" cy="548.4" r="9.4"/>
<circle class="n" cx="269.1" cy="555.8" r="9.4"/>
<circle class="n" cx="186.7" cy="552.0" r="9.4"/>
<circle class="n" cx="367.6" cy="561.0" r="9.4"/>
<circle class="n" cx="255.0" cy="561.5" r="9.4"/>
<circle class="n" cx="450.7" cy="560.9" r="9.4"/>
<circle class="n" cx="200.9" cy="551.5" r="9.4"/>
<circle class="n" cx="466.9" cy="548.1" r="9.4"/>
<circle class="r" cx="440.2" cy="542.2" r="9.4"/>
<circle class="n" cx="446.3" cy="552.6" r="9.4"/>
<circle class="n" cx="245.4" cy="553.3" r="9.4"/>
<circle class="n" cx="411.8" cy="550.1" r="9.4"/>
<circle class="n" cx="175.6" cy="553.6" r="9.4"/>
<circle class="r" cx="471.1" cy="543.6" r="9.4"/>
<circle class="r" cx="461.6" cy="550.1" r="9.4"/>
<circle class="n" cx="448.7" cy="557.1" r="9.4"/>
<circle class="n" cx="424.7" cy="555.1" r="9.4"/>
<circle class="n" cx="416.9" cy="549.1" r="9.4"/>
<circle class="n" cx="385.1" cy="561.4" r="9.4"/>
<circle class="n" cx="409.2" cy="555.0" r="9.4"/>
<circle class="n" cx="409.4" cy="548.3" r="9.4"/>
<circle class="n" cx="366.6" cy="561.3" r="9.4"/>
<circle class="r" cx="432.0" cy="539.1" r="9.4"/>
<circle class="n" cx="196.2" cy="561.1" r="9.4"/>
<circle class="n" cx="371.9" cy="557.5" r="9.4"/>
<circle class="n" cx="458.1" cy="553.8" r="9.4"/>
<circle class="n" cx="253.9" cy="550.3" r="9.4"/>
<circle class="r" cx="451.2" cy="540.3" r="9.4"/>
<circle class="g" cx="177.2" cy="538.5" r="9.4"/>
<circle class="n" cx="376.1" cy="559.7" r="9.4"/>
<circle class="n" cx="395.9" cy="557.8" r="9.4"/>
<circle class="n" cx="402.2" cy="552.2" r="9.4"/>
<circle class="n" cx="376.1" cy="552.9" r="9.4"/>
<circle class="r" cx="423.0" cy="548.6" r="9.4"/>
<circle class="n" cx="449.3" cy="563.2" r="9.4"/>
<circle class="g" cx="216.3" cy="550.5" r="9.4"/>
<circle class="g" cx="187.0" cy="539.7" r="9.4"/>
<circle class="n" cx="406.2" cy="558.0" r="9.4"/>
<circle class="n" cx="242.3" cy="560.6" r="9.4"/>
<circle class="g" cx="200.0" cy="539.9" r="9.4"/>
<circle class="n" cx="272.3" cy="563.2" r="9.4"/>
<circle class="n" cx="183.1" cy="548.5" r="9.4"/>
<circle class="n" cx="463.5" cy="551.7" r="9.4"/>
<circle class="g" cx="247.6" cy="542.7" r="9.4"/>
<circle class="n" cx="396.0" cy="559.9" r="9.4"/>
<circle class="n" cx="198.5" cy="558.5" r="9.4"/>
<circle class="n" cx="271.7" cy="560.3" r="9.4"/>
<circle class="n" cx="443.3" cy="554.6" r="9.4"/>
<circle class="r" cx="463.8" cy="542.0" r="9.4"/>
<circle class="r" cx="432.1" cy="546.1" r="9.4"/>
<circle class="n" cx="262.4" cy="562.0" r="9.4"/>
<circle class="n" cx="201.5" cy="560.4" r="9.4"/>
<circle class="r" cx="373.0" cy="550.3" r="9.4"/>
<circle class="n" cx="371.5" cy="550.6" r="9.4"/>
<circle class="n" cx="272.0" cy="561.5" r="9.4"/>
<circle class="g" cx="195.8" cy="541.4" r="9.4"/>
<circle class="g" cx="178.0" cy="540.0" r="9.4"/>
<circle class="n" cx="236.2" cy="556.9" r="9.4"/>
<circle class="r" cx="373.3" cy="542.1" r="9.4"/>
<circle class="g" cx="172.1" cy="548.8" r="9.4"/>
<circle class="n" cx="177.6" cy="551.0" r="9.4"/>
<circle class="r" cx="442.0" cy="538.1" r="9.4"/>
<circle class="n" cx="203.0" cy="558.4" r="9.4"/>
<circle class="n" cx="389.0" cy="562.3" r="9.4"/>
<circle class="n" cx="217.2" cy="560.6" r="9.4"/>
<circle class="n" cx="406.2" cy="563.6" r="9.4"/>
<circle class="n" cx="396.6" cy="560.3" r="9.4"/>
<circle class="n" cx="402.2" cy="563.0" r="9.4"/>
<circle class="r" cx="373.5" cy="547.4" r="9.4"/>
<circle class="n" cx="391.9" cy="560.1" r="9.4"/>
<circle class="n" cx="407.5" cy="553.7" r="9.4"/>
<circle class="n" cx="259.9" cy="555.1" r="9.4"/>
<circle class="n" cx="271.5" cy="560.3" r="9.4"/>
<circle class="n" cx="240.4" cy="563.0" r="9.4"/>
<circle class="n" cx="210.4" cy="560.4" r="9.4"/>
<circle class="r" cx="377.0" cy="539.6" r="9.4"/>
<circle class="n" cx="184.4" cy="562.0" r="9.4"/>
<circle class="n" cx="271.6" cy="559.7" r="9.4"/>
<circle class="n" cx="467.0" cy="549.0" r="9.4"/>
<circle class="n" cx="454.0" cy="555.4" r="9.4"/>
<circle class="n" cx="391.7" cy="555.7" r="9.4"/>
<circle class="n" cx="409.1" cy="561.7" r="9.4"/>
<circle class="n" cx="370.8" cy="551.9" r="9.4"/>
<circle class="r" cx="386.9" cy="550.2" r="9.4"/>
<circle class="g" cx="171.1" cy="543.8" r="9.4"/>
<circle class="n" cx="267.3" cy="548.5" r="9.4"/>
<circle class="r" cx="418.8" cy="543.2" r="9.4"/>
<circle class="r" cx="384.9" cy="539.9" r="9.4"/>
<circle class="n" cx="189.5" cy="548.5" r="9.4"/>
<circle class="n" cx="416.9" cy="560.7" r="9.4"/>
<circle class="n" cx="247.5" cy="555.1" r="9.4"/>
<circle class="n" cx="259.1" cy="554.5" r="9.4"/>
<circle class="n" cx="240.0" cy="550.7" r="9.4"/>
<circle class="g" cx="264.9" cy="548.9" r="9.4"/>
<circle class="n" cx="224.5" cy="558.4" r="9.4"/>
<circle class="g" cx="204.3" cy="544.3" r="9.4"/>
<circle class="r" cx="375.3" cy="547.0" r="9.4"/>
<circle class="n" cx="207.0" cy="560.2" r="9.4"/>
<circle class="n" cx="219.4" cy="550.6" r="9.4"/>
<circle class="n" cx="366.7" cy="562.8" r="9.4"/>
<circle class="n" cx="269.8" cy="562.8" r="9.4"/>
<circle class="r" cx="423.1" cy="539.2" r="9.4"/>
<circle class="n" cx="190.5" cy="548.6" r="9.4"/>
<circle class="n" cx="236.8" cy="562.0" r="9.4"/>
<circle class="n" cx="270.7" cy="561.4" r="9.4"/>
<circle class="n" cx="465.2" cy="550.4" r="9.4"/>
<circle class="n" cx="230.4" cy="555.5" r="9.4"/>
<circle class="n" cx="196.7" cy="561.6" r="9.4"/>
<circle class="g" cx="239.1" cy="539.6" r="9.4"/>
<circle class="n" cx="218.9" cy="560.8" r="9.4"/>
<circle class="n" cx="219.1" cy="557.0" r="9.4"/>
<circle class="n" cx="367.7" cy="560.1" r="9.4"/>
<circle class="n" cx="232.3" cy="560.4" r="9.4"/>
<circle class="n" cx="420.2" cy="556.2" r="9.4"/>
<circle class="n" cx="452.0" cy="553.2" r="9.4"/>
<circle class="n" cx="455.4" cy="550.5" r="9.4"/>
<circle class="n" cx="210.8" cy="562.4" r="9.4"/>
<circle class="n" cx="371.6" cy="549.5" r="9.4"/>
<circle class="n" cx="390.4" cy="551.5" r="9.4"/>
<circle class="n" cx="217.9" cy="556.4" r="9.4"/>
<circle class="r" cx="469.3" cy="547.1" r="9.4"/>
<circle class="n" cx="259.9" cy="549.0" r="9.4"/>
<circle class="r" cx="421.5" cy="549.3" r="9.4"/>
<circle class="n" cx="423.7" cy="559.2" r="9.4"/>
<circle class="r" cx="379.8" cy="549.7" r="9.4"/>
<circle class="n" cx="258.3" cy="562.1" r="9.4"/>
<circle class="n" cx="384.3" cy="550.7" r="9.4"/>
<circle class="g" cx="186.3" cy="545.1" r="9.4"/>
<circle class="n" cx="371.1" cy="552.3" r="9.4"/>
<circle class="n" cx="267.5" cy="554.2" r="9.4"/>
<circle class="n" cx="385.3" cy="556.1" r="9.4"/>
<circle class="n" cx="429.1" cy="549.6" r="9.4"/>
<circle class="g" cx="184.9" cy="541.6" r="9.4"/>
<circle class="n" cx="387.7" cy="550.4" r="9.4"/>
<circle class="n" cx="453.2" cy="548.6" r="9.4"/>
<circle class="n" cx="440.4" cy="563.5" r="9.4"/>
<circle class="n" cx="417.9" cy="557.7" r="9.4"/>
<circle class="r" cx="394.8" cy="547.9" r="9.4"/>
<circle class="n" cx="235.3" cy="554.9" r="9.4"/>
<circle class="n" cx="438.3" cy="563.4" r="9.4"/>
<circle class="n" cx="181.9" cy="554.8" r="9.4"/>
<circle class="n" cx="228.9" cy="560.5" r="9.4"/>
<circle class="n" cx="257.7" cy="554.3" r="9.4"/>
<circle class="n" cx="394.1" cy="560.2" r="9.4"/>
<circle class="r" cx="458.3" cy="549.8" r="9.4"/>
<circle class="g" cx="193.3" cy="545.3" r="9.4"/>
<circle class="n" cx="418.1" cy="557.3" r="9.4"/>
<circle class="n" cx="458.0" cy="552.6" r="9.4"/>
<circle class="n" cx="444.0" cy="554.2" r="9.4"/>
<circle class="r" cx="375.7" cy="542.5" r="9.4"/>
<circle class="n" cx="368.4" cy="557.5" r="9.4"/>
<circle class="n" cx="231.7" cy="559.5" r="9.4"/>
<circle class="n" cx="241.0" cy="557.0" r="9.4"/>
<circle class="n" cx="186.6" cy="549.5" r="9.4"/>
<circle class="G" cx="155.0" cy="545.5" r="9.4"/>
<circle class="n" cx="380.5" cy="554.9" r="9.4"/>
<circle class="g" cx="218.6" cy="547.3" r="9.4"/>
<circle class="n" cx="411.6" cy="559.9" r="9.4"/>
<circle class="g" cx="247.8" cy="550.2" r="9.4"/>
<circle class="n" cx="223.1" cy="553.3" r="9.4"/>
<circle class="n" cx="263.4" cy="557.7" r="9.4"/>
<circle class="n" cx="392.2" cy="563.7" r="9.4"/>
<circle class="n" cx="205.9" cy="555.3" r="9.4"/>
<circle class="n" cx="214.3" cy="562.9" r="9.4"/>
<circle class="n" cx="375.3" cy="549.3" r="9.4"/>
<circle class="n" cx="461.3" cy="554.9" r="9.4"/>
<circle class="n" cx="396.5" cy="553.4" r="9.4"/>
<circle class="n" cx="380.1" cy="563.3" r="9.4"/>
<circle class="n" cx="197.4" cy="549.9" r="9.4"/>
<circle class="r" cx="386.6" cy="538.7" r="9.4"/>
<circle class="n" cx="467.4" cy="553.4" r="9.4"/>
<circle class="n" cx="268.6" cy="554.4" r="9.4"/>
<circle class="n" cx="225.6" cy="560.0" r="9.4"/>
<circle class="r" cx="379.4" cy="539.3" r="9.4"/>
<circle class="r" cx="469.0" cy="544.6" r="9.4"/>
<circle class="n" cx="397.5" cy="549.5" r="9.4"/>
<circle class="g" cx="205.0" cy="545.3" r="9.4"/>
<circle class="n" cx="243.9" cy="557.7" r="9.4"/>
<circle class="n" cx="370.7" cy="552.6" r="9.4"/>
<circle class="n" cx="260.5" cy="556.8" r="9.4"/>
<circle class="g" cx="197.0" cy="542.0" r="9.4"/>
<circle class="R" cx="484.3" cy="548.8" r="9.4"/>
<circle class="n" cx="391.8" cy="549.2" r="9.4"/>
<circle class="n" cx="222.9" cy="556.0" r="9.4"/>
<circle class="n" cx="208.2" cy="551.0" r="9.4"/>
<circle class="n" cx="223.1" cy="558.9" r="9.4"/>
<circle class="n" cx="207.6" cy="554.7" r="9.4"/>
<circle class="n" cx="256.2" cy="557.9" r="9.4"/>
<circle class="n" cx="395.5" cy="551.7" r="9.4"/>
<circle class="n" cx="263.3" cy="553.3" r="9.4"/>
<circle class="n" cx="408.6" cy="557.1" r="9.4"/>
<circle class="n" cx="450.1" cy="562.6" r="9.4"/>
<circle class="n" cx="446.8" cy="559.6" r="9.4"/>
<circle class="n" cx="196.1" cy="551.9" r="9.4"/>
<circle class="g" cx="261.0" cy="544.0" r="9.4"/>
<circle class="n" cx="458.0" cy="560.0" r="9.4"/>
<circle class="n" cx="463.9" cy="559.5" r="9.4"/>
<circle class="n" cx="195.2" cy="555.6" r="9.4"/>
<circle class="g" cx="175.0" cy="544.7" r="9.4"/>
<circle class="n" cx="415.2" cy="563.4" r="9.4"/>
<circle class="n" cx="375.4" cy="553.0" r="9.4"/>
<circle class="n" cx="243.3" cy="551.1" r="9.4"/>
<circle class="g" cx="265.6" cy="550.4" r="9.4"/>
<circle class="r" cx="410.1" cy="543.1" r="9.4"/>
<circle class="n" cx="254.2" cy="563.4" r="9.4"/>
<circle class="n" cx="260.6" cy="563.5" r="9.4"/>
<circle class="n" cx="269.5" cy="554.1" r="9.4"/>
<circle class="n" cx="369.1" cy="556.3" r="9.4"/>
<circle class="n" cx="211.8" cy="562.6" r="9.4"/>
<circle class="r" cx="469.9" cy="548.3" r="9.4"/>
<circle class="g" cx="256.5" cy="540.2" r="9.4"/>
<circle class="n" cx="409.2" cy="552.1" r="9.4"/>
<circle class="n" cx="370.2" cy="553.1" r="9.4"/>
<circle class="n" cx="451.9" cy="558.3" r="9.4"/>
<circle class="n" cx="406.4" cy="549.6" r="9.4"/>
<circle class="n" cx="172.3" cy="555.7" r="9.4"/>
<circle class="r" cx="373.4" cy="550.3" r="9.4"/>
<circle class="n" cx="434.7" cy="554.3" r="9.4"/>
<circle class="r" cx="453.0" cy="549.4" r="9.4"/>
<circle class="n" cx="417.4" cy="561.6" r="9.4"/>
<circle class="n" cx="440.3" cy="559.0" r="9.4"/>
<circle class="n" cx="413.9" cy="551.6" r="9.4"/>
<circle class="n" cx="433.6" cy="561.0" r="9.4"/>
<circle class="g" cx="242.7" cy="546.4" r="9.4"/>
<circle class="n" cx="370.5" cy="551.8" r="9.4"/>
<circle class="n" cx="235.6" cy="563.6" r="9.4"/>
<circle class="g" cx="215.6" cy="539.0" r="9.4"/>
<circle class="n" cx="380.2" cy="555.2" r="9.4"/>
<circle class="n" cx="183.7" cy="559.5" r="9.4"/>
<circle class="n" cx="427.5" cy="551.3" r="9.4"/>
<circle class="n" cx="193.1" cy="554.7" r="9.4"/>
<circle class="n" cx="461.1" cy="554.7" r="9.4"/>
<circle class="n" cx="401.4" cy="556.5" r="9.4"/>
<circle class="n" cx="175.4" cy="555.9" r="9.4"/>
<circle class="n" cx="385.8" cy="553.1" r="9.4"/>
<circle class="n" cx="198.4" cy="552.1" r="9.4"/>
<circle class="n" cx="416.5" cy="557.6" r="9.4"/>
<circle class="n" cx="378.5" cy="552.0" r="9.4"/>
<circle class="n" cx="442.2" cy="558.5" r="9.4"/>
<circle class="n" cx="191.8" cy="548.9" r="9.4"/>
<circle class="r" cx="378.9" cy="547.9" r="9.4"/>
<circle class="n" cx="222.2" cy="549.8" r="9.4"/>
<circle class="n" cx="209.2" cy="548.4" r="9.4"/>
<circle class="n" cx="270.6" cy="558.3" r="9.4"/>
<circle class="n" cx="197.7" cy="561.9" r="9.4"/>
<circle class="r" cx="445.6" cy="543.8" r="9.4"/>
<circle class="n" cx="200.9" cy="556.4" r="9.4"/>
<circle class="n" cx="245.8" cy="551.1" r="9.4"/>
<circle class="n" cx="216.5" cy="558.4" r="9.4"/>
<circle class="n" cx="223.3" cy="550.0" r="9.4"/>
<circle class="n" cx="388.3" cy="556.8" r="9.4"/>
<circle class="n" cx="462.6" cy="560.8" r="9.4"/>
<circle class="r" cx="390.9" cy="546.3" r="9.4"/>
<circle class="n" cx="216.0" cy="550.2" r="9.4"/>
<circle class="n" cx="216.8" cy="556.3" r="9.4"/>
<circle class="n" cx="231.6" cy="560.9" r="9.4"/>
<circle class="r" cx="416.2" cy="546.9" r="9.4"/>
<circle class="r" cx="400.3" cy="549.0" r="9.4"/>
<circle class="n" cx="237.9" cy="557.1" r="9.4"/>
<circle class="n" cx="440.7" cy="561.3" r="9.4"/>
<circle class="n" cx="250.5" cy="554.4" r="9.4"/>
<circle class="n" cx="396.0" cy="556.5" r="9.4"/>
<circle class="n" cx="219.4" cy="554.2" r="9.4"/>
<circle class="r" cx="415.8" cy="542.1" r="9.4"/>
<circle class="n" cx="367.9" cy="557.0" r="9.4"/>
<circle class="n" cx="371.5" cy="549.5" r="9.4"/>
<circle class="n" cx="378.8" cy="552.4" r="9.4"/>
<circle class="n" cx="269.1" cy="557.7" r="9.4"/>
<circle class="g" cx="183.5" cy="550.1" r="9.4"/>
<circle class="n" cx="222.1" cy="548.9" r="9.4"/>
<circle class="n" cx="435.2" cy="561.1" r="9.4"/>
<circle class="n" cx="469.6" cy="552.7" r="9.4"/>
<circle class="r" cx="424.5" cy="538.2" r="9.4"/>
<circle class="n" cx="404.4" cy="555.6" r="9.4"/>
<circle class="n" cx="233.8" cy="561.6" r="9.4"/>
<circle class="n" cx="264.6" cy="549.2" r="9.4"/>
<circle class="n" cx="265.5" cy="561.9" r="9.4"/>
<circle class="n" cx="196.3" cy="552.5" r="9.4"/>
<circle class="n" cx="443.4" cy="552.7" r="9.4"/>
<circle class="n" cx="193.0" cy="558.3" r="9.4"/>
<circle class="r" cx="425.2" cy="545.5" r="9.4"/>
<circle class="g" cx="263.2" cy="542.4" r="9.4"/>
<circle class="g" cx="200.6" cy="547.4" r="9.4"/>
<circle class="r" cx="451.1" cy="546.3" r="9.4"/>
<circle class="g" cx="235.2" cy="546.1" r="9.4"/>
<circle class="n" cx="232.2" cy="562.1" r="9.4"/>
<circle class="n" cx="371.1" cy="548.8" r="9.4"/>
<circle class="n" cx="445.4" cy="563.4" r="9.4"/>
<circle class="n" cx="271.5" cy="561.0" r="9.4"/>
<circle class="n" cx="240.2" cy="556.0" r="9.4"/>
<circle class="g" cx="249.7" cy="546.6" r="9.4"/>
<circle class="r" cx="421.9" cy="542.0" r="9.4"/>
<circle class="n" cx="174.2" cy="549.1" r="9.4"/>
<circle class="n" cx="178.5" cy="549.5" r="9.4"/>
<circle class="r" cx="387.7" cy="549.4" r="9.4"/>
<circle class="r" cx="416.9" cy="548.9" r="9.4"/>
<circle class="n" cx="430.4" cy="558.8" r="9.4"/>
<circle class="n" cx="370.4" cy="550.9" r="9.4"/>
</g>
<path class="ax" stroke-width="1.8" d="M77.3 59.0V691.6H580.5"/>
<path class="ax" stroke-width="1.5" d="M63.8 663.4H77.3"/>
<text class="tk" x="59.4" y="669.1" text-anchor="end">0</text>
<path class="ax" stroke-width="1.5" d="M63.8 490.0H77.3"/>
<text class="tk" x="59.4" y="495.7" text-anchor="end">2</text>
<path class="ax" stroke-width="1.5" d="M63.8 316.6H77.3"/>
<text class="tk" x="59.4" y="322.3" text-anchor="end">4</text>
<path class="ax" stroke-width="1.5" d="M63.8 143.2H77.3"/>
<text class="tk" x="59.4" y="148.9" text-anchor="end">6</text>
<path class="ax" stroke-width="2" d="M165.2 691.6V705.6"/>
<text class="tk" x="165.2" y="721.8" text-anchor="middle">-2</text>
<path class="ax" stroke-width="2" d="M319.4 691.6V705.6"/>
<text class="tk" x="319.4" y="721.8" text-anchor="middle">0</text>
<path class="ax" stroke-width="2" d="M473.6 691.6V705.6"/>
<text class="tk" x="473.6" y="721.8" text-anchor="middle">2</text>
<path class="ax" stroke-width="3.2" d="M77.3 550.6H580.5"/>
<path class="ax" stroke-width="3.4" d="M319.4 59.0V705.9"/>
<path class="ax" stroke-width="3.6" stroke-dasharray="24 11.1" d="M165.2 551.6V59.0"/>
<path class="ax" stroke-width="3.6" stroke-dasharray="24 11.1" d="M473.6 551.6V59.0"/>
<text class="b" x="324.2" y="746.2" font-size="26.1" text-anchor="middle">log2FC</text>
<text class="b" transform="translate(28.7 382) rotate(-90)" font-size="25.8" text-anchor="middle">-log10(padj)</text>
<circle class="g" cx="747.3" cy="529.8" r="11.8"/>
<text class="b" x="773.6" y="535.6" font-size="22.8">-2 &lt; FC &lt; 0</text>
<circle class="r" cx="747.3" cy="565.4" r="11.8"/>
<text class="b" x="773.6" y="573.8" font-size="22.8">0 &gt; FC &gt; 2</text>
<circle class="G" cx="747.3" cy="601.6" r="11.8"/>
<text class="b" x="773.6" y="611.9" font-size="22.8">FC &lt; -2</text>
<circle class="R" cx="747.3" cy="636.9" r="11.8"/>
<text class="b" x="773.6" y="645.2" font-size="22.8">FC &gt;&#160; 2</text>
<circle class="n" cx="747.3" cy="672.5" r="11.8"/>
<text class="b" x="773.6" y="679.0" font-size="22.8">Not DEGs</text>
<clipPath id="cb"><rect x="1019.2" y="59.0" width="499.3" height="633.0"/></clipPath>
<g clip-path="url(#cb)">
<circle class="R" cx="1247.4" cy="652.4" r="9.4"/>
<circle class="R" cx="1294.3" cy="661.0" r="9.4"/>
<circle class="R" cx="1296.2" cy="624.7" r="9.4"/>
<circle class="G" cx="1073.7" cy="658.8" r="9.4"/>
<circle class="R" cx="1279.8" cy="577.2" r="9.4"/>
<circle class="R" cx="1248.5" cy="634.1" r="9.4"/>
<circle class="G" cx="1146.0" cy="645.0" r="9.4"/>
<circle class="R" cx="1285.6" cy="473.5" r="9.4"/>
<circle class="R" cx="1352.4" cy="656.3" r="9.4"/>
<circle class="R" cx="1416.4" cy="616.9" r="9.4"/>
<circle class="R" cx="1270.6" cy="661.1" r="9.4"/>
<circle class="R" cx="1278.5" cy="602.2" r="9.4"/>
<circle class="R" cx="1247.1" cy="625.7" r="9.4"/>
<circle class="R" cx="1245.9" cy="636.7" r="9.4"/>
<circle class="R" cx="1316.7" cy="660.1" r="9.4"/>
<circle class="R" cx="1289.1" cy="658.0" r="9.4"/>
<circle class="R" cx="1395.8" cy="651.2" r="9.4"/>
<circle class="R" cx="1431.2" cy="644.4" r="9.4"/>
<circle class="R" cx="1300.3" cy="362.2" r="9.4"/>
<circle class="G" cx="1137.3" cy="624.6" r="9.4"/>
<circle class="R" cx="1312.4" cy="660.0" r="9.4"/>
<circle class="R" cx="1248.4" cy="631.2" r="9.4"/>
<circle class="R" cx="1279.6" cy="660.3" r="9.4"/>
<circle class="R" cx="1315.9" cy="658.7" r="9.4"/>
<circle class="R" cx="1359.0" cy="653.1" r="9.4"/>
<circle class="R" cx="1252.8" cy="614.6" r="9.4"/>
<circle class="R" cx="1285.4" cy="592.5" r="9.4"/>
<circle class="R" cx="1372.0" cy="88.2" r="9.4"/>
<circle class="R" cx="1267.3" cy="569.2" r="9.4"/>
<circle class="R" cx="1307.5" cy="659.8" r="9.4"/>
<circle class="R" cx="1262.0" cy="621.8" r="9.4"/>
<circle class="R" cx="1285.1" cy="619.1" r="9.4"/>
<circle class="G" cx="1122.0" cy="648.5" r="9.4"/>
<circle class="R" cx="1253.5" cy="655.6" r="9.4"/>
<circle class="R" cx="1259.0" cy="661.5" r="9.4"/>
<circle class="R" cx="1247.5" cy="614.3" r="9.4"/>
<circle class="R" cx="1250.9" cy="656.8" r="9.4"/>
<circle class="R" cx="1283.9" cy="542.7" r="9.4"/>
<circle class="R" cx="1436.3" cy="646.6" r="9.4"/>
<circle class="R" cx="1423.9" cy="646.3" r="9.4"/>
<circle class="R" cx="1324.7" cy="371.5" r="9.4"/>
<circle class="R" cx="1249.7" cy="602.2" r="9.4"/>
<circle class="R" cx="1254.4" cy="606.2" r="9.4"/>
<circle class="R" cx="1248.7" cy="661.5" r="9.4"/>
<circle class="R" cx="1262.2" cy="659.3" r="9.4"/>
<circle class="R" cx="1371.2" cy="652.2" r="9.4"/>
<circle class="R" cx="1257.5" cy="587.7" r="9.4"/>
<circle class="R" cx="1261.2" cy="620.7" r="9.4"/>
<circle class="R" cx="1273.4" cy="661.6" r="9.4"/>
<circle class="R" cx="1295.6" cy="525.1" r="9.4"/>
<circle class="R" cx="1256.2" cy="597.8" r="9.4"/>
<circle class="R" cx="1391.6" cy="651.5" r="9.4"/>
<circle class="R" cx="1373.2" cy="654.8" r="9.4"/>
<circle class="R" cx="1323.9" cy="645.5" r="9.4"/>
<circle class="R" cx="1296.7" cy="592.1" r="9.4"/>
<circle class="R" cx="1282.0" cy="536.0" r="9.4"/>
<circle class="R" cx="1266.0" cy="591.1" r="9.4"/>
<circle class="R" cx="1302.4" cy="540.7" r="9.4"/>
<circle class="R" cx="1272.3" cy="661.5" r="9.4"/>
<circle class="R" cx="1267.4" cy="653.3" r="9.4"/>
<circle class="R" cx="1280.6" cy="655.5" r="9.4"/>
<circle class="R" cx="1299.3" cy="659.0" r="9.4"/>
<circle class="R" cx="1289.0" cy="596.2" r="9.4"/>
<circle class="R" cx="1275.2" cy="655.0" r="9.4"/>
<circle class="R" cx="1269.1" cy="660.8" r="9.4"/>
<circle class="R" cx="1410.2" cy="647.4" r="9.4"/>
<circle class="R" cx="1251.6" cy="638.0" r="9.4"/>
<circle class="R" cx="1296.6" cy="514.3" r="9.4"/>
<circle class="R" cx="1399.7" cy="649.8" r="9.4"/>
<circle class="R" cx="1322.1" cy="658.2" r="9.4"/>
<circle class="R" cx="1250.4" cy="645.1" r="9.4"/>
<circle class="R" cx="1247.4" cy="600.1" r="9.4"/>
<circle class="R" cx="1339.4" cy="658.3" r="9.4"/>
<circle class="R" cx="1337.5" cy="431.0" r="9.4"/>
<circle class="R" cx="1423.4" cy="645.3" r="9.4"/>
<circle class="R" cx="1280.8" cy="660.2" r="9.4"/>
<circle class="R" cx="1245.9" cy="633.6" r="9.4"/>
<circle class="R" cx="1256.9" cy="660.3" r="9.4"/>
<circle class="R" cx="1249.6" cy="645.8" r="9.4"/>
<circle class="R" cx="1255.5" cy="572.2" r="9.4"/>
<circle class="R" cx="1257.8" cy="660.8" r="9.4"/>
<circle class="R" cx="1283.2" cy="624.8" r="9.4"/>
<circle class="R" cx="1269.5" cy="655.3" r="9.4"/>
<circle class="R" cx="1290.7" cy="658.1" r="9.4"/>
<circle class="R" cx="1254.4" cy="609.9" r="9.4"/>
<circle class="R" cx="1473.0" cy="640.0" r="9.4"/>
<circle class="R" cx="1295.2" cy="609.9" r="9.4"/>
<circle class="R" cx="1388.4" cy="617.9" r="9.4"/>
<circle class="R" cx="1306.8" cy="609.9" r="9.4"/>
<circle class="R" cx="1411.1" cy="645.8" r="9.4"/>
<circle class="R" cx="1269.5" cy="656.9" r="9.4"/>
<circle class="R" cx="1341.4" cy="652.3" r="9.4"/>
<circle class="G" cx="1140.2" cy="604.1" r="9.4"/>
<circle class="R" cx="1368.4" cy="653.2" r="9.4"/>
<circle class="R" cx="1264.4" cy="610.9" r="9.4"/>
<circle class="R" cx="1277.0" cy="620.4" r="9.4"/>
<circle class="R" cx="1265.0" cy="597.1" r="9.4"/>
<circle class="R" cx="1256.4" cy="645.1" r="9.4"/>
<circle class="R" cx="1339.1" cy="656.6" r="9.4"/>
<circle class="R" cx="1290.7" cy="562.2" r="9.4"/>
<circle class="R" cx="1342.4" cy="621.8" r="9.4"/>
<circle class="R" cx="1259.8" cy="598.4" r="9.4"/>
<circle class="R" cx="1263.1" cy="579.1" r="9.4"/>
<circle class="G" cx="1132.0" cy="647.0" r="9.4"/>
<circle class="R" cx="1334.5" cy="656.8" r="9.4"/>
<circle class="G" cx="1117.7" cy="650.0" r="9.4"/>
<circle class="R" cx="1299.1" cy="645.9" r="9.4"/>
<circle class="R" cx="1367.5" cy="654.8" r="9.4"/>
<circle class="R" cx="1286.7" cy="605.3" r="9.4"/>
<circle class="R" cx="1415.7" cy="646.5" r="9.4"/>
<circle class="R" cx="1422.4" cy="644.8" r="9.4"/>
<circle class="R" cx="1360.1" cy="591.5" r="9.4"/>
<circle class="R" cx="1247.4" cy="658.8" r="9.4"/>
<circle class="R" cx="1484.2" cy="633.5" r="9.4"/>
<circle class="R" cx="1259.4" cy="600.2" r="9.4"/>
<circle class="R" cx="1368.7" cy="655.6" r="9.4"/>
<circle class="R" cx="1310.6" cy="632.7" r="9.4"/>
<circle class="R" cx="1261.3" cy="583.7" r="9.4"/>
<circle class="R" cx="1247.3" cy="658.5" r="9.4"/>
<circle class="R" cx="1321.7" cy="627.0" r="9.4"/>
<circle class="R" cx="1277.8" cy="590.6" r="9.4"/>
<circle class="R" cx="1255.1" cy="633.0" r="9.4"/>
<circle class="R" cx="1334.4" cy="658.4" r="9.4"/>
<circle class="R" cx="1344.4" cy="596.4" r="9.4"/>
<circle class="R" cx="1430.4" cy="627.7" r="9.4"/>
<circle class="R" cx="1389.4" cy="607.2" r="9.4"/>
<circle class="R" cx="1257.5" cy="641.8" r="9.4"/>
<circle class="R" cx="1394.7" cy="649.5" r="9.4"/>
<circle class="R" cx="1274.6" cy="661.5" r="9.4"/>
<circle class="R" cx="1249.7" cy="611.7" r="9.4"/>
<circle class="R" cx="1260.2" cy="636.9" r="9.4"/>
<circle class="R" cx="1313.1" cy="428.8" r="9.4"/>
<circle class="R" cx="1255.5" cy="650.3" r="9.4"/>
<circle class="R" cx="1279.2" cy="640.1" r="9.4"/>
<circle class="R" cx="1292.0" cy="556.0" r="9.4"/>
<circle class="R" cx="1280.2" cy="654.5" r="9.4"/>
<circle class="G" cx="1066.0" cy="660.5" r="9.4"/>
<circle class="R" cx="1315.3" cy="638.4" r="9.4"/>
<circle class="R" cx="1248.2" cy="657.4" r="9.4"/>
<circle class="R" cx="1285.7" cy="660.1" r="9.4"/>
<circle class="R" cx="1272.0" cy="636.4" r="9.4"/>
<circle class="R" cx="1247.9" cy="604.7" r="9.4"/>
<circle class="R" cx="1355.7" cy="656.9" r="9.4"/>
<circle class="R" cx="1292.5" cy="620.3" r="9.4"/>
<circle class="R" cx="1270.7" cy="617.3" r="9.4"/>
<circle class="R" cx="1245.7" cy="610.4" r="9.4"/>
<circle class="R" cx="1252.0" cy="639.9" r="9.4"/>
<circle class="R" cx="1254.9" cy="612.9" r="9.4"/>
<circle class="R" cx="1266.5" cy="585.4" r="9.4"/>
<circle class="R" cx="1300.7" cy="659.9" r="9.4"/>
<circle class="R" cx="1267.8" cy="661.0" r="9.4"/>
<circle class="R" cx="1278.0" cy="545.0" r="9.4"/>
<circle class="R" cx="1350.7" cy="607.2" r="9.4"/>
<circle class="R" cx="1259.5" cy="661.7" r="9.4"/>
<circle class="R" cx="1282.3" cy="586.8" r="9.4"/>
<circle class="R" cx="1394.5" cy="649.6" r="9.4"/>
<circle class="G" cx="1058.0" cy="660.0" r="9.4"/>
<circle class="R" cx="1262.4" cy="564.2" r="9.4"/>
<circle class="R" cx="1255.0" cy="637.0" r="9.4"/>
<circle class="R" cx="1261.0" cy="661.5" r="9.4"/>
<circle class="R" cx="1271.1" cy="622.6" r="9.4"/>
<circle class="R" cx="1257.7" cy="658.7" r="9.4"/>
<circle class="R" cx="1275.5" cy="661.3" r="9.4"/>
<circle class="R" cx="1277.8" cy="587.7" r="9.4"/>
<circle class="R" cx="1274.8" cy="660.5" r="9.4"/>
<circle class="R" cx="1404.4" cy="559.3" r="9.4"/>
<circle class="R" cx="1270.6" cy="659.3" r="9.4"/>
<circle class="R" cx="1280.1" cy="582.9" r="9.4"/>
<circle class="R" cx="1327.4" cy="547.5" r="9.4"/>
<circle class="R" cx="1288.5" cy="660.2" r="9.4"/>
<circle class="R" cx="1279.6" cy="597.2" r="9.4"/>
<circle class="G" cx="1053.2" cy="658.8" r="9.4"/>
<circle class="R" cx="1249.5" cy="598.5" r="9.4"/>
<circle class="R" cx="1432.2" cy="643.4" r="9.4"/>
<circle class="R" cx="1250.1" cy="595.0" r="9.4"/>
<circle class="R" cx="1309.8" cy="657.8" r="9.4"/>
<circle class="R" cx="1318.3" cy="641.7" r="9.4"/>
<circle class="R" cx="1339.6" cy="608.1" r="9.4"/>
<circle class="G" cx="1109.3" cy="632.4" r="9.4"/>
<circle class="R" cx="1252.3" cy="626.1" r="9.4"/>
<circle class="G" cx="1092.3" cy="655.9" r="9.4"/>
<circle class="R" cx="1446.6" cy="523.7" r="9.4"/>
<circle class="R" cx="1290.7" cy="575.9" r="9.4"/>
<circle class="R" cx="1426.4" cy="645.5" r="9.4"/>
<circle class="R" cx="1261.1" cy="622.1" r="9.4"/>
<circle class="R" cx="1301.6" cy="614.9" r="9.4"/>
<circle class="R" cx="1273.1" cy="504.6" r="9.4"/>
<circle class="R" cx="1467.6" cy="639.4" r="9.4"/>
<circle class="R" cx="1252.2" cy="584.2" r="9.4"/>
<circle class="R" cx="1267.2" cy="569.0" r="9.4"/>
<circle class="R" cx="1319.0" cy="522.1" r="9.4"/>
<circle class="R" cx="1247.9" cy="636.5" r="9.4"/>
<circle class="R" cx="1268.3" cy="637.6" r="9.4"/>
<circle class="R" cx="1276.0" cy="598.9" r="9.4"/>
<circle class="R" cx="1380.1" cy="653.3" r="9.4"/>
<circle class="R" cx="1268.7" cy="657.6" r="9.4"/>
<circle class="R" cx="1283.1" cy="622.4" r="9.4"/>
<circle class="R" cx="1275.6" cy="571.8" r="9.4"/>
<circle class="R" cx="1249.0" cy="642.4" r="9.4"/>
<circle class="R" cx="1278.9" cy="655.8" r="9.4"/>
<circle class="R" cx="1298.1" cy="648.4" r="9.4"/>
<circle class="R" cx="1253.7" cy="624.5" r="9.4"/>
<circle class="R" cx="1299.5" cy="501.6" r="9.4"/>
<circle class="R" cx="1256.4" cy="628.2" r="9.4"/>
<circle class="R" cx="1261.5" cy="594.0" r="9.4"/>
<circle class="R" cx="1273.8" cy="646.7" r="9.4"/>
<circle class="R" cx="1295.6" cy="546.6" r="9.4"/>
<circle class="R" cx="1292.6" cy="648.2" r="9.4"/>
<circle class="R" cx="1325.9" cy="570.0" r="9.4"/>
<circle class="R" cx="1254.6" cy="639.3" r="9.4"/>
<circle class="R" cx="1246.0" cy="626.7" r="9.4"/>
<circle class="R" cx="1267.8" cy="659.2" r="9.4"/>
<circle class="R" cx="1287.6" cy="634.1" r="9.4"/>
<circle class="R" cx="1321.6" cy="656.3" r="9.4"/>
<circle class="R" cx="1252.0" cy="586.6" r="9.4"/>
<circle class="R" cx="1260.8" cy="576.8" r="9.4"/>
<circle class="R" cx="1259.1" cy="626.5" r="9.4"/>
<circle class="R" cx="1262.7" cy="639.1" r="9.4"/>
<circle class="R" cx="1360.9" cy="656.1" r="9.4"/>
<circle class="R" cx="1308.7" cy="648.9" r="9.4"/>
<circle class="R" cx="1365.5" cy="358.2" r="9.4"/>
<circle class="R" cx="1266.1" cy="659.3" r="9.4"/>
<circle class="R" cx="1301.0" cy="625.8" r="9.4"/>
<circle class="R" cx="1321.1" cy="646.6" r="9.4"/>
<circle class="R" cx="1450.8" cy="460.2" r="9.4"/>
<circle class="R" cx="1329.0" cy="644.2" r="9.4"/>
<circle class="R" cx="1279.9" cy="442.4" r="9.4"/>
<circle class="R" cx="1286.2" cy="660.2" r="9.4"/>
<circle class="R" cx="1280.9" cy="534.8" r="9.4"/>
<circle class="R" cx="1353.0" cy="180.8" r="9.4"/>
<circle class="R" cx="1257.4" cy="654.5" r="9.4"/>
<circle class="G" cx="1126.5" cy="646.1" r="9.4"/>
<circle class="R" cx="1254.3" cy="661.5" r="9.4"/>
<circle class="R" cx="1307.9" cy="659.7" r="9.4"/>
<circle class="R" cx="1262.0" cy="598.6" r="9.4"/>
<circle class="R" cx="1250.8" cy="586.2" r="9.4"/>
<circle class="R" cx="1328.2" cy="626.2" r="9.4"/>
<circle class="R" cx="1270.2" cy="506.5" r="9.4"/>
<circle class="R" cx="1472.1" cy="612.0" r="9.4"/>
<circle class="R" cx="1430.4" cy="646.2" r="9.4"/>
<circle class="R" cx="1248.3" cy="611.2" r="9.4"/>
<circle class="R" cx="1266.9" cy="605.4" r="9.4"/>
<circle class="R" cx="1264.1" cy="639.8" r="9.4"/>
<circle class="R" cx="1257.8" cy="634.8" r="9.4"/>
<circle class="R" cx="1256.4" cy="615.5" r="9.4"/>
<circle class="R" cx="1249.5" cy="641.5" r="9.4"/>
<circle class="R" cx="1325.8" cy="631.6" r="9.4"/>
<circle class="R" cx="1252.6" cy="640.6" r="9.4"/>
<circle class="R" cx="1264.7" cy="640.6" r="9.4"/>
<circle class="R" cx="1281.1" cy="576.9" r="9.4"/>
<circle class="R" cx="1410.8" cy="647.3" r="9.4"/>
<circle class="R" cx="1389.4" cy="540.7" r="9.4"/>
<circle class="R" cx="1341.6" cy="658.7" r="9.4"/>
<circle class="R" cx="1294.9" cy="640.2" r="9.4"/>
<circle class="R" cx="1327.4" cy="632.7" r="9.4"/>
<circle class="R" cx="1252.1" cy="599.6" r="9.4"/>
<circle class="R" cx="1280.8" cy="625.9" r="9.4"/>
<circle class="R" cx="1276.8" cy="633.4" r="9.4"/>
<circle class="R" cx="1247.8" cy="639.6" r="9.4"/>
<circle class="R" cx="1263.3" cy="646.4" r="9.4"/>
<circle class="G" cx="1126.9" cy="541.6" r="9.4"/>
<circle class="R" cx="1263.5" cy="617.3" r="9.4"/>
<circle class="R" cx="1307.9" cy="658.5" r="9.4"/>
<circle class="R" cx="1365.8" cy="424.0" r="9.4"/>
<circle class="R" cx="1439.2" cy="320.5" r="9.4"/>
<circle class="R" cx="1305.4" cy="570.0" r="9.4"/>
<circle class="R" cx="1289.5" cy="660.4" r="9.4"/>
<circle class="R" cx="1253.6" cy="636.7" r="9.4"/>
<circle class="R" cx="1301.0" cy="609.3" r="9.4"/>
<circle class="R" cx="1337.3" cy="656.0" r="9.4"/>
<circle class="R" cx="1248.0" cy="660.8" r="9.4"/>
<circle class="R" cx="1421.0" cy="646.1" r="9.4"/>
<circle class="R" cx="1320.5" cy="617.8" r="9.4"/>
<circle class="R" cx="1299.5" cy="534.8" r="9.4"/>
<circle class="G" cx="1085.0" cy="657.5" r="9.4"/>
<circle class="R" cx="1279.3" cy="581.8" r="9.4"/>
<circle class="R" cx="1311.3" cy="624.5" r="9.4"/>
<circle class="R" cx="1422.5" cy="645.8" r="9.4"/>
<circle class="R" cx="1423.2" cy="644.8" r="9.4"/>
<circle class="R" cx="1350.8" cy="654.4" r="9.4"/>
<circle class="R" cx="1263.2" cy="598.4" r="9.4"/>
<circle class="R" cx="1277.7" cy="609.4" r="9.4"/>
<circle class="R" cx="1259.4" cy="579.0" r="9.4"/>
<circle class="R" cx="1251.0" cy="659.3" r="9.4"/>
<circle class="R" cx="1312.2" cy="658.5" r="9.4"/>
<circle class="R" cx="1250.4" cy="633.4" r="9.4"/>
<circle class="R" cx="1260.2" cy="593.2" r="9.4"/>
<circle class="R" cx="1293.2" cy="633.0" r="9.4"/>
<circle class="R" cx="1411.5" cy="607.2" r="9.4"/>
<circle class="R" cx="1374.9" cy="58.4" r="9.4"/>
<circle class="R" cx="1245.3" cy="630.4" r="9.4"/>
<circle class="R" cx="1289.8" cy="610.7" r="9.4"/>
<circle class="R" cx="1284.5" cy="608.9" r="9.4"/>
<circle class="G" cx="1133.0" cy="628.0" r="9.4"/>
<circle class="R" cx="1297.8" cy="660.4" r="9.4"/>
<circle class="R" cx="1319.4" cy="643.7" r="9.4"/>
<circle class="R" cx="1301.7" cy="659.3" r="9.4"/>
<circle class="G" cx="1127.5" cy="614.8" r="9.4"/>
<circle class="R" cx="1305.5" cy="658.3" r="9.4"/>
<circle class="R" cx="1249.4" cy="608.8" r="9.4"/>
<circle class="R" cx="1307.4" cy="659.2" r="9.4"/>
<circle class="R" cx="1259.3" cy="642.3" r="9.4"/>
<circle class="R" cx="1286.5" cy="433.0" r="9.4"/>
<circle class="R" cx="1411.8" cy="647.5" r="9.4"/>
<circle class="R" cx="1344.6" cy="657.6" r="9.4"/>
<circle class="R" cx="1264.0" cy="628.3" r="9.4"/>
<circle class="R" cx="1354.2" cy="431.6" r="9.4"/>
<circle class="R" cx="1247.0" cy="640.5" r="9.4"/>
<circle class="R" cx="1342.5" cy="657.9" r="9.4"/>
<circle class="R" cx="1286.0" cy="550.0" r="9.4"/>
<circle class="R" cx="1271.7" cy="640.3" r="9.4"/>
<circle class="R" cx="1275.1" cy="617.9" r="9.4"/>
<circle class="R" cx="1298.8" cy="636.0" r="9.4"/>
<circle class="R" cx="1250.5" cy="608.2" r="9.4"/>
<circle class="R" cx="1375.0" cy="654.5" r="9.4"/>
<circle class="R" cx="1257.4" cy="643.8" r="9.4"/>
<circle class="R" cx="1308.4" cy="659.8" r="9.4"/>
<circle class="R" cx="1259.3" cy="576.8" r="9.4"/>
<circle class="R" cx="1267.2" cy="529.0" r="9.4"/>
<circle class="R" cx="1311.8" cy="659.1" r="9.4"/>
<circle class="R" cx="1249.0" cy="631.7" r="9.4"/>
<circle class="R" cx="1372.8" cy="584.7" r="9.4"/>
<circle class="R" cx="1252.8" cy="620.5" r="9.4"/>
<circle class="R" cx="1254.9" cy="660.9" r="9.4"/>
<circle class="R" cx="1268.1" cy="603.4" r="9.4"/>
<circle class="R" cx="1284.3" cy="631.4" r="9.4"/>
<circle class="R" cx="1334.3" cy="628.9" r="9.4"/>
<circle class="R" cx="1384.3" cy="653.4" r="9.4"/>
<circle class="R" cx="1290.3" cy="593.1" r="9.4"/>
<circle class="R" cx="1267.7" cy="661.3" r="9.4"/>
<circle class="R" cx="1254.3" cy="644.9" r="9.4"/>
<circle class="R" cx="1348.0" cy="629.6" r="9.4"/>
<circle class="R" cx="1275.4" cy="585.4" r="9.4"/>
<circle class="R" cx="1341.7" cy="657.5" r="9.4"/>
<circle class="G" cx="1135.7" cy="583.6" r="9.4"/>
<circle class="R" cx="1285.2" cy="639.1" r="9.4"/>
<circle class="R" cx="1336.2" cy="658.2" r="9.4"/>
<circle class="R" cx="1268.9" cy="624.9" r="9.4"/>
<circle class="R" cx="1277.7" cy="614.5" r="9.4"/>
<circle class="R" cx="1286.1" cy="622.1" r="9.4"/>
<circle class="R" cx="1269.8" cy="596.1" r="9.4"/>
<circle class="R" cx="1292.7" cy="491.9" r="9.4"/>
<circle class="R" cx="1245.2" cy="620.4" r="9.4"/>
<circle class="R" cx="1290.4" cy="660.0" r="9.4"/>
<circle class="R" cx="1295.5" cy="467.9" r="9.4"/>
<circle class="R" cx="1295.5" cy="632.7" r="9.4"/>
<circle class="R" cx="1247.7" cy="621.6" r="9.4"/>
<circle class="R" cx="1256.1" cy="660.3" r="9.4"/>
<circle class="R" cx="1272.3" cy="660.1" r="9.4"/>
<circle class="R" cx="1388.8" cy="651.4" r="9.4"/>
<circle class="R" cx="1273.4" cy="658.8" r="9.4"/>
<circle class="R" cx="1273.5" cy="660.9" r="9.4"/>
<circle class="R" cx="1292.2" cy="660.6" r="9.4"/>
<circle class="R" cx="1306.9" cy="658.8" r="9.4"/>
<circle class="R" cx="1397.8" cy="651.2" r="9.4"/>
<circle class="R" cx="1266.8" cy="647.5" r="9.4"/>
<circle class="R" cx="1274.1" cy="604.8" r="9.4"/>
<circle class="R" cx="1310.6" cy="658.0" r="9.4"/>
<circle class="R" cx="1376.3" cy="654.5" r="9.4"/>
<circle class="R" cx="1372.5" cy="654.0" r="9.4"/>
<circle class="R" cx="1249.5" cy="660.5" r="9.4"/>
<circle class="R" cx="1259.9" cy="588.6" r="9.4"/>
<circle class="R" cx="1271.0" cy="624.5" r="9.4"/>
<circle class="R" cx="1277.6" cy="655.9" r="9.4"/>
<circle class="R" cx="1258.1" cy="645.2" r="9.4"/>
<circle class="G" cx="1100.0" cy="655.0" r="9.4"/>
<circle class="R" cx="1268.1" cy="623.8" r="9.4"/>
<circle class="R" cx="1313.7" cy="609.9" r="9.4"/>
<circle class="G" cx="1112.0" cy="652.0" r="9.4"/>
<circle class="R" cx="1279.0" cy="540.7" r="9.4"/>
<circle class="R" cx="1272.0" cy="531.0" r="9.4"/>
<circle class="R" cx="1248.8" cy="592.2" r="9.4"/>
<circle class="R" cx="1323.3" cy="628.8" r="9.4"/>
<circle class="G" cx="1143.0" cy="651.0" r="9.4"/>
<circle class="R" cx="1347.1" cy="655.8" r="9.4"/>
<circle class="R" cx="1269.1" cy="634.5" r="9.4"/>
<circle class="R" cx="1328.5" cy="613.4" r="9.4"/>
<circle class="R" cx="1265.9" cy="595.1" r="9.4"/>
<circle class="R" cx="1263.7" cy="621.2" r="9.4"/>
<circle class="R" cx="1345.0" cy="647.6" r="9.4"/>
<circle class="R" cx="1307.9" cy="658.9" r="9.4"/>
<circle class="R" cx="1292.9" cy="590.6" r="9.4"/>
<circle class="G" cx="1142.1" cy="636.3" r="9.4"/>
<circle class="G" cx="1106.6" cy="566.0" r="9.4"/>
<circle class="R" cx="1311.1" cy="276.6" r="9.4"/>
<circle class="R" cx="1314.8" cy="658.2" r="9.4"/>
<circle class="G" cx="1129.8" cy="595.3" r="9.4"/>
<circle class="R" cx="1250.6" cy="597.9" r="9.4"/>
<circle class="R" cx="1321.9" cy="659.7" r="9.4"/>
<circle class="R" cx="1318.3" cy="612.9" r="9.4"/>
<circle class="R" cx="1338.9" cy="658.5" r="9.4"/>
<circle class="R" cx="1260.9" cy="660.8" r="9.4"/>
<circle class="R" cx="1264.2" cy="589.1" r="9.4"/>
<circle class="R" cx="1264.8" cy="596.2" r="9.4"/>
<circle class="G" cx="1138.0" cy="649.0" r="9.4"/>
<circle class="R" cx="1377.3" cy="634.5" r="9.4"/>
<circle class="R" cx="1325.3" cy="658.9" r="9.4"/>
<circle class="R" cx="1327.5" cy="450.0" r="9.4"/>
<circle class="R" cx="1266.0" cy="614.0" r="9.4"/>
<circle class="R" cx="1311.5" cy="646.8" r="9.4"/>
<circle class="R" cx="1260.3" cy="564.8" r="9.4"/>
<circle class="R" cx="1283.1" cy="609.2" r="9.4"/>
<circle class="R" cx="1248.5" cy="649.4" r="9.4"/>
<circle class="R" cx="1282.4" cy="628.1" r="9.4"/>
<circle class="R" cx="1252.5" cy="594.8" r="9.4"/>
<circle class="R" cx="1287.4" cy="645.4" r="9.4"/>
<circle class="R" cx="1307.9" cy="630.0" r="9.4"/>
<circle class="G" cx="1062.0" cy="660.8" r="9.4"/>
<circle class="R" cx="1288.9" cy="660.9" r="9.4"/>
<circle class="R" cx="1332.4" cy="657.3" r="9.4"/>
<circle class="R" cx="1275.3" cy="659.0" r="9.4"/>
<circle class="R" cx="1280.8" cy="654.9" r="9.4"/>
<circle class="R" cx="1288.7" cy="487.0" r="9.4"/>
<circle class="R" cx="1246.2" cy="657.9" r="9.4"/>
<circle class="R" cx="1374.7" cy="654.8" r="9.4"/>
<circle class="R" cx="1279.5" cy="660.3" r="9.4"/>
<circle class="R" cx="1265.3" cy="626.9" r="9.4"/>
<circle class="R" cx="1304.7" cy="626.7" r="9.4"/>
<circle class="R" cx="1292.2" cy="641.3" r="9.4"/>
<circle class="R" cx="1273.3" cy="644.2" r="9.4"/>
<circle class="R" cx="1250.0" cy="593.1" r="9.4"/>
<circle class="R" cx="1344.1" cy="656.9" r="9.4"/>
<circle class="R" cx="1320.7" cy="659.1" r="9.4"/>
<circle class="R" cx="1293.5" cy="447.2" r="9.4"/>
<circle class="R" cx="1284.8" cy="657.6" r="9.4"/>
<circle class="R" cx="1341.8" cy="655.2" r="9.4"/>
<circle class="R" cx="1254.3" cy="575.2" r="9.4"/>
<circle class="R" cx="1319.0" cy="305.5" r="9.4"/>
<circle class="R" cx="1256.2" cy="597.3" r="9.4"/>
<circle class="R" cx="1371.2" cy="554.4" r="9.4"/>
<circle class="R" cx="1475.0" cy="637.4" r="9.4"/>
<circle class="G" cx="1139.0" cy="641.0" r="9.4"/>
<circle class="R" cx="1315.1" cy="581.7" r="9.4"/>
<circle class="R" cx="1294.3" cy="598.5" r="9.4"/>
<circle class="R" cx="1257.1" cy="631.1" r="9.4"/>
<circle class="R" cx="1345.8" cy="631.2" r="9.4"/>
<circle class="R" cx="1302.8" cy="657.6" r="9.4"/>
<circle class="R" cx="1267.6" cy="654.3" r="9.4"/>
<circle class="R" cx="1273.8" cy="647.3" r="9.4"/>
<circle class="R" cx="1340.3" cy="367.3" r="9.4"/>
<circle class="R" cx="1400.1" cy="613.0" r="9.4"/>
<circle class="R" cx="1322.9" cy="658.8" r="9.4"/>
<circle class="G" cx="1041.5" cy="656.9" r="9.4"/>
<circle class="R" cx="1271.3" cy="585.6" r="9.4"/>
<circle class="R" cx="1312.8" cy="639.6" r="9.4"/>
<circle class="G" cx="1130.4" cy="619.7" r="9.4"/>
<circle class="G" cx="1106.0" cy="653.9" r="9.4"/>
<circle class="R" cx="1344.1" cy="657.6" r="9.4"/>
<circle class="g" cx="1163.2" cy="639.2" r="9.4"/>
<circle class="g" cx="1163.5" cy="656.9" r="9.4"/>
<circle class="g" cx="1168.7" cy="643.2" r="9.4"/>
<circle class="r" cx="1219.8" cy="657.5" r="9.4"/>
<circle class="r" cx="1223.5" cy="654.7" r="9.4"/>
<circle class="r" cx="1243.7" cy="655.9" r="9.4"/>
<circle class="r" cx="1210.2" cy="661.3" r="9.4"/>
<circle class="r" cx="1234.8" cy="623.5" r="9.4"/>
<circle class="r" cx="1222.6" cy="659.4" r="9.4"/>
<circle class="r" cx="1231.5" cy="646.7" r="9.4"/>
<circle class="g" cx="1185.9" cy="661.8" r="9.4"/>
<circle class="r" cx="1206.7" cy="661.1" r="9.4"/>
<circle class="r" cx="1208.4" cy="660.9" r="9.4"/>
<circle class="g" cx="1165.8" cy="640.2" r="9.4"/>
<circle class="r" cx="1219.6" cy="650.4" r="9.4"/>
<circle class="r" cx="1211.5" cy="657.6" r="9.4"/>
<circle class="r" cx="1239.5" cy="611.9" r="9.4"/>
<circle class="r" cx="1214.3" cy="660.5" r="9.4"/>
<circle class="g" cx="1165.8" cy="636.6" r="9.4"/>
<circle class="r" cx="1238.0" cy="654.8" r="9.4"/>
<circle class="r" cx="1232.5" cy="654.6" r="9.4"/>
<circle class="r" cx="1214.3" cy="657.0" r="9.4"/>
<circle class="g" cx="1183.4" cy="661.3" r="9.4"/>
<circle class="r" cx="1226.8" cy="641.5" r="9.4"/>
<circle class="r" cx="1218.6" cy="652.9" r="9.4"/>
<circle class="r" cx="1214.3" cy="661.2" r="9.4"/>
<circle class="r" cx="1237.8" cy="650.1" r="9.4"/>
<circle class="r" cx="1236.0" cy="628.5" r="9.4"/>
<circle class="g" cx="1160.6" cy="660.3" r="9.4"/>
<circle class="r" cx="1232.9" cy="642.6" r="9.4"/>
<circle class="r" cx="1222.3" cy="657.1" r="9.4"/>
<circle class="r" cx="1220.4" cy="658.2" r="9.4"/>
<circle class="r" cx="1225.6" cy="645.2" r="9.4"/>
<circle class="r" cx="1232.8" cy="654.1" r="9.4"/>
<circle class="g" cx="1156.3" cy="651.1" r="9.4"/>
<circle class="r" cx="1235.2" cy="638.6" r="9.4"/>
<circle class="g" cx="1161.0" cy="627.8" r="9.4"/>
<circle class="r" cx="1219.5" cy="651.3" r="9.4"/>
<circle class="r" cx="1242.4" cy="610.3" r="9.4"/>
<circle class="r" cx="1226.3" cy="658.5" r="9.4"/>
<circle class="g" cx="1173.3" cy="649.9" r="9.4"/>
<circle class="g" cx="1179.0" cy="661.0" r="9.4"/>
<circle class="r" cx="1230.7" cy="655.8" r="9.4"/>
<circle class="r" cx="1231.8" cy="651.6" r="9.4"/>
<circle class="r" cx="1219.6" cy="660.9" r="9.4"/>
<circle class="r" cx="1216.0" cy="661.1" r="9.4"/>
<circle class="g" cx="1179.9" cy="657.8" r="9.4"/>
<circle class="r" cx="1236.3" cy="647.6" r="9.4"/>
<circle class="g" cx="1156.3" cy="624.2" r="9.4"/>
<circle class="g" cx="1181.8" cy="660.8" r="9.4"/>
<circle class="g" cx="1154.1" cy="642.7" r="9.4"/>
<circle class="r" cx="1237.7" cy="622.4" r="9.4"/>
<circle class="r" cx="1217.7" cy="658.2" r="9.4"/>
<circle class="r" cx="1207.1" cy="661.1" r="9.4"/>
<circle class="r" cx="1244.6" cy="613.4" r="9.4"/>
<circle class="r" cx="1216.4" cy="653.2" r="9.4"/>
<circle class="g" cx="1169.6" cy="645.3" r="9.4"/>
<circle class="g" cx="1159.3" cy="660.1" r="9.4"/>
<circle class="r" cx="1209.9" cy="660.2" r="9.4"/>
<circle class="r" cx="1236.3" cy="633.2" r="9.4"/>
<circle class="r" cx="1240.2" cy="615.3" r="9.4"/>
<circle class="r" cx="1236.8" cy="619.7" r="9.4"/>
<circle class="r" cx="1230.1" cy="638.7" r="9.4"/>
<circle class="g" cx="1163.2" cy="652.1" r="9.4"/>
<circle class="g" cx="1165.7" cy="659.5" r="9.4"/>
<circle class="r" cx="1240.6" cy="609.9" r="9.4"/>
<circle class="r" cx="1212.5" cy="660.2" r="9.4"/>
<circle class="g" cx="1150.4" cy="658.0" r="9.4"/>
<circle class="r" cx="1212.3" cy="658.4" r="9.4"/>
<circle class="r" cx="1221.2" cy="658.4" r="9.4"/>
<circle class="g" cx="1151.4" cy="643.5" r="9.4"/>
<circle class="r" cx="1213.9" cy="656.8" r="9.4"/>
<circle class="r" cx="1239.4" cy="613.9" r="9.4"/>
<circle class="g" cx="1181.4" cy="658.7" r="9.4"/>
<circle class="g" cx="1171.2" cy="647.5" r="9.4"/>
<circle class="g" cx="1176.1" cy="653.1" r="9.4"/>
<circle class="g" cx="1184.1" cy="661.3" r="9.4"/>
<circle class="r" cx="1215.6" cy="661.1" r="9.4"/>
<circle class="g" cx="1180.6" cy="659.3" r="9.4"/>
<circle class="r" cx="1226.5" cy="641.1" r="9.4"/>
<circle class="g" cx="1159.9" cy="653.1" r="9.4"/>
<circle class="r" cx="1225.0" cy="660.8" r="9.4"/>
<circle class="g" cx="1179.6" cy="661.0" r="9.4"/>
<circle class="r" cx="1209.8" cy="661.0" r="9.4"/>
<circle class="g" cx="1148.7" cy="648.0" r="9.4"/>
<circle class="r" cx="1206.1" cy="661.2" r="9.4"/>
<circle class="g" cx="1178.6" cy="658.8" r="9.4"/>
<circle class="r" cx="1244.4" cy="655.2" r="9.4"/>
<circle class="g" cx="1161.8" cy="649.5" r="9.4"/>
<circle class="g" cx="1170.0" cy="644.0" r="9.4"/>
<circle class="r" cx="1215.5" cy="660.7" r="9.4"/>
<circle class="r" cx="1215.3" cy="655.7" r="9.4"/>
<circle class="g" cx="1155.6" cy="618.2" r="9.4"/>
<circle class="r" cx="1229.0" cy="647.7" r="9.4"/>
<circle class="r" cx="1237.8" cy="617.5" r="9.4"/>
<circle class="r" cx="1243.2" cy="636.8" r="9.4"/>
<circle class="r" cx="1232.5" cy="657.0" r="9.4"/>
<circle class="r" cx="1210.8" cy="659.1" r="9.4"/>
<circle class="r" cx="1216.1" cy="658.7" r="9.4"/>
<circle class="g" cx="1168.9" cy="650.9" r="9.4"/>
<circle class="g" cx="1166.5" cy="651.3" r="9.4"/>
<circle class="r" cx="1241.1" cy="660.3" r="9.4"/>
<circle class="r" cx="1213.1" cy="658.7" r="9.4"/>
<circle class="g" cx="1152.0" cy="631.3" r="9.4"/>
<circle class="r" cx="1234.4" cy="652.2" r="9.4"/>
<circle class="r" cx="1206.3" cy="661.2" r="9.4"/>
<circle class="g" cx="1182.4" cy="660.2" r="9.4"/>
<circle class="r" cx="1231.6" cy="659.1" r="9.4"/>
<circle class="r" cx="1242.2" cy="605.9" r="9.4"/>
<circle class="g" cx="1170.3" cy="651.3" r="9.4"/>
<circle class="g" cx="1148.2" cy="633.0" r="9.4"/>
<circle class="g" cx="1164.6" cy="642.3" r="9.4"/>
<circle class="g" cx="1151.7" cy="622.9" r="9.4"/>
<circle class="r" cx="1224.7" cy="657.3" r="9.4"/>
<circle class="r" cx="1210.0" cy="658.7" r="9.4"/>
<circle class="r" cx="1214.5" cy="656.6" r="9.4"/>
<circle class="r" cx="1213.6" cy="656.2" r="9.4"/>
<circle class="r" cx="1211.8" cy="658.4" r="9.4"/>
<circle class="g" cx="1181.9" cy="659.8" r="9.4"/>
<circle class="r" cx="1229.7" cy="660.7" r="9.4"/>
<circle class="g" cx="1160.8" cy="631.0" r="9.4"/>
<circle class="r" cx="1223.6" cy="644.6" r="9.4"/>
<circle class="g" cx="1182.5" cy="660.8" r="9.4"/>
<circle class="g" cx="1171.7" cy="653.5" r="9.4"/>
<circle class="r" cx="1232.9" cy="638.8" r="9.4"/>
<circle class="g" cx="1158.1" cy="660.9" r="9.4"/>
<circle class="r" cx="1225.5" cy="652.5" r="9.4"/>
<circle class="r" cx="1234.7" cy="634.0" r="9.4"/>
<circle class="r" cx="1231.7" cy="629.2" r="9.4"/>
<circle class="r" cx="1210.0" cy="661.0" r="9.4"/>
<circle class="r" cx="1233.6" cy="655.1" r="9.4"/>
<circle class="r" cx="1240.1" cy="641.0" r="9.4"/>
<circle class="r" cx="1228.2" cy="658.5" r="9.4"/>
<circle class="g" cx="1170.1" cy="643.8" r="9.4"/>
<circle class="r" cx="1211.1" cy="659.3" r="9.4"/>
<circle class="r" cx="1215.1" cy="655.2" r="9.4"/>
<circle class="g" cx="1149.2" cy="634.7" r="9.4"/>
<circle class="g" cx="1155.3" cy="647.3" r="9.4"/>
<circle class="r" cx="1216.5" cy="658.8" r="9.4"/>
<circle class="r" cx="1236.4" cy="619.2" r="9.4"/>
<circle class="r" cx="1232.6" cy="635.0" r="9.4"/>
<circle class="r" cx="1232.8" cy="658.6" r="9.4"/>
<circle class="g" cx="1158.2" cy="622.5" r="9.4"/>
<circle class="g" cx="1184.8" cy="660.7" r="9.4"/>
<circle class="g" cx="1171.3" cy="654.0" r="9.4"/>
<circle class="g" cx="1157.7" cy="644.3" r="9.4"/>
<circle class="g" cx="1158.5" cy="649.0" r="9.4"/>
<circle class="r" cx="1220.3" cy="659.9" r="9.4"/>
<circle class="g" cx="1169.8" cy="657.2" r="9.4"/>
<circle class="r" cx="1221.0" cy="650.2" r="9.4"/>
<circle class="g" cx="1165.8" cy="650.3" r="9.4"/>
<circle class="g" cx="1154.4" cy="625.7" r="9.4"/>
<circle class="r" cx="1237.8" cy="626.5" r="9.4"/>
<circle class="r" cx="1242.8" cy="617.1" r="9.4"/>
<circle class="r" cx="1231.0" cy="658.3" r="9.4"/>
<circle class="r" cx="1228.4" cy="660.8" r="9.4"/>
<circle class="r" cx="1220.9" cy="647.7" r="9.4"/>
<circle class="g" cx="1157.4" cy="648.4" r="9.4"/>
<circle class="g" cx="1157.4" cy="648.2" r="9.4"/>
<circle class="g" cx="1181.6" cy="660.1" r="9.4"/>
<circle class="g" cx="1183.5" cy="659.2" r="9.4"/>
<circle class="g" cx="1167.2" cy="652.1" r="9.4"/>
<circle class="g" cx="1181.6" cy="659.6" r="9.4"/>
<circle class="g" cx="1154.3" cy="659.6" r="9.4"/>
<circle class="g" cx="1155.3" cy="621.9" r="9.4"/>
<circle class="g" cx="1184.3" cy="660.7" r="9.4"/>
<circle class="g" cx="1177.1" cy="653.3" r="9.4"/>
<circle class="g" cx="1173.8" cy="649.8" r="9.4"/>
<circle class="g" cx="1170.8" cy="653.5" r="9.4"/>
<circle class="r" cx="1208.5" cy="660.2" r="9.4"/>
<circle class="g" cx="1173.0" cy="651.2" r="9.4"/>
<circle class="g" cx="1179.4" cy="660.6" r="9.4"/>
<circle class="r" cx="1208.1" cy="660.5" r="9.4"/>
<circle class="r" cx="1229.2" cy="647.3" r="9.4"/>
<circle class="r" cx="1243.6" cy="613.5" r="9.4"/>
<circle class="r" cx="1223.0" cy="644.0" r="9.4"/>
<circle class="r" cx="1218.2" cy="654.7" r="9.4"/>
<circle class="r" cx="1223.6" cy="661.0" r="9.4"/>
<circle class="g" cx="1181.1" cy="657.7" r="9.4"/>
<circle class="g" cx="1160.0" cy="631.3" r="9.4"/>
<circle class="r" cx="1230.0" cy="639.9" r="9.4"/>
<circle class="r" cx="1212.0" cy="658.1" r="9.4"/>
<circle class="r" cx="1227.6" cy="659.9" r="9.4"/>
<circle class="r" cx="1227.4" cy="660.0" r="9.4"/>
<circle class="r" cx="1224.9" cy="643.4" r="9.4"/>
<circle class="g" cx="1157.3" cy="644.6" r="9.4"/>
<circle class="r" cx="1226.0" cy="648.2" r="9.4"/>
<circle class="g" cx="1174.4" cy="650.2" r="9.4"/>
<circle class="r" cx="1220.3" cy="648.8" r="9.4"/>
<circle class="r" cx="1241.2" cy="609.7" r="9.4"/>
<circle class="r" cx="1235.4" cy="659.5" r="9.4"/>
<circle class="r" cx="1214.7" cy="659.2" r="9.4"/>
<circle class="g" cx="1173.5" cy="652.8" r="9.4"/>
<circle class="r" cx="1239.4" cy="628.4" r="9.4"/>
<circle class="r" cx="1230.5" cy="644.7" r="9.4"/>
<circle class="r" cx="1212.4" cy="661.3" r="9.4"/>
<circle class="g" cx="1153.7" cy="638.4" r="9.4"/>
<circle class="r" cx="1221.9" cy="661.2" r="9.4"/>
<circle class="g" cx="1187.5" cy="663.0" r="9.4"/>
<circle class="r" cx="1221.1" cy="650.6" r="9.4"/>
<circle class="r" cx="1229.6" cy="635.1" r="9.4"/>
<circle class="g" cx="1157.8" cy="649.0" r="9.4"/>
<circle class="g" cx="1181.8" cy="661.0" r="9.4"/>
<circle class="r" cx="1232.8" cy="627.3" r="9.4"/>
<circle class="r" cx="1208.4" cy="660.8" r="9.4"/>
<circle class="g" cx="1178.2" cy="654.3" r="9.4"/>
<circle class="r" cx="1215.6" cy="661.0" r="9.4"/>
<circle class="g" cx="1176.8" cy="658.9" r="9.4"/>
<circle class="g" cx="1181.8" cy="660.3" r="9.4"/>
<circle class="r" cx="1241.0" cy="634.2" r="9.4"/>
<circle class="g" cx="1158.3" cy="632.2" r="9.4"/>
<circle class="r" cx="1211.5" cy="659.8" r="9.4"/>
<circle class="g" cx="1166.6" cy="639.2" r="9.4"/>
<circle class="r" cx="1244.6" cy="623.5" r="9.4"/>
<circle class="r" cx="1216.4" cy="658.9" r="9.4"/>
<circle class="r" cx="1220.3" cy="650.9" r="9.4"/>
<circle class="g" cx="1177.6" cy="660.5" r="9.4"/>
<circle class="r" cx="1226.2" cy="641.6" r="9.4"/>
<circle class="r" cx="1227.6" cy="642.3" r="9.4"/>
<circle class="r" cx="1214.1" cy="657.6" r="9.4"/>
<circle class="r" cx="1213.8" cy="657.3" r="9.4"/>
<circle class="g" cx="1165.2" cy="655.5" r="9.4"/>
<circle class="g" cx="1162.8" cy="648.8" r="9.4"/>
<circle class="g" cx="1154.2" cy="634.2" r="9.4"/>
<circle class="r" cx="1208.6" cy="661.1" r="9.4"/>
<circle class="g" cx="1149.5" cy="648.9" r="9.4"/>
<circle class="r" cx="1216.5" cy="652.6" r="9.4"/>
<circle class="r" cx="1242.3" cy="644.7" r="9.4"/>
<circle class="r" cx="1224.4" cy="642.0" r="9.4"/>
<circle class="r" cx="1212.7" cy="658.8" r="9.4"/>
<circle class="r" cx="1244.2" cy="614.9" r="9.4"/>
<circle class="g" cx="1175.3" cy="654.8" r="9.4"/>
<circle class="g" cx="1156.9" cy="619.7" r="9.4"/>
<circle class="r" cx="1226.6" cy="640.5" r="9.4"/>
<circle class="g" cx="1172.6" cy="648.3" r="9.4"/>
<circle class="r" cx="1219.4" cy="650.0" r="9.4"/>
<circle class="r" cx="1243.5" cy="602.0" r="9.4"/>
<circle class="r" cx="1244.6" cy="642.0" r="9.4"/>
<circle class="r" cx="1214.8" cy="659.4" r="9.4"/>
<circle class="g" cx="1162.8" cy="647.9" r="9.4"/>
<circle class="r" cx="1219.3" cy="657.8" r="9.4"/>
<circle class="r" cx="1223.0" cy="646.8" r="9.4"/>
<circle class="g" cx="1162.8" cy="648.1" r="9.4"/>
<circle class="r" cx="1209.2" cy="659.6" r="9.4"/>
<circle class="r" cx="1218.4" cy="654.0" r="9.4"/>
<circle class="g" cx="1154.0" cy="648.7" r="9.4"/>
<circle class="r" cx="1225.2" cy="647.3" r="9.4"/>
<circle class="r" cx="1206.8" cy="661.0" r="9.4"/>
<circle class="g" cx="1147.4" cy="660.4" r="9.4"/>
<circle class="r" cx="1216.7" cy="652.6" r="9.4"/>
<circle class="r" cx="1244.2" cy="641.5" r="9.4"/>
<circle class="g" cx="1151.2" cy="650.5" r="9.4"/>
<circle class="g" cx="1167.5" cy="641.2" r="9.4"/>
<circle class="r" cx="1241.7" cy="613.1" r="9.4"/>
<circle class="g" cx="1181.9" cy="659.5" r="9.4"/>
<circle class="r" cx="1243.0" cy="604.8" r="9.4"/>
<circle class="r" cx="1236.5" cy="657.1" r="9.4"/>
<circle class="r" cx="1211.8" cy="660.3" r="9.4"/>
<circle class="r" cx="1224.3" cy="648.4" r="9.4"/>
<circle class="g" cx="1160.8" cy="657.3" r="9.4"/>
<circle class="r" cx="1226.4" cy="644.0" r="9.4"/>
<circle class="r" cx="1220.1" cy="649.4" r="9.4"/>
<circle class="r" cx="1220.8" cy="648.8" r="9.4"/>
<circle class="r" cx="1216.5" cy="654.3" r="9.4"/>
<circle class="r" cx="1237.4" cy="659.1" r="9.4"/>
<circle class="r" cx="1226.4" cy="651.8" r="9.4"/>
<circle class="r" cx="1231.7" cy="649.9" r="9.4"/>
<circle class="g" cx="1174.4" cy="649.9" r="9.4"/>
<circle class="r" cx="1219.2" cy="659.2" r="9.4"/>
<circle class="r" cx="1244.0" cy="636.5" r="9.4"/>
<circle class="r" cx="1240.1" cy="634.3" r="9.4"/>
<circle class="g" cx="1160.9" cy="657.0" r="9.4"/>
<circle class="r" cx="1219.4" cy="653.3" r="9.4"/>
<circle class="r" cx="1234.2" cy="627.4" r="9.4"/>
<circle class="r" cx="1228.7" cy="641.9" r="9.4"/>
<circle class="r" cx="1244.9" cy="599.7" r="9.4"/>
<circle class="g" cx="1185.6" cy="660.9" r="9.4"/>
<circle class="r" cx="1206.5" cy="661.1" r="9.4"/>
<circle class="r" cx="1217.0" cy="655.3" r="9.4"/>
<circle class="g" cx="1162.9" cy="638.1" r="9.4"/>
<circle class="r" cx="1231.7" cy="641.4" r="9.4"/>
<circle class="r" cx="1226.8" cy="642.6" r="9.4"/>
<circle class="r" cx="1233.3" cy="639.4" r="9.4"/>
<circle class="g" cx="1159.8" cy="643.5" r="9.4"/>
<circle class="g" cx="1174.2" cy="657.1" r="9.4"/>
<circle class="g" cx="1170.9" cy="646.1" r="9.4"/>
<circle class="g" cx="1156.1" cy="656.5" r="9.4"/>
<circle class="g" cx="1159.2" cy="660.1" r="9.4"/>
<circle class="r" cx="1229.8" cy="634.2" r="9.4"/>
<circle class="r" cx="1218.7" cy="660.8" r="9.4"/>
<circle class="g" cx="1154.2" cy="618.0" r="9.4"/>
<circle class="r" cx="1235.0" cy="648.5" r="9.4"/>
<circle class="r" cx="1227.9" cy="655.7" r="9.4"/>
<circle class="r" cx="1207.7" cy="665.1" r="9.4"/>
<circle class="r" cx="1237.0" cy="618.1" r="9.4"/>
<circle class="g" cx="1165.6" cy="647.6" r="9.4"/>
<circle class="r" cx="1209.7" cy="662.9" r="9.4"/>
<circle class="g" cx="1154.1" cy="640.8" r="9.4"/>
<circle class="g" cx="1178.8" cy="656.1" r="9.4"/>
<circle class="g" cx="1169.0" cy="644.4" r="9.4"/>
<circle class="g" cx="1173.8" cy="655.2" r="9.4"/>
<circle class="g" cx="1169.8" cy="659.4" r="9.4"/>
<circle class="r" cx="1221.1" cy="654.5" r="9.4"/>
<circle class="g" cx="1164.4" cy="634.2" r="9.4"/>
<circle class="r" cx="1242.9" cy="605.3" r="9.4"/>
<circle class="g" cx="1148.2" cy="644.0" r="9.4"/>
<circle class="r" cx="1225.3" cy="656.4" r="9.4"/>
<circle class="g" cx="1180.3" cy="660.3" r="9.4"/>
<circle class="r" cx="1215.4" cy="658.3" r="9.4"/>
<circle class="r" cx="1226.6" cy="655.2" r="9.4"/>
<circle class="r" cx="1212.7" cy="660.2" r="9.4"/>
<circle class="r" cx="1231.9" cy="645.4" r="9.4"/>
<circle class="r" cx="1219.1" cy="660.9" r="9.4"/>
<circle class="r" cx="1214.0" cy="661.3" r="9.4"/>
<circle class="r" cx="1230.9" cy="656.0" r="9.4"/>
<circle class="r" cx="1211.4" cy="659.0" r="9.4"/>
<circle class="r" cx="1210.8" cy="660.0" r="9.4"/>
<circle class="g" cx="1182.2" cy="660.9" r="9.4"/>
<circle class="g" cx="1181.0" cy="660.5" r="9.4"/>
<circle class="r" cx="1233.3" cy="629.9" r="9.4"/>
<circle class="r" cx="1215.4" cy="656.6" r="9.4"/>
<circle class="g" cx="1149.7" cy="647.6" r="9.4"/>
<circle class="r" cx="1243.3" cy="604.2" r="9.4"/>
<circle class="r" cx="1230.8" cy="657.2" r="9.4"/>
<circle class="g" cx="1185.6" cy="661.3" r="9.4"/>
<circle class="r" cx="1230.2" cy="661.2" r="9.4"/>
<circle class="r" cx="1228.9" cy="643.9" r="9.4"/>
<circle class="r" cx="1210.0" cy="660.8" r="9.4"/>
<circle class="r" cx="1219.5" cy="649.2" r="9.4"/>
<circle class="g" cx="1178.3" cy="660.6" r="9.4"/>
<circle class="g" cx="1162.9" cy="649.5" r="9.4"/>
<circle class="r" cx="1218.2" cy="658.7" r="9.4"/>
<circle class="r" cx="1241.3" cy="609.6" r="9.4"/>
<circle class="g" cx="1176.6" cy="652.9" r="9.4"/>
<circle class="r" cx="1233.8" cy="629.1" r="9.4"/>
<circle class="g" cx="1149.6" cy="659.9" r="9.4"/>
<circle class="r" cx="1210.1" cy="660.8" r="9.4"/>
<circle class="g" cx="1148.2" cy="650.7" r="9.4"/>
<circle class="g" cx="1156.1" cy="619.1" r="9.4"/>
<circle class="r" cx="1212.2" cy="656.9" r="9.4"/>
<circle class="g" cx="1148.4" cy="647.8" r="9.4"/>
<circle class="r" cx="1244.7" cy="656.4" r="9.4"/>
<circle class="r" cx="1208.0" cy="661.9" r="9.4"/>
<circle class="g" cx="1182.2" cy="660.0" r="9.4"/>
<circle class="r" cx="1244.8" cy="615.6" r="9.4"/>
<circle class="g" cx="1157.4" cy="651.4" r="9.4"/>
<circle class="r" cx="1216.9" cy="656.8" r="9.4"/>
<circle class="g" cx="1163.4" cy="632.2" r="9.4"/>
<circle class="r" cx="1242.0" cy="644.9" r="9.4"/>
<circle class="r" cx="1238.3" cy="615.1" r="9.4"/>
<circle class="r" cx="1219.6" cy="657.3" r="9.4"/>
<circle class="r" cx="1224.1" cy="650.0" r="9.4"/>
<circle class="r" cx="1216.6" cy="655.0" r="9.4"/>
<circle class="g" cx="1160.1" cy="634.4" r="9.4"/>
<circle class="r" cx="1222.0" cy="650.1" r="9.4"/>
<circle class="r" cx="1219.1" cy="656.6" r="9.4"/>
<circle class="r" cx="1228.1" cy="638.8" r="9.4"/>
<circle class="g" cx="1184.3" cy="660.8" r="9.4"/>
<circle class="g" cx="1151.0" cy="651.6" r="9.4"/>
<circle class="r" cx="1233.6" cy="641.8" r="9.4"/>
<circle class="r" cx="1223.8" cy="655.2" r="9.4"/>
<circle class="r" cx="1224.7" cy="659.1" r="9.4"/>
<circle class="r" cx="1232.9" cy="652.2" r="9.4"/>
<circle class="r" cx="1212.0" cy="660.8" r="9.4"/>
<circle class="r" cx="1210.6" cy="658.8" r="9.4"/>
<circle class="r" cx="1213.1" cy="659.0" r="9.4"/>
<circle class="g" cx="1177.2" cy="656.4" r="9.4"/>
<circle class="r" cx="1225.1" cy="657.7" r="9.4"/>
<circle class="g" cx="1155.6" cy="614.8" r="9.4"/>
<circle class="r" cx="1239.9" cy="659.9" r="9.4"/>
<circle class="g" cx="1177.7" cy="656.3" r="9.4"/>
<circle class="r" cx="1229.3" cy="657.5" r="9.4"/>
<circle class="r" cx="1216.4" cy="654.1" r="9.4"/>
<circle class="r" cx="1231.6" cy="630.5" r="9.4"/>
<circle class="r" cx="1242.6" cy="628.5" r="9.4"/>
<circle class="g" cx="1150.5" cy="659.6" r="9.4"/>
<circle class="r" cx="1235.0" cy="630.3" r="9.4"/>
<circle class="r" cx="1237.1" cy="617.5" r="9.4"/>
<circle class="r" cx="1232.1" cy="652.6" r="9.4"/>
<circle class="r" cx="1224.5" cy="642.5" r="9.4"/>
<circle class="r" cx="1234.7" cy="628.2" r="9.4"/>
<circle class="r" cx="1223.9" cy="646.1" r="9.4"/>
<circle class="g" cx="1181.7" cy="657.9" r="9.4"/>
<circle class="g" cx="1157.6" cy="620.4" r="9.4"/>
<circle class="r" cx="1236.4" cy="659.5" r="9.4"/>
<circle class="r" cx="1226.4" cy="654.4" r="9.4"/>
<circle class="g" cx="1164.4" cy="650.7" r="9.4"/>
<circle class="g" cx="1167.9" cy="650.0" r="9.4"/>
<circle class="r" cx="1220.3" cy="656.5" r="9.4"/>
<circle class="r" cx="1206.1" cy="661.3" r="9.4"/>
<circle class="r" cx="1211.5" cy="660.2" r="9.4"/>
<circle class="r" cx="1207.7" cy="661.3" r="9.4"/>
<circle class="g" cx="1151.8" cy="627.7" r="9.4"/>
<circle class="r" cx="1224.8" cy="652.1" r="9.4"/>
<circle class="g" cx="1173.1" cy="660.9" r="9.4"/>
<circle class="r" cx="1210.2" cy="660.0" r="9.4"/>
<circle class="g" cx="1179.1" cy="656.2" r="9.4"/>
<circle class="g" cx="1166.5" cy="638.9" r="9.4"/>
<circle class="r" cx="1233.8" cy="649.8" r="9.4"/>
<circle class="r" cx="1222.1" cy="645.9" r="9.4"/>
<circle class="g" cx="1181.5" cy="660.9" r="9.4"/>
<circle class="r" cx="1211.7" cy="661.2" r="9.4"/>
<circle class="g" cx="1160.0" cy="655.1" r="9.4"/>
<circle class="r" cx="1206.9" cy="661.2" r="9.4"/>
<circle class="r" cx="1215.0" cy="658.7" r="9.4"/>
<circle class="g" cx="1180.8" cy="656.9" r="9.4"/>
<circle class="g" cx="1184.9" cy="660.8" r="9.4"/>
<circle class="g" cx="1181.2" cy="658.0" r="9.4"/>
<circle class="r" cx="1211.5" cy="661.2" r="9.4"/>
<circle class="g" cx="1151.2" cy="624.6" r="9.4"/>
<circle class="g" cx="1168.0" cy="647.5" r="9.4"/>
<circle class="r" cx="1236.8" cy="619.3" r="9.4"/>
<circle class="r" cx="1235.7" cy="642.8" r="9.4"/>
<circle class="r" cx="1233.3" cy="650.6" r="9.4"/>
<circle class="r" cx="1232.8" cy="651.1" r="9.4"/>
<circle class="r" cx="1215.3" cy="659.4" r="9.4"/>
<circle class="r" cx="1207.6" cy="661.0" r="9.4"/>
<circle class="r" cx="1226.6" cy="658.5" r="9.4"/>
<circle class="g" cx="1156.8" cy="661.0" r="9.4"/>
<circle class="r" cx="1227.6" cy="660.3" r="9.4"/>
<circle class="g" cx="1175.5" cy="657.5" r="9.4"/>
<circle class="g" cx="1181.4" cy="661.3" r="9.4"/>
<circle class="g" cx="1163.2" cy="639.7" r="9.4"/>
<circle class="r" cx="1209.6" cy="659.3" r="9.4"/>
<circle class="r" cx="1222.4" cy="655.7" r="9.4"/>
<circle class="g" cx="1179.9" cy="657.7" r="9.4"/>
<circle class="r" cx="1226.5" cy="656.7" r="9.4"/>
<circle class="r" cx="1224.3" cy="652.0" r="9.4"/>
<circle class="g" cx="1168.4" cy="651.1" r="9.4"/>
<circle class="g" cx="1150.6" cy="647.6" r="9.4"/>
<circle class="r" cx="1231.0" cy="648.0" r="9.4"/>
<circle class="r" cx="1223.1" cy="659.9" r="9.4"/>
<circle class="r" cx="1224.3" cy="650.0" r="9.4"/>
<circle class="g" cx="1154.6" cy="646.9" r="9.4"/>
<circle class="g" cx="1156.6" cy="618.6" r="9.4"/>
<circle class="r" cx="1219.1" cy="659.2" r="9.4"/>
<circle class="r" cx="1217.4" cy="657.3" r="9.4"/>
<circle class="r" cx="1222.8" cy="657.9" r="9.4"/>
<circle class="g" cx="1167.5" cy="659.3" r="9.4"/>
<circle class="r" cx="1214.5" cy="656.6" r="9.4"/>
<circle class="g" cx="1164.2" cy="637.8" r="9.4"/>
<circle class="g" cx="1158.5" cy="630.9" r="9.4"/>
<circle class="r" cx="1208.7" cy="660.4" r="9.4"/>
<circle class="r" cx="1218.8" cy="659.7" r="9.4"/>
<circle class="g" cx="1165.8" cy="659.3" r="9.4"/>
<circle class="g" cx="1185.0" cy="662.5" r="9.4"/>
<circle class="r" cx="1217.9" cy="659.2" r="9.4"/>
<circle class="r" cx="1228.4" cy="658.4" r="9.4"/>
<circle class="g" cx="1180.3" cy="659.0" r="9.4"/>
<circle class="g" cx="1186.4" cy="661.1" r="9.4"/>
<circle class="g" cx="1165.3" cy="652.4" r="9.4"/>
<circle class="r" cx="1231.8" cy="635.2" r="9.4"/>
<circle class="r" cx="1216.2" cy="661.0" r="9.4"/>
<circle class="r" cx="1212.4" cy="659.0" r="9.4"/>
<circle class="g" cx="1151.2" cy="629.9" r="9.4"/>
<circle class="r" cx="1208.3" cy="660.8" r="9.4"/>
<circle class="r" cx="1225.5" cy="654.4" r="9.4"/>
<circle class="r" cx="1207.6" cy="661.0" r="9.4"/>
<circle class="g" cx="1174.9" cy="655.2" r="9.4"/>
<circle class="g" cx="1154.8" cy="615.3" r="9.4"/>
<circle class="r" cx="1212.6" cy="659.4" r="9.4"/>
<circle class="r" cx="1239.4" cy="659.8" r="9.4"/>
<circle class="r" cx="1235.2" cy="643.2" r="9.4"/>
<circle class="r" cx="1215.5" cy="658.4" r="9.4"/>
<circle class="r" cx="1211.9" cy="660.8" r="9.4"/>
<circle class="g" cx="1163.2" cy="650.8" r="9.4"/>
<circle class="r" cx="1232.1" cy="630.4" r="9.4"/>
<circle class="r" cx="1232.5" cy="630.7" r="9.4"/>
<circle class="r" cx="1209.1" cy="660.7" r="9.4"/>
<circle class="r" cx="1236.5" cy="626.9" r="9.4"/>
<circle class="g" cx="1151.4" cy="638.7" r="9.4"/>
<circle class="g" cx="1185.9" cy="661.2" r="9.4"/>
<circle class="g" cx="1182.4" cy="660.4" r="9.4"/>
<circle class="g" cx="1186.4" cy="662.6" r="9.4"/>
<circle class="g" cx="1153.6" cy="637.2" r="9.4"/>
<circle class="r" cx="1244.0" cy="655.1" r="9.4"/>
<circle class="r" cx="1224.3" cy="657.2" r="9.4"/>
<circle class="r" cx="1216.1" cy="661.2" r="9.4"/>
<circle class="g" cx="1154.0" cy="623.3" r="9.4"/>
<circle class="g" cx="1159.3" cy="658.6" r="9.4"/>
<circle class="r" cx="1237.5" cy="656.4" r="9.4"/>
<circle class="g" cx="1180.4" cy="660.2" r="9.4"/>
<circle class="r" cx="1242.9" cy="654.2" r="9.4"/>
<circle class="r" cx="1206.2" cy="661.2" r="9.4"/>
<circle class="r" cx="1210.1" cy="660.0" r="9.4"/>
<circle class="g" cx="1162.2" cy="644.3" r="9.4"/>
<circle class="g" cx="1176.6" cy="653.4" r="9.4"/>
<circle class="g" cx="1181.1" cy="660.1" r="9.4"/>
<circle class="r" cx="1231.6" cy="653.8" r="9.4"/>
<circle class="r" cx="1219.8" cy="656.6" r="9.4"/>
<circle class="g" cx="1186.1" cy="661.2" r="9.4"/>
<circle class="r" cx="1222.3" cy="645.9" r="9.4"/>
<circle class="r" cx="1244.8" cy="652.0" r="9.4"/>
<circle class="r" cx="1234.3" cy="624.3" r="9.4"/>
<circle class="r" cx="1223.2" cy="648.6" r="9.4"/>
<circle class="r" cx="1209.0" cy="660.8" r="9.4"/>
<circle class="r" cx="1216.7" cy="658.4" r="9.4"/>
<circle class="r" cx="1223.6" cy="659.0" r="9.4"/>
<circle class="g" cx="1160.6" cy="643.8" r="9.4"/>
<circle class="g" cx="1166.1" cy="651.6" r="9.4"/>
<circle class="r" cx="1217.1" cy="653.0" r="9.4"/>
<circle class="g" cx="1149.0" cy="661.1" r="9.4"/>
<circle class="g" cx="1172.9" cy="653.0" r="9.4"/>
<circle class="g" cx="1163.4" cy="649.5" r="9.4"/>
<circle class="r" cx="1244.7" cy="612.1" r="9.4"/>
<circle class="g" cx="1158.9" cy="622.7" r="9.4"/>
<circle class="g" cx="1160.4" cy="636.1" r="9.4"/>
<circle class="r" cx="1219.8" cy="651.1" r="9.4"/>
<circle class="g" cx="1155.2" cy="636.0" r="9.4"/>
<circle class="g" cx="1179.7" cy="658.5" r="9.4"/>
<circle class="r" cx="1205.6" cy="664.7" r="9.4"/>
<circle class="g" cx="1164.1" cy="660.2" r="9.4"/>
<circle class="g" cx="1175.2" cy="660.9" r="9.4"/>
<circle class="r" cx="1228.8" cy="652.0" r="9.4"/>
<circle class="g" cx="1163.8" cy="642.0" r="9.4"/>
<circle class="g" cx="1175.9" cy="652.1" r="9.4"/>
<circle class="g" cx="1148.6" cy="637.8" r="9.4"/>
<circle class="g" cx="1148.7" cy="647.7" r="9.4"/>
<circle class="g" cx="1170.7" cy="646.0" r="9.4"/>
<circle class="g" cx="1182.6" cy="660.5" r="9.4"/>
<circle class="r" cx="1242.5" cy="605.3" r="9.4"/>
<circle class="r" cx="1234.6" cy="651.8" r="9.4"/>
<circle class="r" cx="1216.9" cy="655.7" r="9.4"/>
<circle class="r" cx="1217.4" cy="652.1" r="9.4"/>
<circle class="r" cx="1222.5" cy="656.3" r="9.4"/>
<circle class="r" cx="1215.0" cy="656.9" r="9.4"/>
<circle class="r" cx="1225.7" cy="655.1" r="9.4"/>
<circle class="g" cx="1148.1" cy="639.0" r="9.4"/>
<circle class="r" cx="1243.3" cy="629.3" r="9.4"/>
<circle class="g" cx="1156.3" cy="621.7" r="9.4"/>
<circle class="r" cx="1235.6" cy="656.6" r="9.4"/>
<circle class="g" cx="1166.8" cy="645.7" r="9.4"/>
<circle class="g" cx="1181.0" cy="660.6" r="9.4"/>
<circle class="r" cx="1232.0" cy="646.1" r="9.4"/>
<circle class="g" cx="1153.8" cy="638.5" r="9.4"/>
<circle class="r" cx="1226.2" cy="650.1" r="9.4"/>
<circle class="g" cx="1173.5" cy="648.5" r="9.4"/>
<circle class="r" cx="1218.7" cy="658.3" r="9.4"/>
<circle class="r" cx="1235.9" cy="659.9" r="9.4"/>
<circle class="r" cx="1243.1" cy="644.0" r="9.4"/>
<circle class="r" cx="1229.1" cy="636.4" r="9.4"/>
<circle class="r" cx="1230.1" cy="647.1" r="9.4"/>
<circle class="g" cx="1167.5" cy="660.7" r="9.4"/>
<circle class="r" cx="1240.7" cy="648.6" r="9.4"/>
<circle class="r" cx="1215.6" cy="658.5" r="9.4"/>
<circle class="r" cx="1226.5" cy="639.3" r="9.4"/>
<circle class="r" cx="1212.5" cy="660.8" r="9.4"/>
<circle class="r" cx="1218.7" cy="656.0" r="9.4"/>
<circle class="r" cx="1225.5" cy="659.4" r="9.4"/>
<circle class="r" cx="1211.6" cy="660.6" r="9.4"/>
<circle class="g" cx="1178.6" cy="661.0" r="9.4"/>
<circle class="g" cx="1176.9" cy="655.1" r="9.4"/>
<circle class="g" cx="1149.7" cy="650.1" r="9.4"/>
<circle class="g" cx="1163.2" cy="644.1" r="9.4"/>
<circle class="r" cx="1237.4" cy="624.9" r="9.4"/>
<circle class="r" cx="1209.3" cy="661.0" r="9.4"/>
<circle class="r" cx="1226.5" cy="641.1" r="9.4"/>
<circle class="r" cx="1230.8" cy="655.3" r="9.4"/>
<circle class="g" cx="1154.9" cy="638.4" r="9.4"/>
<circle class="r" cx="1207.6" cy="660.9" r="9.4"/>
<circle class="r" cx="1229.3" cy="652.2" r="9.4"/>
<circle class="r" cx="1208.1" cy="660.8" r="9.4"/>
<circle class="r" cx="1212.9" cy="660.0" r="9.4"/>
<circle class="r" cx="1227.2" cy="645.6" r="9.4"/>
<circle class="r" cx="1214.4" cy="659.2" r="9.4"/>
<circle class="r" cx="1228.8" cy="649.8" r="9.4"/>
<circle class="r" cx="1244.7" cy="648.5" r="9.4"/>
<circle class="g" cx="1175.7" cy="655.5" r="9.4"/>
<circle class="r" cx="1214.5" cy="656.7" r="9.4"/>
<circle class="g" cx="1174.1" cy="657.5" r="9.4"/>
<circle class="g" cx="1170.0" cy="659.5" r="9.4"/>
<circle class="g" cx="1178.6" cy="659.0" r="9.4"/>
<circle class="g" cx="1152.9" cy="647.9" r="9.4"/>
<circle class="g" cx="1156.4" cy="658.3" r="9.4"/>
<circle class="g" cx="1168.3" cy="642.4" r="9.4"/>
<circle class="g" cx="1180.7" cy="657.6" r="9.4"/>
<circle class="g" cx="1162.7" cy="641.8" r="9.4"/>
<circle class="g" cx="1185.1" cy="661.0" r="9.4"/>
<circle class="r" cx="1231.3" cy="655.7" r="9.4"/>
<circle class="r" cx="1242.9" cy="661.3" r="9.4"/>
<circle class="r" cx="1206.2" cy="661.3" r="9.4"/>
<circle class="g" cx="1167.5" cy="653.8" r="9.4"/>
<circle class="r" cx="1206.4" cy="661.2" r="9.4"/>
<circle class="g" cx="1168.9" cy="651.0" r="9.4"/>
<circle class="r" cx="1235.2" cy="661.3" r="9.4"/>
<circle class="r" cx="1220.6" cy="657.1" r="9.4"/>
<circle class="r" cx="1232.5" cy="642.1" r="9.4"/>
<circle class="g" cx="1186.2" cy="661.1" r="9.4"/>
<circle class="r" cx="1219.0" cy="657.8" r="9.4"/>
<circle class="r" cx="1240.5" cy="651.5" r="9.4"/>
<circle class="r" cx="1237.2" cy="619.1" r="9.4"/>
<circle class="g" cx="1187.4" cy="661.8" r="9.4"/>
<circle class="r" cx="1217.8" cy="657.9" r="9.4"/>
<circle class="r" cx="1238.1" cy="623.0" r="9.4"/>
<circle class="g" cx="1165.6" cy="658.2" r="9.4"/>
<circle class="r" cx="1212.9" cy="656.5" r="9.4"/>
<circle class="r" cx="1225.9" cy="647.0" r="9.4"/>
<circle class="g" cx="1181.5" cy="659.0" r="9.4"/>
<circle class="g" cx="1159.5" cy="656.2" r="9.4"/>
<circle class="r" cx="1210.5" cy="658.6" r="9.4"/>
<circle class="g" cx="1184.5" cy="660.5" r="9.4"/>
<circle class="r" cx="1236.7" cy="626.7" r="9.4"/>
<circle class="g" cx="1149.0" cy="656.3" r="9.4"/>
<circle class="g" cx="1164.3" cy="661.0" r="9.4"/>
<circle class="r" cx="1212.6" cy="658.7" r="9.4"/>
<circle class="g" cx="1164.5" cy="650.1" r="9.4"/>
<circle class="g" cx="1181.4" cy="659.2" r="9.4"/>
<circle class="g" cx="1163.3" cy="636.4" r="9.4"/>
<circle class="g" cx="1179.4" cy="660.6" r="9.4"/>
<circle class="g" cx="1176.1" cy="655.8" r="9.4"/>
<circle class="r" cx="1241.9" cy="627.2" r="9.4"/>
<circle class="r" cx="1215.7" cy="656.8" r="9.4"/>
<circle class="g" cx="1150.6" cy="658.7" r="9.4"/>
<circle class="r" cx="1229.4" cy="658.6" r="9.4"/>
<circle class="r" cx="1231.9" cy="654.1" r="9.4"/>
<circle class="g" cx="1151.2" cy="637.1" r="9.4"/>
<circle class="r" cx="1240.0" cy="648.1" r="9.4"/>
<circle class="g" cx="1170.2" cy="653.9" r="9.4"/>
<circle class="r" cx="1212.5" cy="659.3" r="9.4"/>
<circle class="r" cx="1230.8" cy="631.7" r="9.4"/>
<circle class="g" cx="1168.2" cy="661.2" r="9.4"/>
<circle class="g" cx="1182.0" cy="660.8" r="9.4"/>
<circle class="r" cx="1239.3" cy="653.1" r="9.4"/>
<circle class="r" cx="1206.3" cy="661.3" r="9.4"/>
<circle class="r" cx="1215.5" cy="659.1" r="9.4"/>
<circle class="g" cx="1160.2" cy="632.3" r="9.4"/>
<circle class="g" cx="1179.1" cy="659.5" r="9.4"/>
<circle class="r" cx="1241.1" cy="608.3" r="9.4"/>
<circle class="r" cx="1224.5" cy="657.3" r="9.4"/>
<circle class="g" cx="1174.6" cy="651.6" r="9.4"/>
<circle class="g" cx="1184.7" cy="660.9" r="9.4"/>
<circle class="r" cx="1226.5" cy="659.1" r="9.4"/>
<circle class="r" cx="1212.4" cy="659.4" r="9.4"/>
<circle class="r" cx="1211.1" cy="660.9" r="9.4"/>
<circle class="r" cx="1244.7" cy="621.8" r="9.4"/>
<circle class="r" cx="1235.0" cy="626.5" r="9.4"/>
<circle class="r" cx="1237.3" cy="655.9" r="9.4"/>
<circle class="g" cx="1181.0" cy="660.0" r="9.4"/>
<circle class="r" cx="1218.1" cy="650.9" r="9.4"/>
<circle class="r" cx="1206.8" cy="661.7" r="9.4"/>
<circle class="g" cx="1155.5" cy="660.0" r="9.4"/>
<circle class="g" cx="1170.3" cy="655.3" r="9.4"/>
<circle class="g" cx="1176.6" cy="654.3" r="9.4"/>
<circle class="r" cx="1225.7" cy="658.4" r="9.4"/>
<circle class="g" cx="1158.9" cy="652.5" r="9.4"/>
<circle class="r" cx="1221.9" cy="653.1" r="9.4"/>
<circle class="r" cx="1232.6" cy="656.4" r="9.4"/>
<circle class="g" cx="1167.6" cy="641.1" r="9.4"/>
<circle class="g" cx="1177.1" cy="654.3" r="9.4"/>
<circle class="r" cx="1215.3" cy="656.3" r="9.4"/>
<circle class="r" cx="1225.5" cy="645.3" r="9.4"/>
<circle class="r" cx="1242.3" cy="639.9" r="9.4"/>
<circle class="r" cx="1219.9" cy="661.2" r="9.4"/>
<circle class="r" cx="1228.3" cy="656.7" r="9.4"/>
<circle class="r" cx="1212.8" cy="660.5" r="9.4"/>
<circle class="r" cx="1218.7" cy="650.8" r="9.4"/>
<circle class="g" cx="1168.4" cy="641.8" r="9.4"/>
<circle class="g" cx="1170.9" cy="658.2" r="9.4"/>
<circle class="g" cx="1155.9" cy="656.6" r="9.4"/>
<circle class="r" cx="1227.3" cy="641.1" r="9.4"/>
<circle class="g" cx="1174.9" cy="655.5" r="9.4"/>
<circle class="r" cx="1218.6" cy="651.0" r="9.4"/>
<circle class="r" cx="1237.9" cy="616.2" r="9.4"/>
<circle class="r" cx="1212.6" cy="657.2" r="9.4"/>
<circle class="g" cx="1151.7" cy="634.8" r="9.4"/>
<circle class="g" cx="1178.1" cy="655.0" r="9.4"/>
<circle class="r" cx="1241.0" cy="660.8" r="9.4"/>
<circle class="g" cx="1177.4" cy="661.0" r="9.4"/>
<circle class="r" cx="1221.7" cy="650.4" r="9.4"/>
<circle class="r" cx="1240.9" cy="635.8" r="9.4"/>
<circle class="r" cx="1212.8" cy="660.2" r="9.4"/>
<circle class="r" cx="1238.1" cy="615.2" r="9.4"/>
<circle class="r" cx="1234.1" cy="625.7" r="9.4"/>
<circle class="r" cx="1230.7" cy="635.6" r="9.4"/>
<circle class="r" cx="1212.3" cy="658.7" r="9.4"/>
<circle class="r" cx="1213.4" cy="656.6" r="9.4"/>
<circle class="g" cx="1151.6" cy="652.6" r="9.4"/>
<circle class="r" cx="1225.4" cy="644.3" r="9.4"/>
<circle class="g" cx="1179.1" cy="655.9" r="9.4"/>
<circle class="r" cx="1229.6" cy="648.2" r="9.4"/>
<circle class="r" cx="1217.7" cy="655.2" r="9.4"/>
<circle class="r" cx="1240.2" cy="612.6" r="9.4"/>
<circle class="r" cx="1241.5" cy="652.6" r="9.4"/>
<circle class="r" cx="1234.8" cy="623.3" r="9.4"/>
<circle class="g" cx="1166.2" cy="652.8" r="9.4"/>
<circle class="g" cx="1157.7" cy="658.7" r="9.4"/>
<circle class="r" cx="1212.1" cy="660.3" r="9.4"/>
<circle class="r" cx="1219.1" cy="651.6" r="9.4"/>
<circle class="r" cx="1240.5" cy="620.6" r="9.4"/>
<circle class="g" cx="1160.5" cy="660.7" r="9.4"/>
<circle class="r" cx="1226.4" cy="639.0" r="9.4"/>
<circle class="r" cx="1212.0" cy="659.5" r="9.4"/>
<circle class="r" cx="1242.1" cy="644.6" r="9.4"/>
<circle class="g" cx="1159.7" cy="626.6" r="9.4"/>
<circle class="r" cx="1226.9" cy="639.4" r="9.4"/>
<circle class="r" cx="1206.4" cy="661.1" r="9.4"/>
<circle class="g" cx="1162.8" cy="630.9" r="9.4"/>
<circle class="r" cx="1235.9" cy="630.2" r="9.4"/>
<circle class="r" cx="1243.7" cy="659.3" r="9.4"/>
<circle class="g" cx="1185.2" cy="660.9" r="9.4"/>
<circle class="r" cx="1227.3" cy="639.3" r="9.4"/>
<circle class="r" cx="1242.2" cy="650.6" r="9.4"/>
<circle class="g" cx="1152.5" cy="634.1" r="9.4"/>
<circle class="r" cx="1220.0" cy="658.5" r="9.4"/>
<circle class="g" cx="1153.5" cy="654.9" r="9.4"/>
<circle class="g" cx="1165.6" cy="640.2" r="9.4"/>
<circle class="g" cx="1169.9" cy="649.7" r="9.4"/>
<circle class="g" cx="1180.3" cy="658.2" r="9.4"/>
<circle class="g" cx="1154.7" cy="654.4" r="9.4"/>
<circle class="r" cx="1237.5" cy="651.2" r="9.4"/>
<circle class="r" cx="1223.5" cy="651.8" r="9.4"/>
<circle class="r" cx="1216.4" cy="661.2" r="9.4"/>
<circle class="r" cx="1229.0" cy="655.5" r="9.4"/>
<circle class="r" cx="1230.8" cy="636.0" r="9.4"/>
<circle class="r" cx="1225.7" cy="644.4" r="9.4"/>
<circle class="r" cx="1209.5" cy="661.0" r="9.4"/>
<circle class="r" cx="1238.3" cy="624.1" r="9.4"/>
<circle class="g" cx="1176.3" cy="655.1" r="9.4"/>
<circle class="r" cx="1213.1" cy="661.2" r="9.4"/>
<circle class="r" cx="1222.1" cy="660.0" r="9.4"/>
<circle class="r" cx="1243.9" cy="655.8" r="9.4"/>
<circle class="r" cx="1220.7" cy="648.7" r="9.4"/>
<circle class="r" cx="1213.2" cy="660.7" r="9.4"/>
<circle class="g" cx="1152.4" cy="640.1" r="9.4"/>
<circle class="r" cx="1223.5" cy="657.4" r="9.4"/>
<circle class="r" cx="1223.7" cy="659.5" r="9.4"/>
<circle class="r" cx="1235.3" cy="644.8" r="9.4"/>
<circle class="r" cx="1222.3" cy="652.2" r="9.4"/>
<circle class="r" cx="1233.6" cy="625.2" r="9.4"/>
<circle class="r" cx="1241.6" cy="641.6" r="9.4"/>
<circle class="r" cx="1240.1" cy="648.6" r="9.4"/>
<circle class="r" cx="1239.2" cy="635.3" r="9.4"/>
<circle class="g" cx="1172.1" cy="660.5" r="9.4"/>
<circle class="g" cx="1152.8" cy="660.6" r="9.4"/>
<circle class="g" cx="1185.8" cy="660.8" r="9.4"/>
<circle class="r" cx="1213.0" cy="657.3" r="9.4"/>
<circle class="r" cx="1225.1" cy="659.2" r="9.4"/>
<circle class="g" cx="1158.5" cy="624.6" r="9.4"/>
<circle class="g" cx="1149.2" cy="631.4" r="9.4"/>
<circle class="g" cx="1149.8" cy="640.9" r="9.4"/>
<circle class="g" cx="1151.3" cy="631.6" r="9.4"/>
<circle class="r" cx="1210.0" cy="661.2" r="9.4"/>
<circle class="r" cx="1226.3" cy="646.0" r="9.4"/>
<circle class="r" cx="1227.3" cy="660.7" r="9.4"/>
<circle class="r" cx="1243.1" cy="611.9" r="9.4"/>
<circle class="g" cx="1161.2" cy="629.4" r="9.4"/>
<circle class="r" cx="1209.4" cy="659.8" r="9.4"/>
<circle class="g" cx="1149.1" cy="648.5" r="9.4"/>
<circle class="r" cx="1211.9" cy="658.4" r="9.4"/>
<circle class="g" cx="1167.3" cy="640.9" r="9.4"/>
<circle class="r" cx="1211.7" cy="659.2" r="9.4"/>
<circle class="r" cx="1214.9" cy="656.1" r="9.4"/>
<circle class="r" cx="1218.4" cy="656.4" r="9.4"/>
<circle class="r" cx="1208.4" cy="661.2" r="9.4"/>
<circle class="r" cx="1235.0" cy="643.4" r="9.4"/>
<circle class="r" cx="1235.0" cy="634.7" r="9.4"/>
<circle class="g" cx="1147.6" cy="639.2" r="9.4"/>
<circle class="g" cx="1184.1" cy="661.2" r="9.4"/>
<circle class="g" cx="1152.5" cy="649.5" r="9.4"/>
<circle class="r" cx="1209.8" cy="661.1" r="9.4"/>
<circle class="r" cx="1219.5" cy="653.9" r="9.4"/>
<circle class="g" cx="1186.3" cy="661.2" r="9.4"/>
<circle class="g" cx="1150.8" cy="655.0" r="9.4"/>
<circle class="g" cx="1152.2" cy="658.3" r="9.4"/>
<circle class="g" cx="1186.4" cy="662.4" r="9.4"/>
<circle class="r" cx="1216.7" cy="652.5" r="9.4"/>
<circle class="r" cx="1234.1" cy="639.0" r="9.4"/>
<circle class="r" cx="1210.5" cy="660.8" r="9.4"/>
<circle class="r" cx="1207.6" cy="661.0" r="9.4"/>
<circle class="r" cx="1227.8" cy="644.5" r="9.4"/>
<circle class="g" cx="1157.1" cy="651.2" r="9.4"/>
<circle class="r" cx="1218.6" cy="651.2" r="9.4"/>
<circle class="g" cx="1184.6" cy="660.6" r="9.4"/>
<circle class="g" cx="1182.3" cy="661.0" r="9.4"/>
<circle class="r" cx="1207.3" cy="660.8" r="9.4"/>
<circle class="r" cx="1215.7" cy="654.4" r="9.4"/>
<circle class="r" cx="1211.1" cy="660.5" r="9.4"/>
<circle class="r" cx="1216.4" cy="652.9" r="9.4"/>
<circle class="r" cx="1232.9" cy="654.7" r="9.4"/>
<circle class="g" cx="1170.7" cy="652.2" r="9.4"/>
<circle class="r" cx="1230.1" cy="659.3" r="9.4"/>
<circle class="g" cx="1155.7" cy="620.7" r="9.4"/>
<circle class="g" cx="1184.1" cy="661.3" r="9.4"/>
<circle class="r" cx="1211.2" cy="659.6" r="9.4"/>
<circle class="r" cx="1217.7" cy="660.2" r="9.4"/>
<circle class="r" cx="1210.8" cy="661.1" r="9.4"/>
<circle class="r" cx="1210.9" cy="659.4" r="9.4"/>
<circle class="g" cx="1160.8" cy="653.3" r="9.4"/>
<circle class="r" cx="1230.7" cy="638.4" r="9.4"/>
<circle class="r" cx="1227.3" cy="638.8" r="9.4"/>
<circle class="g" cx="1182.0" cy="659.1" r="9.4"/>
<circle class="r" cx="1226.5" cy="653.2" r="9.4"/>
<circle class="g" cx="1167.1" cy="654.1" r="9.4"/>
<circle class="r" cx="1228.0" cy="659.3" r="9.4"/>
<circle class="r" cx="1219.1" cy="650.5" r="9.4"/>
<circle class="r" cx="1218.8" cy="658.2" r="9.4"/>
<circle class="r" cx="1242.4" cy="626.9" r="9.4"/>
<circle class="r" cx="1239.1" cy="654.1" r="9.4"/>
<circle class="r" cx="1240.6" cy="651.8" r="9.4"/>
<circle class="g" cx="1175.8" cy="654.1" r="9.4"/>
<circle class="n" cx="1096.6" cy="664.3" r="9.4"/>
<circle class="n" cx="1096.7" cy="663.0" r="9.4"/>
<circle class="n" cx="1103.6" cy="662.6" r="9.4"/>
<circle class="n" cx="1113.5" cy="663.6" r="9.4"/>
<circle class="n" cx="1119.7" cy="662.8" r="9.4"/>
<circle class="n" cx="1124.9" cy="663.3" r="9.4"/>
<circle class="n" cx="1128.1" cy="664.1" r="9.4"/>
<circle class="n" cx="1134.3" cy="662.0" r="9.4"/>
<circle class="n" cx="1143.8" cy="664.3" r="9.4"/>
<circle class="n" cx="1142.1" cy="663.7" r="9.4"/>
<circle class="n" cx="1153.6" cy="663.3" r="9.4"/>
<circle class="n" cx="1154.1" cy="663.4" r="9.4"/>
<circle class="n" cx="1164.0" cy="662.6" r="9.4"/>
<circle class="n" cx="1168.2" cy="662.8" r="9.4"/>
<circle class="n" cx="1176.5" cy="662.9" r="9.4"/>
<circle class="n" cx="1176.4" cy="662.6" r="9.4"/>
<circle class="n" cx="1182.9" cy="664.3" r="9.4"/>
<circle class="n" cx="1191.9" cy="664.4" r="9.4"/>
<circle class="n" cx="1193.9" cy="663.4" r="9.4"/>
<circle class="n" cx="1203.3" cy="664.2" r="9.4"/>
<circle class="n" cx="1213.6" cy="662.3" r="9.4"/>
<circle class="n" cx="1215.0" cy="663.0" r="9.4"/>
<circle class="n" cx="1219.2" cy="662.0" r="9.4"/>
<circle class="n" cx="1223.2" cy="663.7" r="9.4"/>
<circle class="n" cx="1229.9" cy="662.3" r="9.4"/>
<circle class="n" cx="1238.3" cy="663.4" r="9.4"/>
<circle class="n" cx="1243.0" cy="662.2" r="9.4"/>
<circle class="n" cx="1247.5" cy="662.4" r="9.4"/>
<circle class="n" cx="1257.4" cy="663.3" r="9.4"/>
<circle class="n" cx="1260.0" cy="663.3" r="9.4"/>
<circle class="n" cx="1266.6" cy="663.6" r="9.4"/>
<circle class="n" cx="1273.9" cy="663.4" r="9.4"/>
<circle class="n" cx="1276.7" cy="662.5" r="9.4"/>
<circle class="n" cx="1283.9" cy="663.2" r="9.4"/>
<circle class="n" cx="1293.5" cy="663.3" r="9.4"/>
<circle class="n" cx="1294.7" cy="662.2" r="9.4"/>
</g>
<path class="ax" stroke-width="1.8" d="M1019.2 59.0V692.0H1506.5"/>
<path class="ax" stroke-width="1.5" d="M1005.7 664.0H1019.2"/>
<text class="tk" x="1001.7" y="669.7" text-anchor="end">0</text>
<path class="ax" stroke-width="1.5" d="M1005.7 456.8H1019.2"/>
<text class="tk" x="1001.7" y="462.4" text-anchor="end">100</text>
<path class="ax" stroke-width="1.5" d="M1005.7 249.5H1019.2"/>
<text class="tk" x="1001.7" y="255.2" text-anchor="end">200</text>
<path class="ax" stroke-width="2" d="M1147.4 692.0V706.0"/>
<text class="tk" x="1147.4" y="721.8" text-anchor="middle">-2</text>
<path class="ax" stroke-width="2" d="M1196.2 692.0V706.0"/>
<text class="tk" x="1196.2" y="721.8" text-anchor="middle">0</text>
<path class="ax" stroke-width="2" d="M1245.0 692.0V706.0"/>
<text class="tk" x="1245.0" y="721.8" text-anchor="middle">2</text>
<path class="ax" stroke-width="3.4" d="M1019.2 661.2H1506.5"/>
<path class="ax" stroke-width="3.2" d="M1196.2 59.0V706.0"/>
<path class="ax" stroke-width="3.7" stroke-dasharray="23.6 11.35" d="M1147.4 661.0V59.0"/>
<path class="ax" stroke-width="3.7" stroke-dasharray="23.6 11.35" d="M1245.0 661.0V59.0"/>
<path class="ax" stroke-width="3.7" d="M1147.4 661V602"/>
<path class="ax" stroke-width="3.7" d="M1245.0 661V567.5"/>
<text class="b" x="1263.7" y="746.2" font-size="26.1" text-anchor="middle">log2FC</text>
<text class="b" transform="translate(970.5 382) rotate(-90)" font-size="25.8" text-anchor="middle">-log10(padj)</text>
<text class="b" x="197.0" y="834.7" font-size="38.6" letter-spacing="1.05">CTL vs A</text>
<text x="368.0" y="834.7" font-size="41" style="font-family:'Liberation Serif', 'Times New Roman', Times, serif;fill:#000">&#946;</text>
<text class="b" x="1049.8" y="834.7" font-size="38.6" letter-spacing="1.05">CTL vs A</text>
<text x="1220.8" y="834.7" font-size="41" style="font-family:'Liberation Serif', 'Times New Roman', Times, serif;fill:#000">&#946;</text>
<text class="b" x="1250.6" y="834.7" font-size="38.6" letter-spacing=".05">+ 12CIII1</text>
<path class="ax" stroke-width="2.8" d="M292 1474.4L470 1470.3"/>
<path class="ax" stroke-width="2.8" d="M1243 1474.4L1060 1470.3"/>
<circle cx="292.0" cy="1187.7" r="286.3" style="fill:#84a2d8;stroke:#000;stroke-opacity:1;stroke-width:1.5px"/>
<circle cx="292.0" cy="1264.7" r="209.3" style="fill:#6279d8;stroke:#000;stroke-opacity:1;stroke-width:1.5px"/>
<circle cx="292.0" cy="1338.4" r="135.6" style="fill:#2b37dc;stroke:#000;stroke-opacity:1;stroke-width:1.5px"/>
<text class="pal" x="296.6" y="970.7" text-anchor="middle" textLength="217.5" lengthAdjust="spacingAndGlyphs" font-size="40.3">18648 Genes</text>
<text class="pal" x="296.0" y="1017.6" text-anchor="middle" textLength="171.0" lengthAdjust="spacingAndGlyphs" font-size="40.3">Identified</text>
<text class="cal" x="291.0" y="1138.5" text-anchor="middle" textLength="190.0" lengthAdjust="spacingAndGlyphs">4578 Genes</text>
<text class="cal" x="291.3" y="1185.8" text-anchor="middle" textLength="224.5" lengthAdjust="spacingAndGlyphs">p-value &lt; 0.05</text>
<text class="cal2" x="291.5" y="1280.7" text-anchor="middle" textLength="80.0" lengthAdjust="spacingAndGlyphs">2455</text>
<text class="cal2" x="291.3" y="1327.6" text-anchor="middle" textLength="99.5" lengthAdjust="spacingAndGlyphs">Genes</text>
<text class="cal2" x="290.8" y="1374.5" text-anchor="middle" textLength="225.5" lengthAdjust="spacingAndGlyphs">q-value &lt; 0.05</text>
<circle cx="1242.8" cy="1187.7" r="286.3" style="fill:#84a2d8;stroke:#000;stroke-opacity:1;stroke-width:1.5px"/>
<circle cx="1242.8" cy="1264.7" r="209.3" style="fill:#6279d8;stroke:#000;stroke-opacity:1;stroke-width:1.5px"/>
<circle cx="1242.8" cy="1338.4" r="135.6" style="fill:#2b37dc;stroke:#000;stroke-opacity:1;stroke-width:1.5px"/>
<text class="pal" x="1247.8" y="975.8" text-anchor="middle" textLength="254.5" lengthAdjust="spacingAndGlyphs" font-size="47.0">19127 Genes</text>
<text class="pal" x="1247.3" y="1031.7" text-anchor="middle" textLength="198.5" lengthAdjust="spacingAndGlyphs" font-size="47.0">Identified</text>
<text class="cal" x="1248.7" y="1138.0" text-anchor="middle" textLength="189.5" lengthAdjust="spacingAndGlyphs">4359 Genes</text>
<text class="cal" x="1248.3" y="1183.0" text-anchor="middle" textLength="224.5" lengthAdjust="spacingAndGlyphs">p-value &lt; 0.05</text>
<text class="cal2" x="1240.5" y="1279.5" text-anchor="middle" textLength="80.0" lengthAdjust="spacingAndGlyphs">2520</text>
<text class="cal2" x="1240.3" y="1325.7" text-anchor="middle" textLength="100.0" lengthAdjust="spacingAndGlyphs">Genes</text>
<text class="cal2" x="1240.0" y="1371.8" text-anchor="middle" textLength="224.5" lengthAdjust="spacingAndGlyphs">q-value &lt; 0.05</text>
<ellipse cx="669.3" cy="1470.1" rx="201.8" ry="135.5" style="fill:rgb(39,54,216);fill-opacity:.69;stroke:none"/>
<ellipse cx="869.0" cy="1470.1" rx="192.7" ry="135.5" style="fill:rgb(39,54,216);fill-opacity:.69;stroke:none"/>
<ellipse cx="669.3" cy="1470.1" rx="201.8" ry="135.5" style="fill:none;stroke:#000;stroke-width:1.5px"/>
<ellipse cx="869.0" cy="1470.1" rx="192.7" ry="135.5" style="fill:none;stroke:#000;stroke-width:1.5px"/>
<text class="cal3" x="568.0" y="1424.3" text-anchor="middle" textLength="81.5" lengthAdjust="spacingAndGlyphs">1819</text>
<text class="cal3" x="568.0" y="1473.0" text-anchor="middle" textLength="115.5" lengthAdjust="spacingAndGlyphs">Unique</text>
<text class="cal3" x="568.0" y="1520.5" text-anchor="middle" textLength="96.0" lengthAdjust="spacingAndGlyphs">genes</text>
<text class="cal3" x="778.4" y="1427.7" text-anchor="middle" textLength="61.0" lengthAdjust="spacingAndGlyphs">636</text>
<text class="cal3" x="778.4" y="1476.0" text-anchor="middle" textLength="146.0" lengthAdjust="spacingAndGlyphs">Common</text>
<text class="cal3" x="778.4" y="1523.0" text-anchor="middle" textLength="95.5" lengthAdjust="spacingAndGlyphs">genes</text>
<text class="cal3" x="961.5" y="1426.5" text-anchor="middle" textLength="81.5" lengthAdjust="spacingAndGlyphs">1884</text>
<text class="cal3" x="961.5" y="1474.3" text-anchor="middle" textLength="115.5" lengthAdjust="spacingAndGlyphs">Unique</text>
<text class="cal3" x="961.5" y="1521.7" text-anchor="middle" textLength="96.0" lengthAdjust="spacingAndGlyphs">genes</text>
</svg>
</body></html>
